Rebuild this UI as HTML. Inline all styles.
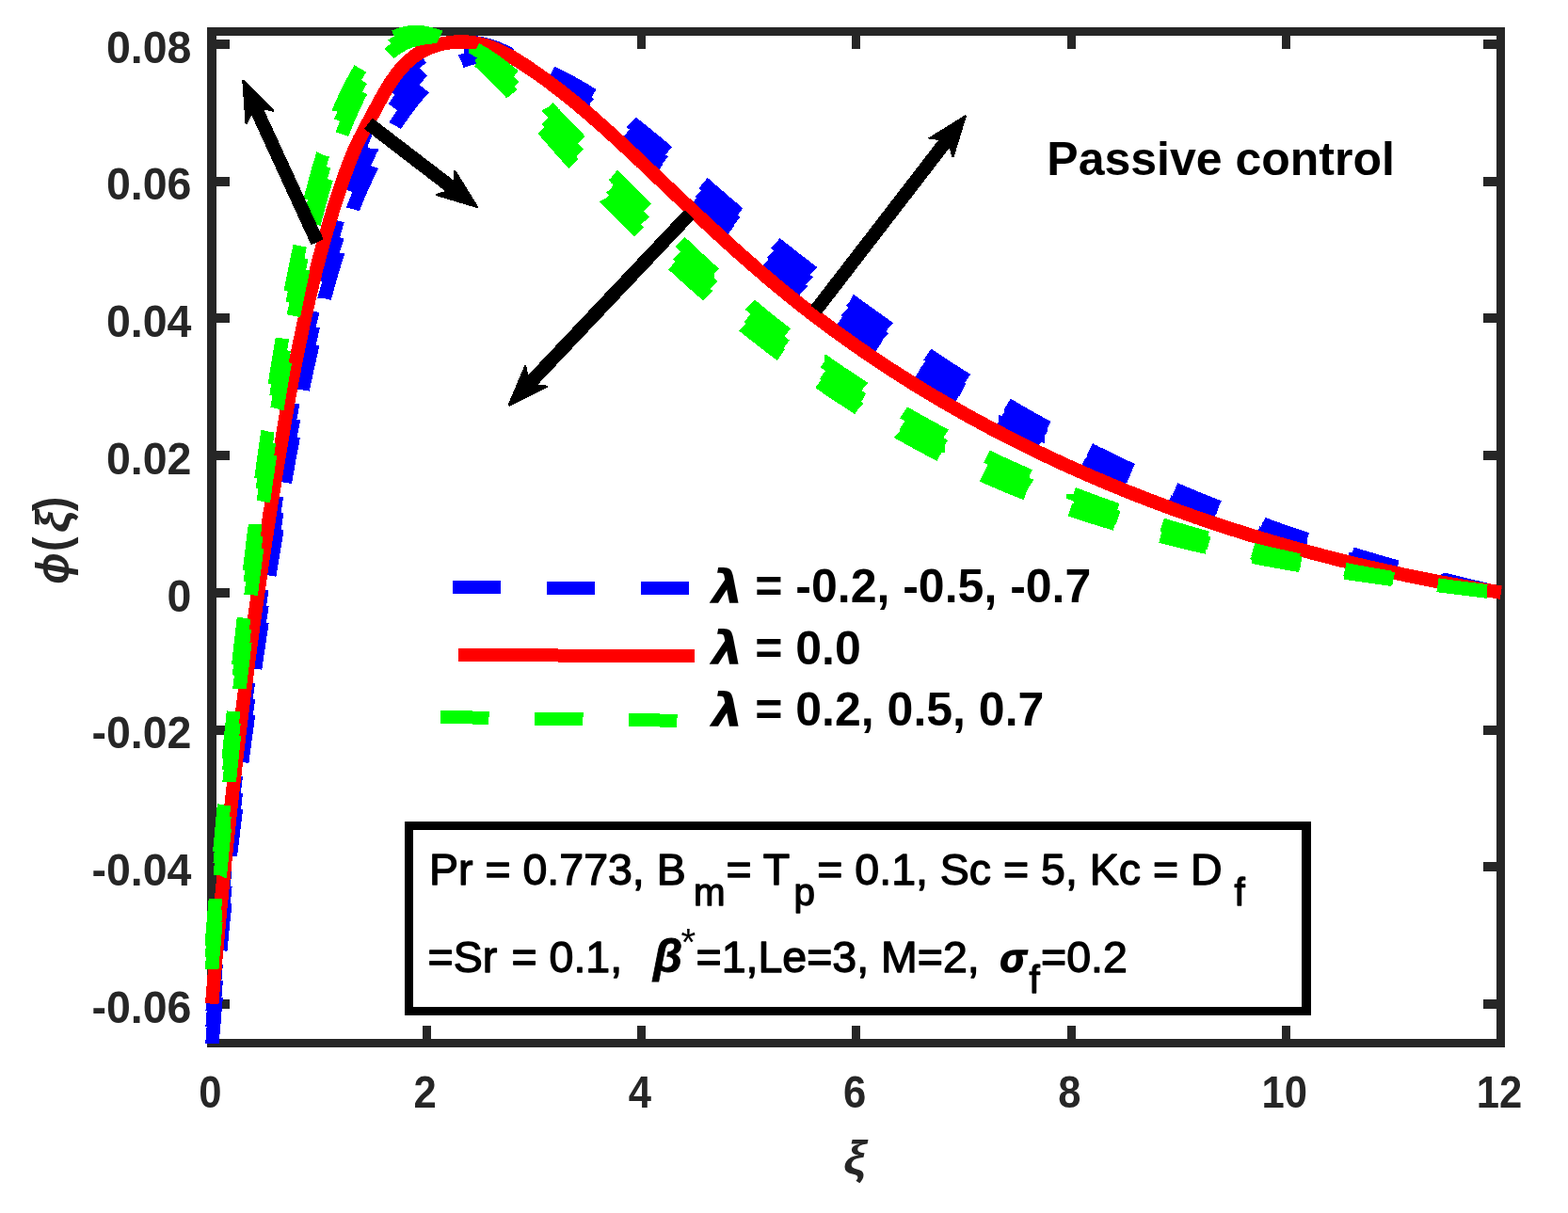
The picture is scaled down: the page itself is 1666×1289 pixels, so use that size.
<!DOCTYPE html>
<html lang="en"><head><meta charset="utf-8"><title>Passive control</title>
<style>html,body{margin:0;padding:0;background:#fff}body{width:1666px;height:1289px;overflow:hidden}svg{display:block}</style>
</head><body>
<svg width="1666" height="1289" viewBox="0 0 1666 1289" role="img" aria-label="Passive control concentration profiles">
<rect width="1666" height="1289" fill="#fff"/>
<defs><clipPath id="ax"><rect x="217.5" y="26.0" width="1378.0" height="1083.0"/></clipPath></defs>
<g shape-rendering="crispEdges" fill="#262626">
<rect x="220" y="29" width="10" height="1084"/>
<rect x="1590" y="29" width="9" height="1084"/>
<rect x="220" y="29" width="1379" height="9"/>
<rect x="220" y="1104" width="1379" height="9"/>
<rect x="220" y="1090" width="9" height="14"/>
<rect x="220" y="38" width="9" height="14"/>
<rect x="449" y="1090" width="9" height="14"/>
<rect x="449" y="38" width="9" height="14"/>
<rect x="677" y="1090" width="9" height="14"/>
<rect x="677" y="38" width="9" height="14"/>
<rect x="905" y="1090" width="9" height="14"/>
<rect x="905" y="38" width="9" height="14"/>
<rect x="1134" y="1090" width="9" height="14"/>
<rect x="1134" y="38" width="9" height="14"/>
<rect x="1362" y="1090" width="9" height="14"/>
<rect x="1362" y="38" width="9" height="14"/>
<rect x="1590" y="1090" width="9" height="14"/>
<rect x="1590" y="38" width="9" height="14"/>
<rect x="230" y="42" width="14" height="10"/>
<rect x="1576" y="42" width="14" height="10"/>
<rect x="230" y="188" width="14" height="10"/>
<rect x="1576" y="188" width="14" height="10"/>
<rect x="230" y="333" width="14" height="10"/>
<rect x="1576" y="333" width="14" height="10"/>
<rect x="230" y="479" width="14" height="10"/>
<rect x="1576" y="479" width="14" height="10"/>
<rect x="230" y="625" width="14" height="10"/>
<rect x="1576" y="625" width="14" height="10"/>
<rect x="230" y="771" width="14" height="10"/>
<rect x="1576" y="771" width="14" height="10"/>
<rect x="230" y="916" width="14" height="10"/>
<rect x="1576" y="916" width="14" height="10"/>
<rect x="230" y="1062" width="14" height="10"/>
<rect x="1576" y="1062" width="14" height="10"/>
</g>
<g font-family="'Liberation Sans', sans-serif" font-weight="bold" font-size="44.5" fill="#262626">
<text transform="translate(203.4,66.6) scale(1.045,1.085)" text-anchor="end">0.08</text>
<text transform="translate(203.4,212.3) scale(1.045,1.085)" text-anchor="end">0.06</text>
<text transform="translate(203.4,358.0) scale(1.045,1.085)" text-anchor="end">0.04</text>
<text transform="translate(203.4,503.7) scale(1.045,1.085)" text-anchor="end">0.02</text>
<text transform="translate(203.4,649.5) scale(1.045,1.085)" text-anchor="end">0</text>
<text transform="translate(203.4,795.2) scale(1.045,1.085)" text-anchor="end">-0.02</text>
<text transform="translate(203.4,940.9) scale(1.045,1.085)" text-anchor="end">-0.04</text>
<text transform="translate(203.4,1086.6) scale(1.045,1.085)" text-anchor="end">-0.06</text>
<text transform="translate(223.4,1176.6) scale(0.980,1.085)" text-anchor="middle">0</text>
<text transform="translate(451.6,1176.6) scale(0.980,1.085)" text-anchor="middle">2</text>
<text transform="translate(679.9,1176.6) scale(0.980,1.085)" text-anchor="middle">4</text>
<text transform="translate(908.1,1176.6) scale(0.980,1.085)" text-anchor="middle">6</text>
<text transform="translate(1136.4,1176.6) scale(0.980,1.085)" text-anchor="middle">8</text>
<text transform="translate(1364.7,1176.6) scale(0.980,1.085)" text-anchor="middle">10</text>
<text transform="translate(1592.9,1176.6) scale(0.980,1.085)" text-anchor="middle">12</text>
</g>
<text transform="translate(896.3,1247) scale(1.06,1)" font-family="'Liberation Sans', 'DejaVu Sans', sans-serif" font-style="italic" font-weight="bold" font-size="50" fill="#262626">ξ</text>
<text transform="translate(72.8,604.0) rotate(-90) scale(0.880,1.000)" text-anchor="middle" font-family="'Liberation Sans', 'DejaVu Sans', sans-serif" font-weight="bold" font-style="italic" font-size="50" fill="#262626">ϕ</text>
<text transform="translate(71.5,578.2) rotate(-90) scale(1.050,1.150)" text-anchor="middle" font-family="'Liberation Sans', sans-serif" font-weight="bold"  font-size="44.4" fill="#262626">(</text>
<text transform="translate(72.8,554.3) rotate(-90) scale(1.050,1.000)" text-anchor="middle" font-family="'Liberation Sans', 'DejaVu Sans', sans-serif" font-weight="bold" font-style="italic" font-size="50" fill="#262626">ξ</text>
<text transform="translate(71.5,535.5) rotate(-90) scale(1.050,1.150)" text-anchor="middle" font-family="'Liberation Sans', sans-serif" font-weight="bold"  font-size="44.4" fill="#262626">)</text>
<g clip-path="url(#ax)" fill="none" stroke-width="14.5" shape-rendering="crispEdges">
<g>
<path d="M225.4,1109.5 L225.5,1108.8 L225.6,1108.0 L225.6,1107.2 L225.7,1106.4 L225.7,1105.6 L225.8,1104.9 L225.9,1104.1 L225.9,1103.3 L226.0,1102.5 L226.0,1101.7 L226.1,1100.9 L226.2,1100.1 L226.2,1099.4 L226.3,1098.6 L226.4,1097.8 L226.4,1097.0 L226.5,1096.2 L226.6,1095.4 L226.6,1094.6 L226.7,1093.8 L226.7,1093.1 L226.8,1092.3 L226.9,1091.5 L226.9,1090.7 L227.0,1089.9 L227.1,1089.1 L227.1,1088.3 L227.2,1087.6 L227.3,1086.8 L227.3,1086.0 L227.4,1085.2 L227.5,1084.4 L227.5,1083.6 L227.6,1082.8 L227.6,1082.1 L227.7,1081.3 L227.8,1080.5 L227.8,1079.7 L227.9,1078.9 L228.0,1078.1 L228.0,1077.3 L228.1,1076.6 L228.2,1075.8 L228.2,1075.0 L228.3,1074.2 L228.4,1073.4 L228.4,1072.6 L228.5,1071.8 L228.6,1071.1 L228.6,1070.3 L228.7,1069.5 L228.8,1068.7 L228.8,1067.9 L228.9,1067.1 L229.0,1066.3 L229.0,1065.6 L229.1,1064.8 L229.2,1064.0 L229.3,1063.2 L229.3,1062.4 L229.4,1061.6 L229.5,1060.8 L229.5,1060.1 L229.6,1059.7 M234.2,1009.4 L234.3,1009.0 L234.3,1008.2 L234.4,1007.4 L234.5,1006.7 L234.6,1005.9 L234.6,1005.1 L234.7,1004.3 L234.8,1003.5 L234.9,1002.7 L234.9,1002.0 L235.0,1001.2 L235.1,1000.4 L235.2,999.6 L235.3,998.8 L235.3,998.0 L235.4,997.2 L235.5,996.5 L235.6,995.7 L235.6,994.9 L235.7,994.1 L235.8,993.3 L235.9,992.5 L236.0,991.8 L236.0,991.0 L236.1,990.2 L236.2,989.4 L236.3,988.6 L236.4,987.8 L236.4,987.0 L236.5,986.3 L236.6,985.5 L236.7,984.7 L236.8,983.9 L236.8,983.1 L236.9,982.3 L237.0,981.6 L237.1,980.8 L237.2,980.0 L237.2,979.2 L237.3,978.4 L237.4,977.6 L237.5,976.8 L237.6,976.1 L237.6,975.3 L237.7,974.5 L237.8,973.7 L237.9,972.9 L238.0,972.1 L238.1,971.4 L238.1,970.6 L238.2,969.8 L238.3,969.0 L238.4,968.2 L238.5,967.4 L238.5,966.6 L238.6,965.9 L238.7,965.1 L238.8,964.3 L238.9,963.5 L239.0,962.7 L239.0,961.9 L239.1,961.2 L239.2,960.4 L239.3,959.6 M244.9,909.5 L244.9,909.4 L245.0,908.6 L245.0,907.9 L245.1,907.1 L245.2,906.3 L245.3,905.5 L245.4,904.7 L245.5,903.9 L245.6,903.2 L245.7,902.4 L245.8,901.6 L245.9,900.8 L246.0,900.0 L246.1,899.2 L246.1,898.5 L246.2,897.7 L246.3,896.9 L246.4,896.1 L246.5,895.3 L246.6,894.5 L246.7,893.8 L246.8,893.0 L246.9,892.2 L247.0,891.4 L247.1,890.6 L247.2,889.8 L247.3,889.1 L247.3,888.3 L247.4,887.5 L247.5,886.7 L247.6,885.9 L247.7,885.1 L247.8,884.4 L247.9,883.6 L248.0,882.8 L248.1,882.0 L248.2,881.2 L248.3,880.4 L248.4,879.7 L248.5,878.9 L248.6,878.1 L248.7,877.3 L248.8,876.5 L248.9,875.7 L248.9,875.0 L249.0,874.2 L249.1,873.4 L249.2,872.6 L249.3,871.8 L249.4,871.0 L249.5,870.3 L249.6,869.5 L249.7,868.7 L249.8,867.9 L249.9,867.1 L250.0,866.3 L250.1,865.6 L250.2,864.8 L250.3,864.0 L250.4,863.2 L250.5,862.4 L250.6,861.7 L250.7,860.9 L250.8,860.1 L250.8,859.8 M257.2,809.7 L257.3,809.2 L257.4,808.5 L257.5,807.7 L257.6,806.9 L257.7,806.1 L257.8,805.3 L257.9,804.5 L258.0,803.8 L258.1,803.0 L258.2,802.2 L258.3,801.4 L258.4,800.6 L258.5,799.9 L258.6,799.1 L258.7,798.3 L258.8,797.5 L258.9,796.7 L259.0,795.9 L259.2,795.2 L259.3,794.4 L259.4,793.6 L259.5,792.8 L259.6,792.0 L259.7,791.3 L259.8,790.5 L259.9,789.7 L260.0,788.9 L260.1,788.1 L260.2,787.3 L260.3,786.6 L260.4,785.8 L260.5,785.0 L260.6,784.2 L260.7,783.4 L260.8,782.7 L261.0,781.9 L261.1,781.1 L261.2,780.3 L261.3,779.5 L261.4,778.7 L261.5,778.0 L261.6,777.2 L261.7,776.4 L261.8,775.6 L261.9,774.8 L262.0,774.1 L262.1,773.3 L262.2,772.5 L262.3,771.7 L262.5,770.9 L262.6,770.1 L262.7,769.4 L262.8,768.6 L262.9,767.8 L263.0,767.0 L263.1,766.2 L263.2,765.5 L263.3,764.7 L263.4,763.9 L263.5,763.1 L263.6,762.3 L263.8,761.6 L263.9,760.8 L263.9,760.2 M271.1,710.6 L271.1,710.0 L271.3,709.2 L271.4,708.5 L271.5,707.7 L271.6,706.9 L271.7,706.1 L271.8,705.3 L271.9,704.6 L272.1,703.8 L272.2,703.0 L272.3,702.2 L272.4,701.4 L272.5,700.7 L272.6,699.9 L272.8,699.1 L272.9,698.3 L273.0,697.5 L273.1,696.8 L273.2,696.0 L273.3,695.2 L273.5,694.4 L273.6,693.6 L273.7,692.9 L273.8,692.1 L273.9,691.3 L274.0,690.5 L274.2,689.7 L274.3,689.0 L274.4,688.2 L274.5,687.4 L274.6,686.6 L274.7,685.8 L274.9,685.1 L275.0,684.3 L275.1,683.5 L275.2,682.7 L275.3,681.9 L275.4,681.2 L275.6,680.4 L275.7,679.6 L275.8,678.8 L275.9,678.0 L276.0,677.3 L276.2,676.5 L276.3,675.7 L276.4,674.9 L276.5,674.1 L276.6,673.4 L276.7,672.6 L276.9,671.8 L277.0,671.0 L277.1,670.2 L277.2,669.5 L277.3,668.7 L277.5,667.9 L277.6,667.1 L277.7,666.3 L277.8,665.6 L277.9,664.8 L278.1,664.0 L278.2,663.2 L278.3,662.4 L278.4,661.7 L278.5,661.1 M286.3,611.6 L286.4,611.0 L286.5,610.2 L286.6,609.4 L286.8,608.7 L286.9,607.9 L287.0,607.1 L287.1,606.3 L287.3,605.6 L287.4,604.8 L287.5,604.0 L287.6,603.2 L287.8,602.4 L287.9,601.7 L288.0,600.9 L288.2,600.1 L288.3,599.3 L288.4,598.5 L288.5,597.8 L288.7,597.0 L288.8,596.2 L288.9,595.4 L289.0,594.7 L289.2,593.9 L289.3,593.1 L289.4,592.3 L289.5,591.5 L289.7,590.8 L289.8,590.0 L289.9,589.2 L290.1,588.4 L290.2,587.6 L290.3,586.9 L290.4,586.1 L290.6,585.3 L290.7,584.5 L290.8,583.8 L290.9,583.0 L291.1,582.2 L291.2,581.4 L291.3,580.6 L291.5,579.9 L291.6,579.1 L291.7,578.3 L291.8,577.5 L292.0,576.8 L292.1,576.0 L292.2,575.2 L292.4,574.4 L292.5,573.6 L292.6,572.9 L292.7,572.1 L292.9,571.3 L293.0,570.5 L293.1,569.7 L293.3,569.0 L293.4,568.2 L293.5,567.4 L293.6,566.6 L293.8,565.9 L293.9,565.1 L294.0,564.3 L294.2,563.5 L294.3,562.7 L294.4,562.3 M302.8,512.8 L302.9,512.2 L303.1,511.4 L303.2,510.7 L303.3,509.9 L303.5,509.1 L303.6,508.3 L303.7,507.6 L303.9,506.8 L304.0,506.0 L304.1,505.2 L304.3,504.4 L304.4,503.7 L304.6,502.9 L304.7,502.1 L304.8,501.3 L305.0,500.6 L305.1,499.8 L305.3,499.0 L305.4,498.2 L305.5,497.5 L305.7,496.7 L305.8,495.9 L305.9,495.1 L306.1,494.4 L306.2,493.6 L306.4,492.8 L306.5,492.0 L306.6,491.3 L306.8,490.5 L306.9,489.7 L307.1,488.9 L307.2,488.1 L307.3,487.4 L307.5,486.6 L307.6,485.8 L307.8,485.0 L307.9,484.3 L308.1,483.5 L308.2,482.7 L308.3,481.9 L308.5,481.2 L308.6,480.4 L308.8,479.6 L308.9,478.8 L309.1,478.1 L309.2,477.3 L309.3,476.5 L309.5,475.7 L309.6,475.0 L309.8,474.2 L309.9,473.4 L310.1,472.6 L310.2,471.9 L310.4,471.1 L310.5,470.3 L310.6,469.5 L310.8,468.8 L310.9,468.0 L311.1,467.2 L311.2,466.4 L311.4,465.7 L311.5,464.9 L311.7,464.1 L311.8,463.7 M321.6,414.5 L321.7,413.9 L321.8,413.1 L322.0,412.3 L322.2,411.6 L322.3,410.8 L322.5,410.0 L322.7,409.3 L322.8,408.5 L323.0,407.7 L323.2,406.9 L323.3,406.2 L323.5,405.4 L323.7,404.6 L323.8,403.9 L324.0,403.1 L324.2,402.3 L324.3,401.6 L324.5,400.8 L324.7,400.0 L324.8,399.2 L325.0,398.5 L325.2,397.7 L325.3,396.9 L325.5,396.2 L325.7,395.4 L325.8,394.6 L326.0,393.9 L326.2,393.1 L326.3,392.3 L326.5,391.6 L326.7,390.8 L326.9,390.0 L327.0,389.2 L327.2,388.5 L327.4,387.7 L327.5,386.9 L327.7,386.2 L327.9,385.4 L328.1,384.6 L328.2,383.9 L328.4,383.1 L328.6,382.3 L328.8,381.6 L328.9,380.8 L329.1,380.0 L329.3,379.3 L329.5,378.5 L329.6,377.7 L329.8,377.0 L330.0,376.2 L330.2,375.4 L330.4,374.6 L330.5,373.9 L330.7,373.1 L330.9,372.3 L331.1,371.6 L331.2,370.8 L331.4,370.0 L331.6,369.3 L331.8,368.5 L332.0,367.7 L332.1,367.0 L332.3,366.2 L332.4,365.7 M344.7,317.4 L344.7,317.3 L344.9,316.5 L345.1,315.8 L345.3,315.0 L345.5,314.3 L345.7,313.5 L345.9,312.7 L346.2,312.0 L346.4,311.2 L346.6,310.5 L346.8,309.7 L347.0,308.9 L347.2,308.2 L347.4,307.4 L347.6,306.7 L347.8,305.9 L348.0,305.1 L348.3,304.4 L348.5,303.6 L348.7,302.9 L348.9,302.1 L349.1,301.3 L349.3,300.6 L349.5,299.8 L349.8,299.1 L350.0,298.3 L350.2,297.5 L350.4,296.8 L350.6,296.0 L350.8,295.3 L351.1,294.5 L351.3,293.8 L351.5,293.0 L351.7,292.2 L351.9,291.5 L352.2,290.7 L352.4,290.0 L352.6,289.2 L352.8,288.4 L353.1,287.7 L353.3,286.9 L353.5,286.2 L353.7,285.4 L354.0,284.7 L354.2,283.9 L354.4,283.1 L354.6,282.4 L354.9,281.6 L355.1,280.9 L355.3,280.1 L355.5,279.4 L355.8,278.6 L356.0,277.9 L356.2,277.1 L356.5,276.3 L356.7,275.6 L356.9,274.8 L357.2,274.1 L357.4,273.3 L357.6,272.6 L357.9,271.8 L358.1,271.1 L358.3,270.3 L358.6,269.6 L358.6,269.4 M375.0,222.3 L375.1,221.9 L375.4,221.1 L375.7,220.4 L376.0,219.6 L376.3,218.9 L376.6,218.2 L376.9,217.4 L377.2,216.7 L377.4,216.0 L377.7,215.3 L378.0,214.5 L378.3,213.8 L378.6,213.1 L378.9,212.3 L379.2,211.6 L379.5,210.9 L379.8,210.1 L380.1,209.4 L380.4,208.7 L380.7,208.0 L381.0,207.2 L381.3,206.5 L381.6,205.8 L381.9,205.0 L382.2,204.3 L382.6,203.6 L382.9,202.9 L383.2,202.1 L383.5,201.4 L383.8,200.7 L384.1,200.0 L384.4,199.2 L384.7,198.5 L385.1,197.8 L385.4,197.1 L385.7,196.4 L386.0,195.6 L386.3,194.9 L386.7,194.2 L387.0,193.5 L387.3,192.8 L387.6,192.0 L388.0,191.3 L388.3,190.6 L388.6,189.9 L389.0,189.2 L389.3,188.5 L389.6,187.7 L390.0,187.0 L390.3,186.3 L390.6,185.6 L391.0,184.9 L391.3,184.2 L391.6,183.5 L392.0,182.8 L392.3,182.0 L392.7,181.3 L393.0,180.6 L393.4,179.9 L393.7,179.2 L394.1,178.5 L394.4,177.8 L394.8,177.1 L395.0,176.5 M419.8,133.3 L419.9,133.1 L420.4,132.4 L420.8,131.7 L421.2,131.1 L421.7,130.4 L422.1,129.7 L422.6,129.1 L423.0,128.4 L423.5,127.8 L423.9,127.1 L424.4,126.4 L424.8,125.8 L425.3,125.1 L425.8,124.5 L426.2,123.8 L426.7,123.2 L427.1,122.5 L427.6,121.8 L428.1,121.2 L428.5,120.5 L429.0,119.9 L429.5,119.2 L430.0,118.6 L430.4,117.9 L430.9,117.3 L431.4,116.6 L431.9,116.0 L432.3,115.3 L432.8,114.7 L433.3,114.1 L433.8,113.4 L434.3,112.8 L434.8,112.1 L435.3,111.5 L435.8,110.8 L436.2,110.2 L436.7,109.6 L437.2,108.9 L437.7,108.3 L438.2,107.7 L438.7,107.0 L439.3,106.4 L439.8,105.8 L440.3,105.1 L440.8,104.5 L441.3,103.9 L441.8,103.3 L442.3,102.6 L442.8,102.0 L443.4,101.4 L443.9,100.8 L444.4,100.2 L444.9,99.6 L445.5,98.9 L446.0,98.3 L446.5,97.7 L447.1,97.1 L447.6,96.5 L448.1,95.9 L448.7,95.3 L449.2,94.8 L449.8,94.2 L450.2,93.7 M490.2,65.2 L490.6,65.0 L491.4,64.8 L492.1,64.5 L492.8,64.3 L493.5,64.0 L494.2,63.8 L494.9,63.5 L495.6,63.3 L496.3,63.1 L497.1,62.9 L497.8,62.6 L498.5,62.4 L499.2,62.2 L500.0,62.0 L500.7,61.9 L501.4,61.7 L502.2,61.5 L502.9,61.3 L503.6,61.2 L504.4,61.0 L505.1,60.9 L505.8,60.8 L506.6,60.6 L507.3,60.5 L508.0,60.4 L508.8,60.3 L509.5,60.2 L510.3,60.1 L511.0,60.0 L511.8,59.9 L512.5,59.8 L513.2,59.8 L514.0,59.7 L514.7,59.7 L515.5,59.6 L516.2,59.6 L517.0,59.6 L517.7,59.5 L518.5,59.5 L519.2,59.5 L520.0,59.5 L520.8,59.5 L521.5,59.5 L522.3,59.5 L523.0,59.5 L523.8,59.6 L524.5,59.6 L525.3,59.6 L526.0,59.7 L526.8,59.7 L527.6,59.8 L528.3,59.8 L529.1,59.9 L529.8,60.0 L530.6,60.0 L531.4,60.1 L532.1,60.2 L532.9,60.3 L533.7,60.4 L534.4,60.5 L535.2,60.6 L535.9,60.7 L536.7,60.9 L537.5,61.0 L538.2,61.1 L539.0,61.3 L539.3,61.3 M586.1,77.3 L586.5,77.5 L587.2,77.8 L587.9,78.1 L588.6,78.5 L589.4,78.8 L590.1,79.2 L590.8,79.5 L591.5,79.9 L592.3,80.2 L593.0,80.6 L593.7,80.9 L594.4,81.3 L595.1,81.6 L595.8,82.0 L596.6,82.4 L597.3,82.7 L598.0,83.1 L598.7,83.4 L599.4,83.8 L600.1,84.2 L600.8,84.5 L601.5,84.9 L602.2,85.3 L602.9,85.7 L603.7,86.0 L604.4,86.4 L605.1,86.8 L605.8,87.2 L606.5,87.5 L607.2,87.9 L607.9,88.3 L608.6,88.7 L609.3,89.1 L609.9,89.4 L610.6,89.8 L611.3,90.2 L612.0,90.6 L612.7,91.0 L613.4,91.4 L614.1,91.8 L614.8,92.2 L615.5,92.6 L616.2,93.0 L616.8,93.4 L617.5,93.8 L618.2,94.2 L618.9,94.6 L619.6,95.0 L620.3,95.4 L620.9,95.8 L621.6,96.2 L622.3,96.6 L623.0,97.0 L623.7,97.4 L624.3,97.8 L625.0,98.3 L625.7,98.7 L626.4,99.1 L627.0,99.5 L627.7,99.9 L628.4,100.3 L629.0,100.8 L629.7,101.2 L629.9,101.3 M670.8,130.0 L671.0,130.2 L671.6,130.7 L672.2,131.2 L672.9,131.7 L673.5,132.2 L674.1,132.6 L674.7,133.1 L675.4,133.6 L676.0,134.1 L676.6,134.6 L677.2,135.1 L677.8,135.6 L678.5,136.1 L679.1,136.5 L679.7,137.0 L680.3,137.5 L680.9,138.0 L681.5,138.5 L682.2,139.0 L682.8,139.5 L683.4,140.0 L684.0,140.5 L684.6,141.0 L685.2,141.5 L685.9,142.0 L686.5,142.5 L687.1,143.0 L687.7,143.5 L688.3,144.0 L688.9,144.5 L689.5,145.0 L690.1,145.5 L690.7,146.0 L691.4,146.5 L692.0,147.0 L692.6,147.5 L693.2,148.0 L693.8,148.5 L694.4,149.0 L695.0,149.5 L695.6,150.0 L696.2,150.5 L696.8,151.0 L697.4,151.5 L698.0,152.0 L698.6,152.5 L699.3,153.0 L699.9,153.5 L700.5,154.1 L701.1,154.6 L701.7,155.1 L702.3,155.6 L702.9,156.1 L703.5,156.6 L704.1,157.1 L704.7,157.6 L705.3,158.1 L705.9,158.6 L706.5,159.2 L707.1,159.7 L707.7,160.2 L708.3,160.7 L708.9,161.2 L709.5,161.7 M747.1,194.5 L747.7,195.0 L748.2,195.5 L748.8,196.0 L749.4,196.6 L750.0,197.1 L750.6,197.6 L751.2,198.1 L751.8,198.6 L752.4,199.2 L753.0,199.7 L753.6,200.2 L754.2,200.7 L754.8,201.2 L755.4,201.8 L756.0,202.3 L756.6,202.8 L757.2,203.3 L757.8,203.8 L758.4,204.3 L759.0,204.9 L759.6,205.4 L760.2,205.9 L760.8,206.4 L761.4,206.9 L762.0,207.5 L762.6,208.0 L763.2,208.5 L763.8,209.0 L764.4,209.5 L765.0,210.0 L765.5,210.5 L766.1,211.1 L766.7,211.6 L767.3,212.1 L767.9,212.6 L768.5,213.1 L769.1,213.6 L769.7,214.1 L770.3,214.7 L770.9,215.2 L771.5,215.7 L772.2,216.2 L772.8,216.7 L773.4,217.2 L774.0,217.7 L774.6,218.2 L775.2,218.7 L775.8,219.3 L776.4,219.8 L777.0,220.3 L777.6,220.8 L778.2,221.3 L778.8,221.8 L779.4,222.3 L780.0,222.8 L780.6,223.3 L781.2,223.8 L781.8,224.3 L782.4,224.9 L783.0,225.4 L783.6,225.9 L784.2,226.4 L784.8,226.9 L785.1,227.1 M823.9,258.6 L824.0,258.7 L824.6,259.2 L825.2,259.7 L825.8,260.2 L826.4,260.7 L827.0,261.1 L827.7,261.6 L828.3,262.1 L828.9,262.6 L829.5,263.1 L830.1,263.6 L830.8,264.1 L831.4,264.6 L832.0,265.0 L832.6,265.5 L833.2,266.0 L833.9,266.5 L834.5,267.0 L835.1,267.5 L835.7,268.0 L836.3,268.4 L837.0,268.9 L837.6,269.4 L838.2,269.9 L838.8,270.4 L839.4,270.9 L840.1,271.4 L840.7,271.8 L841.3,272.3 L841.9,272.8 L842.5,273.3 L843.2,273.8 L843.8,274.3 L844.4,274.7 L845.0,275.2 L845.7,275.7 L846.3,276.2 L846.9,276.7 L847.5,277.1 L848.2,277.6 L848.8,278.1 L849.4,278.6 L850.0,279.1 L850.6,279.6 L851.3,280.0 L851.9,280.5 L852.5,281.0 L853.1,281.5 L853.8,282.0 L854.4,282.4 L855.0,282.9 L855.6,283.4 L856.3,283.9 L856.9,284.3 L857.5,284.8 L858.1,285.3 L858.8,285.8 L859.4,286.3 L860.0,286.7 L860.7,287.2 L861.3,287.7 L861.9,288.2 L862.5,288.6 L863.2,289.1 L863.4,289.3 M903.4,319.2 L903.6,319.3 L904.2,319.8 L904.9,320.2 L905.5,320.7 L906.1,321.2 L906.8,321.6 L907.4,322.1 L908.0,322.6 L908.7,323.0 L909.3,323.5 L910.0,324.0 L910.6,324.4 L911.2,324.9 L911.9,325.4 L912.5,325.8 L913.1,326.3 L913.8,326.8 L914.4,327.2 L915.1,327.7 L915.7,328.1 L916.3,328.6 L917.0,329.1 L917.6,329.5 L918.3,330.0 L918.9,330.5 L919.5,330.9 L920.2,331.4 L920.8,331.8 L921.5,332.3 L922.1,332.8 L922.7,333.2 L923.4,333.7 L924.0,334.1 L924.7,334.6 L925.3,335.1 L925.9,335.5 L926.6,336.0 L927.2,336.4 L927.9,336.9 L928.5,337.4 L929.1,337.8 L929.8,338.3 L930.4,338.7 L931.1,339.2 L931.7,339.6 L932.4,340.1 L933.0,340.6 L933.6,341.0 L934.3,341.5 L934.9,341.9 L935.6,342.4 L936.2,342.8 L936.9,343.3 L937.5,343.8 L938.1,344.2 L938.8,344.7 L939.4,345.1 L940.1,345.6 L940.7,346.0 L941.4,346.5 L942.0,346.9 L942.7,347.4 L943.3,347.9 L944.0,348.3 L944.1,348.4 M985.3,376.7 L985.6,376.9 L986.3,377.3 L986.9,377.7 L987.6,378.2 L988.2,378.6 L988.9,379.0 L989.5,379.5 L990.2,379.9 L990.9,380.4 L991.5,380.8 L992.2,381.2 L992.8,381.7 L993.5,382.1 L994.1,382.5 L994.8,383.0 L995.5,383.4 L996.1,383.8 L996.8,384.3 L997.4,384.7 L998.1,385.1 L998.8,385.6 L999.4,386.0 L1000.1,386.4 L1000.7,386.9 L1001.4,387.3 L1002.1,387.7 L1002.7,388.2 L1003.4,388.6 L1004.0,389.0 L1004.7,389.4 L1005.4,389.9 L1006.0,390.3 L1006.7,390.7 L1007.3,391.2 L1008.0,391.6 L1008.7,392.0 L1009.3,392.5 L1010.0,392.9 L1010.7,393.3 L1011.3,393.7 L1012.0,394.2 L1012.6,394.6 L1013.3,395.0 L1014.0,395.4 L1014.6,395.9 L1015.3,396.3 L1016.0,396.7 L1016.6,397.1 L1017.3,397.6 L1018.0,398.0 L1018.6,398.4 L1019.3,398.8 L1020.0,399.3 L1020.6,399.7 L1021.3,400.1 L1022.0,400.5 L1022.6,401.0 L1023.3,401.4 L1024.0,401.8 L1024.6,402.2 L1025.3,402.6 L1026.0,403.1 L1026.6,403.5 L1027.2,403.9 M1069.9,429.9 L1070.4,430.2 L1071.1,430.6 L1071.7,431.0 L1072.4,431.4 L1073.1,431.8 L1073.8,432.2 L1074.5,432.5 L1075.1,432.9 L1075.8,433.3 L1076.5,433.7 L1077.2,434.1 L1077.9,434.5 L1078.5,434.9 L1079.2,435.3 L1079.9,435.7 L1080.6,436.1 L1081.3,436.5 L1082.0,436.9 L1082.6,437.3 L1083.3,437.7 L1084.0,438.1 L1084.7,438.5 L1085.4,438.9 L1086.1,439.3 L1086.7,439.6 L1087.4,440.0 L1088.1,440.4 L1088.8,440.8 L1089.5,441.2 L1090.2,441.6 L1090.9,442.0 L1091.5,442.4 L1092.2,442.8 L1092.9,443.2 L1093.6,443.5 L1094.3,443.9 L1095.0,444.3 L1095.7,444.7 L1096.3,445.1 L1097.0,445.5 L1097.7,445.9 L1098.4,446.2 L1099.1,446.6 L1099.8,447.0 L1100.5,447.4 L1101.2,447.8 L1101.8,448.2 L1102.5,448.6 L1103.2,448.9 L1103.9,449.3 L1104.6,449.7 L1105.3,450.1 L1106.0,450.5 L1106.7,450.8 L1107.4,451.2 L1108.1,451.6 L1108.7,452.0 L1109.4,452.4 L1110.1,452.7 L1110.8,453.1 L1111.5,453.5 L1112.2,453.9 L1112.9,454.3 L1113.4,454.5 M1157.7,477.7 L1158.3,478.0 L1159.0,478.4 L1159.7,478.7 L1160.4,479.1 L1161.1,479.4 L1161.8,479.8 L1162.5,480.1 L1163.2,480.5 L1163.9,480.8 L1164.6,481.2 L1165.3,481.5 L1166.0,481.9 L1166.7,482.2 L1167.5,482.6 L1168.2,482.9 L1168.9,483.3 L1169.6,483.6 L1170.3,484.0 L1171.0,484.3 L1171.7,484.7 L1172.4,485.0 L1173.1,485.4 L1173.8,485.7 L1174.5,486.1 L1175.2,486.4 L1175.9,486.8 L1176.7,487.1 L1177.4,487.5 L1178.1,487.8 L1178.8,488.1 L1179.5,488.5 L1180.2,488.8 L1180.9,489.2 L1181.6,489.5 L1182.3,489.9 L1183.0,490.2 L1183.8,490.5 L1184.5,490.9 L1185.2,491.2 L1185.9,491.6 L1186.6,491.9 L1187.3,492.2 L1188.0,492.6 L1188.7,492.9 L1189.4,493.3 L1190.2,493.6 L1190.9,493.9 L1191.6,494.3 L1192.3,494.6 L1193.0,494.9 L1193.7,495.3 L1194.4,495.6 L1195.1,496.0 L1195.9,496.3 L1196.6,496.6 L1197.3,497.0 L1198.0,497.3 L1198.7,497.6 L1199.4,498.0 L1200.1,498.3 L1200.9,498.6 L1201.6,499.0 L1202.3,499.3 L1202.7,499.5 M1248.4,519.9 L1249.1,520.2 L1249.8,520.5 L1250.6,520.8 L1251.3,521.1 L1252.0,521.4 L1252.7,521.7 L1253.5,522.0 L1254.2,522.4 L1254.9,522.7 L1255.6,523.0 L1256.4,523.3 L1257.1,523.6 L1257.8,523.9 L1258.6,524.2 L1259.3,524.5 L1260.0,524.8 L1260.7,525.1 L1261.5,525.4 L1262.2,525.7 L1262.9,526.0 L1263.6,526.3 L1264.4,526.6 L1265.1,526.9 L1265.8,527.2 L1266.6,527.5 L1267.3,527.9 L1268.0,528.2 L1268.7,528.5 L1269.5,528.8 L1270.2,529.1 L1270.9,529.4 L1271.7,529.7 L1272.4,530.0 L1273.1,530.3 L1273.9,530.6 L1274.6,530.9 L1275.3,531.2 L1276.0,531.5 L1276.8,531.8 L1277.5,532.0 L1278.2,532.3 L1279.0,532.6 L1279.7,532.9 L1280.4,533.2 L1281.2,533.5 L1281.9,533.8 L1282.6,534.1 L1283.4,534.4 L1284.1,534.7 L1284.8,535.0 L1285.6,535.3 L1286.3,535.6 L1287.0,535.9 L1287.8,536.2 L1288.5,536.5 L1289.2,536.8 L1290.0,537.1 L1290.7,537.4 L1291.4,537.6 L1292.2,537.9 L1292.9,538.2 L1293.6,538.5 L1294.4,538.8 L1294.6,538.9 M1341.4,556.6 L1341.6,556.7 L1342.3,557.0 L1343.1,557.3 L1343.8,557.5 L1344.6,557.8 L1345.3,558.1 L1346.0,558.3 L1346.8,558.6 L1347.5,558.9 L1348.3,559.1 L1349.0,559.4 L1349.8,559.7 L1350.5,559.9 L1351.2,560.2 L1352.0,560.5 L1352.7,560.7 L1353.5,561.0 L1354.2,561.3 L1355.0,561.5 L1355.7,561.8 L1356.5,562.0 L1357.2,562.3 L1357.9,562.6 L1358.7,562.8 L1359.4,563.1 L1360.2,563.4 L1360.9,563.6 L1361.7,563.9 L1362.4,564.1 L1363.2,564.4 L1363.9,564.7 L1364.6,564.9 L1365.4,565.2 L1366.1,565.4 L1366.9,565.7 L1367.6,566.0 L1368.4,566.2 L1369.1,566.5 L1369.9,566.7 L1370.6,567.0 L1371.4,567.2 L1372.1,567.5 L1372.8,567.8 L1373.6,568.0 L1374.3,568.3 L1375.1,568.5 L1375.8,568.8 L1376.6,569.0 L1377.3,569.3 L1378.1,569.6 L1378.8,569.8 L1379.6,570.1 L1380.3,570.3 L1381.1,570.6 L1381.8,570.8 L1382.6,571.1 L1383.3,571.3 L1384.1,571.6 L1384.8,571.8 L1385.6,572.1 L1386.3,572.3 L1387.1,572.6 L1387.8,572.8 L1388.5,573.1 L1388.6,573.1 M1436.2,588.3 L1436.7,588.5 L1437.4,588.7 L1438.2,588.9 L1438.9,589.2 L1439.7,589.4 L1440.4,589.6 L1441.2,589.9 L1441.9,590.1 L1442.7,590.3 L1443.4,590.5 L1444.2,590.8 L1445.0,591.0 L1445.7,591.2 L1446.5,591.5 L1447.2,591.7 L1448.0,591.9 L1448.7,592.1 L1449.5,592.4 L1450.2,592.6 L1451.0,592.8 L1451.8,593.0 L1452.5,593.3 L1453.3,593.5 L1454.0,593.7 L1454.8,593.9 L1455.5,594.2 L1456.3,594.4 L1457.1,594.6 L1457.8,594.8 L1458.6,595.1 L1459.3,595.3 L1460.1,595.5 L1460.8,595.7 L1461.6,595.9 L1462.3,596.2 L1463.1,596.4 L1463.9,596.6 L1464.6,596.8 L1465.4,597.0 L1466.1,597.3 L1466.9,597.5 L1467.6,597.7 L1468.4,597.9 L1469.2,598.1 L1469.9,598.4 L1470.7,598.6 L1471.4,598.8 L1472.2,599.0 L1473.0,599.2 L1473.7,599.4 L1474.5,599.7 L1475.2,599.9 L1476.0,600.1 L1476.7,600.3 L1477.5,600.5 L1478.3,600.7 L1479.0,601.0 L1479.8,601.2 L1480.5,601.4 L1481.3,601.6 L1482.1,601.8 L1482.8,602.0 L1483.6,602.2 L1484.2,602.4 M1532.5,615.3 L1533.0,615.5 L1533.8,615.7 L1534.6,615.9 L1535.3,616.1 L1536.1,616.3 L1536.8,616.5 L1537.6,616.7 L1538.4,616.8 L1539.1,617.0 L1539.9,617.2 L1540.7,617.4 L1541.4,617.6 L1542.2,617.8 L1543.0,618.0 L1543.7,618.2 L1544.5,618.4 L1545.2,618.6 L1546.0,618.8 L1546.8,619.0 L1547.5,619.1 L1548.3,619.3 L1549.1,619.5 L1549.8,619.7 L1550.6,619.9 L1551.4,620.1 L1552.1,620.3 L1552.9,620.5 L1553.6,620.6 L1554.4,620.8 L1555.2,621.0 L1555.9,621.2 L1556.7,621.4 L1557.5,621.6 L1558.2,621.8 L1559.0,622.0 L1559.8,622.1 L1560.5,622.3 L1561.3,622.5 L1562.1,622.7 L1562.8,622.9 L1563.6,623.1 L1564.3,623.2 L1565.1,623.4 L1565.9,623.6 L1566.6,623.8 L1567.4,624.0 L1568.2,624.2 L1568.9,624.3 L1569.7,624.5 L1570.5,624.7 L1571.2,624.9 L1572.0,625.1 L1572.8,625.2 L1573.5,625.4 L1574.3,625.6 L1575.1,625.8 L1575.8,626.0 L1576.6,626.1 L1577.3,626.3 L1578.1,626.5 L1578.9,626.7 L1579.6,626.9 L1580.4,627.0 L1581.1,627.2" stroke="#0000ff"/>
<path d="M225.6,1091.4 L225.6,1091.2 L225.7,1090.4 L225.7,1089.6 L225.8,1088.8 L225.8,1088.1 L225.9,1087.3 L226.0,1086.5 L226.0,1085.7 L226.1,1084.9 L226.1,1084.1 L226.2,1083.3 L226.3,1082.5 L226.3,1081.7 L226.4,1080.9 L226.5,1080.1 L226.5,1079.3 L226.6,1078.6 L226.7,1077.8 L226.7,1077.0 L226.8,1076.2 L226.8,1075.4 L226.9,1074.6 L227.0,1073.8 L227.0,1073.0 L227.1,1072.2 L227.2,1071.4 L227.2,1070.6 L227.3,1069.9 L227.4,1069.1 L227.4,1068.3 L227.5,1067.5 L227.6,1066.7 L227.6,1065.9 L227.7,1065.1 L227.8,1064.3 L227.8,1063.5 L227.9,1062.7 L228.0,1061.9 L228.0,1061.1 L228.1,1060.4 L228.2,1059.6 L228.2,1058.8 L228.3,1058.0 L228.4,1057.2 L228.4,1056.4 L228.5,1055.6 L228.6,1054.8 L228.6,1054.0 L228.7,1053.2 L228.8,1052.4 L228.8,1051.7 L228.9,1050.9 L229.0,1050.1 L229.0,1049.3 L229.1,1048.5 L229.2,1047.7 L229.2,1046.9 L229.3,1046.1 L229.4,1045.3 L229.4,1044.5 L229.5,1043.7 L229.6,1043.0 L229.6,1042.2 L229.7,1041.6 M234.3,991.3 L234.4,990.8 L234.5,990.0 L234.5,989.2 L234.6,988.4 L234.7,987.6 L234.8,986.8 L234.9,986.0 L234.9,985.2 L235.0,984.4 L235.1,983.6 L235.2,982.8 L235.2,982.1 L235.3,981.3 L235.4,980.5 L235.5,979.7 L235.6,978.9 L235.6,978.1 L235.7,977.3 L235.8,976.5 L235.9,975.7 L235.9,974.9 L236.0,974.1 L236.1,973.4 L236.2,972.6 L236.3,971.8 L236.3,971.0 L236.4,970.2 L236.5,969.4 L236.6,968.6 L236.7,967.8 L236.7,967.0 L236.8,966.2 L236.9,965.5 L237.0,964.7 L237.1,963.9 L237.1,963.1 L237.2,962.3 L237.3,961.5 L237.4,960.7 L237.5,959.9 L237.6,959.1 L237.6,958.3 L237.7,957.5 L237.8,956.8 L237.9,956.0 L238.0,955.2 L238.0,954.4 L238.1,953.6 L238.2,952.8 L238.3,952.0 L238.4,951.2 L238.5,950.4 L238.5,949.6 L238.6,948.9 L238.7,948.1 L238.8,947.3 L238.9,946.5 L239.0,945.7 L239.0,944.9 L239.1,944.1 L239.2,943.3 L239.3,942.5 L239.4,941.7 L239.4,941.6 M244.9,891.4 L245.0,891.2 L245.1,890.4 L245.2,889.6 L245.2,888.8 L245.3,888.0 L245.4,887.2 L245.5,886.4 L245.6,885.7 L245.7,884.9 L245.8,884.1 L245.9,883.3 L246.0,882.5 L246.1,881.7 L246.2,880.9 L246.3,880.1 L246.3,879.3 L246.4,878.6 L246.5,877.8 L246.6,877.0 L246.7,876.2 L246.8,875.4 L246.9,874.6 L247.0,873.8 L247.1,873.0 L247.2,872.2 L247.3,871.4 L247.4,870.7 L247.5,869.9 L247.6,869.1 L247.6,868.3 L247.7,867.5 L247.8,866.7 L247.9,865.9 L248.0,865.1 L248.1,864.3 L248.2,863.6 L248.3,862.8 L248.4,862.0 L248.5,861.2 L248.6,860.4 L248.7,859.6 L248.8,858.8 L248.9,858.0 L249.0,857.2 L249.1,856.4 L249.2,855.7 L249.3,854.9 L249.4,854.1 L249.5,853.3 L249.5,852.5 L249.6,851.7 L249.7,850.9 L249.8,850.1 L249.9,849.3 L250.0,848.6 L250.1,847.8 L250.2,847.0 L250.3,846.2 L250.4,845.4 L250.5,844.6 L250.6,843.8 L250.7,843.0 L250.8,842.2 L250.9,841.7 M257.3,791.7 L257.3,791.0 L257.4,790.2 L257.6,789.4 L257.7,788.6 L257.8,787.8 L257.9,787.0 L258.0,786.3 L258.1,785.5 L258.2,784.7 L258.3,783.9 L258.4,783.1 L258.5,782.3 L258.6,781.5 L258.7,780.7 L258.8,779.9 L258.9,779.2 L259.0,778.4 L259.1,777.6 L259.2,776.8 L259.3,776.0 L259.4,775.2 L259.5,774.4 L259.6,773.6 L259.8,772.9 L259.9,772.1 L260.0,771.3 L260.1,770.5 L260.2,769.7 L260.3,768.9 L260.4,768.1 L260.5,767.3 L260.6,766.6 L260.7,765.8 L260.8,765.0 L260.9,764.2 L261.0,763.4 L261.1,762.6 L261.2,761.8 L261.4,761.0 L261.5,760.3 L261.6,759.5 L261.7,758.7 L261.8,757.9 L261.9,757.1 L262.0,756.3 L262.1,755.5 L262.2,754.7 L262.3,753.9 L262.4,753.2 L262.5,752.4 L262.7,751.6 L262.8,750.8 L262.9,750.0 L263.0,749.2 L263.1,748.4 L263.2,747.6 L263.3,746.9 L263.4,746.1 L263.5,745.3 L263.6,744.5 L263.7,743.7 L263.9,742.9 L264.0,742.1 M271.1,692.5 L271.2,691.8 L271.3,691.0 L271.4,690.2 L271.5,689.4 L271.6,688.6 L271.7,687.8 L271.9,687.1 L272.0,686.3 L272.1,685.5 L272.2,684.7 L272.3,683.9 L272.4,683.1 L272.6,682.3 L272.7,681.5 L272.8,680.8 L272.9,680.0 L273.0,679.2 L273.1,678.4 L273.3,677.6 L273.4,676.8 L273.5,676.0 L273.6,675.3 L273.7,674.5 L273.8,673.7 L274.0,672.9 L274.1,672.1 L274.2,671.3 L274.3,670.5 L274.4,669.8 L274.5,669.0 L274.7,668.2 L274.8,667.4 L274.9,666.6 L275.0,665.8 L275.1,665.0 L275.3,664.3 L275.4,663.5 L275.5,662.7 L275.6,661.9 L275.7,661.1 L275.9,660.3 L276.0,659.5 L276.1,658.8 L276.2,658.0 L276.3,657.2 L276.4,656.4 L276.6,655.6 L276.7,654.8 L276.8,654.0 L276.9,653.3 L277.0,652.5 L277.2,651.7 L277.3,650.9 L277.4,650.1 L277.5,649.3 L277.6,648.5 L277.8,647.8 L277.9,647.0 L278.0,646.2 L278.1,645.4 L278.2,644.6 L278.4,643.8 L278.5,643.1 M286.3,593.6 L286.4,592.8 L286.5,592.0 L286.6,591.2 L286.8,590.5 L286.9,589.7 L287.0,588.9 L287.1,588.1 L287.3,587.3 L287.4,586.5 L287.5,585.7 L287.6,585.0 L287.8,584.2 L287.9,583.4 L288.0,582.6 L288.1,581.8 L288.3,581.0 L288.4,580.3 L288.5,579.5 L288.7,578.7 L288.8,577.9 L288.9,577.1 L289.0,576.3 L289.2,575.6 L289.3,574.8 L289.4,574.0 L289.5,573.2 L289.7,572.4 L289.8,571.6 L289.9,570.9 L290.1,570.1 L290.2,569.3 L290.3,568.5 L290.4,567.7 L290.6,566.9 L290.7,566.2 L290.8,565.4 L291.0,564.6 L291.1,563.8 L291.2,563.0 L291.3,562.2 L291.5,561.4 L291.6,560.7 L291.7,559.9 L291.9,559.1 L292.0,558.3 L292.1,557.5 L292.2,556.7 L292.4,556.0 L292.5,555.2 L292.6,554.4 L292.8,553.6 L292.9,552.8 L293.0,552.0 L293.2,551.3 L293.3,550.5 L293.4,549.7 L293.5,548.9 L293.7,548.1 L293.8,547.3 L293.9,546.6 L294.1,545.8 L294.2,545.0 L294.3,544.2 L294.3,544.2 M302.8,494.8 L302.9,494.1 L303.0,493.4 L303.2,492.6 L303.3,491.8 L303.5,491.0 L303.6,490.2 L303.7,489.5 L303.9,488.7 L304.0,487.9 L304.2,487.1 L304.3,486.3 L304.4,485.6 L304.6,484.8 L304.7,484.0 L304.9,483.2 L305.0,482.4 L305.1,481.6 L305.3,480.9 L305.4,480.1 L305.6,479.3 L305.7,478.5 L305.8,477.7 L306.0,477.0 L306.1,476.2 L306.3,475.4 L306.4,474.6 L306.6,473.8 L306.7,473.1 L306.8,472.3 L307.0,471.5 L307.1,470.7 L307.3,469.9 L307.4,469.2 L307.6,468.4 L307.7,467.6 L307.8,466.8 L308.0,466.0 L308.1,465.3 L308.3,464.5 L308.4,463.7 L308.6,462.9 L308.7,462.1 L308.9,461.3 L309.0,460.6 L309.2,459.8 L309.3,459.0 L309.4,458.2 L309.6,457.4 L309.7,456.7 L309.9,455.9 L310.0,455.1 L310.2,454.3 L310.3,453.5 L310.5,452.8 L310.6,452.0 L310.8,451.2 L310.9,450.4 L311.1,449.7 L311.2,448.9 L311.4,448.1 L311.5,447.3 L311.7,446.5 L311.8,445.8 L311.8,445.6 M321.7,396.5 L321.8,395.9 L322.0,395.2 L322.2,394.4 L322.3,393.6 L322.5,392.8 L322.7,392.1 L322.8,391.3 L323.0,390.5 L323.2,389.7 L323.3,389.0 L323.5,388.2 L323.7,387.4 L323.8,386.6 L324.0,385.8 L324.2,385.1 L324.3,384.3 L324.5,383.5 L324.7,382.7 L324.8,382.0 L325.0,381.2 L325.2,380.4 L325.4,379.6 L325.5,378.9 L325.7,378.1 L325.9,377.3 L326.0,376.5 L326.2,375.8 L326.4,375.0 L326.6,374.2 L326.7,373.4 L326.9,372.7 L327.1,371.9 L327.2,371.1 L327.4,370.3 L327.6,369.6 L327.8,368.8 L327.9,368.0 L328.1,367.2 L328.3,366.5 L328.5,365.7 L328.6,364.9 L328.8,364.1 L329.0,363.4 L329.2,362.6 L329.4,361.8 L329.5,361.0 L329.7,360.3 L329.9,359.5 L330.1,358.7 L330.2,357.9 L330.4,357.2 L330.6,356.4 L330.8,355.6 L331.0,354.8 L331.1,354.1 L331.3,353.3 L331.5,352.5 L331.7,351.7 L331.9,351.0 L332.0,350.2 L332.2,349.4 L332.4,348.6 L332.6,347.9 L332.6,347.7 M344.8,299.4 L344.8,299.2 L345.0,298.4 L345.2,297.7 L345.4,296.9 L345.6,296.1 L345.9,295.4 L346.1,294.6 L346.3,293.8 L346.5,293.1 L346.7,292.3 L346.9,291.5 L347.1,290.7 L347.3,290.0 L347.5,289.2 L347.7,288.4 L347.9,287.7 L348.2,286.9 L348.4,286.1 L348.6,285.4 L348.8,284.6 L349.0,283.8 L349.2,283.0 L349.4,282.3 L349.7,281.5 L349.9,280.7 L350.1,280.0 L350.3,279.2 L350.5,278.4 L350.7,277.7 L351.0,276.9 L351.2,276.1 L351.4,275.4 L351.6,274.6 L351.8,273.8 L352.0,273.1 L352.3,272.3 L352.5,271.5 L352.7,270.8 L352.9,270.0 L353.2,269.2 L353.4,268.5 L353.6,267.7 L353.8,266.9 L354.1,266.2 L354.3,265.4 L354.5,264.6 L354.7,263.9 L355.0,263.1 L355.2,262.3 L355.4,261.6 L355.6,260.8 L355.9,260.0 L356.1,259.3 L356.3,258.5 L356.6,257.7 L356.8,257.0 L357.0,256.2 L357.3,255.5 L357.5,254.7 L357.7,253.9 L358.0,253.2 L358.2,252.4 L358.4,251.6 L358.5,251.3 M374.7,204.2 L374.7,204.2 L375.0,203.4 L375.2,202.7 L375.5,202.0 L375.8,201.2 L376.1,200.5 L376.4,199.7 L376.7,199.0 L377.0,198.3 L377.2,197.5 L377.5,196.8 L377.8,196.1 L378.1,195.3 L378.4,194.6 L378.7,193.8 L379.0,193.1 L379.3,192.4 L379.6,191.6 L379.9,190.9 L380.2,190.2 L380.5,189.4 L380.8,188.7 L381.1,188.0 L381.4,187.2 L381.7,186.5 L382.0,185.8 L382.3,185.0 L382.6,184.3 L382.9,183.6 L383.2,182.9 L383.6,182.1 L383.9,181.4 L384.2,180.7 L384.5,179.9 L384.8,179.2 L385.1,178.5 L385.4,177.8 L385.8,177.0 L386.1,176.3 L386.4,175.6 L386.7,174.9 L387.0,174.2 L387.4,173.4 L387.7,172.7 L388.0,172.0 L388.3,171.3 L388.6,170.5 L389.0,169.8 L389.3,169.1 L389.6,168.4 L390.0,167.7 L390.3,167.0 L390.6,166.2 L391.0,165.5 L391.3,164.8 L391.6,164.1 L392.0,163.4 L392.3,162.7 L392.6,162.0 L393.0,161.2 L393.3,160.5 L393.7,159.8 L394.0,159.1 L394.4,158.4 L394.4,158.3 M418.6,114.8 L418.9,114.4 L419.3,113.7 L419.8,113.0 L420.2,112.4 L420.6,111.7 L421.1,111.1 L421.5,110.4 L421.9,109.7 L422.4,109.1 L422.8,108.4 L423.2,107.8 L423.7,107.1 L424.1,106.5 L424.6,105.8 L425.0,105.2 L425.5,104.5 L425.9,103.8 L426.3,103.2 L426.8,102.5 L427.2,101.9 L427.7,101.2 L428.2,100.6 L428.6,100.0 L429.1,99.3 L429.5,98.7 L430.0,98.0 L430.5,97.4 L430.9,96.7 L431.4,96.1 L431.9,95.5 L432.3,94.8 L432.8,94.2 L433.3,93.6 L433.8,92.9 L434.2,92.3 L434.7,91.7 L435.2,91.1 L435.7,90.4 L436.2,89.8 L436.7,89.2 L437.2,88.6 L437.7,88.0 L438.2,87.4 L438.7,86.8 L439.2,86.1 L439.7,85.5 L440.2,84.9 L440.7,84.3 L441.3,83.8 L441.8,83.2 L442.3,82.6 L442.8,82.0 L443.4,81.4 L443.9,80.8 L444.5,80.3 L445.0,79.7 L445.6,79.1 L446.1,78.6 L446.7,78.0 L447.3,77.4 L447.8,76.9 L448.4,76.3 L449.0,75.8 L449.3,75.5 M492.8,53.2 L493.1,53.1 L493.9,53.0 L494.7,52.8 L495.5,52.7 L496.3,52.6 L497.1,52.4 L497.9,52.3 L498.7,52.2 L499.6,52.1 L500.4,52.0 L501.2,51.9 L502.0,51.8 L502.8,51.8 L503.5,51.7 L504.3,51.7 L505.1,51.6 L505.9,51.6 L506.7,51.6 L507.5,51.5 L508.3,51.5 L509.1,51.5 L509.9,51.5 L510.6,51.5 L511.4,51.6 L512.2,51.6 L513.0,51.6 L513.7,51.7 L514.5,51.7 L515.3,51.8 L516.0,51.9 L516.8,51.9 L517.6,52.0 L518.3,52.1 L519.1,52.2 L519.9,52.3 L520.6,52.4 L521.4,52.6 L522.1,52.7 L522.9,52.8 L523.6,53.0 L524.4,53.1 L525.1,53.3 L525.9,53.4 L526.6,53.6 L527.4,53.8 L528.1,53.9 L528.8,54.1 L529.6,54.3 L530.3,54.5 L531.1,54.7 L531.8,54.9 L532.5,55.1 L533.3,55.3 L534.0,55.6 L534.7,55.8 L535.5,56.0 L536.2,56.3 L536.9,56.5 L537.6,56.8 L538.4,57.0 L539.1,57.3 L539.8,57.6 L540.5,57.8 L541.2,58.1 L541.8,58.3 M585.0,82.5 L585.4,82.7 L586.0,83.1 L586.7,83.6 L587.4,84.0 L588.0,84.5 L588.7,84.9 L589.4,85.3 L590.0,85.8 L590.7,86.2 L591.4,86.7 L592.0,87.1 L592.7,87.5 L593.3,88.0 L594.0,88.4 L594.7,88.9 L595.3,89.3 L596.0,89.8 L596.7,90.2 L597.3,90.7 L598.0,91.1 L598.6,91.6 L599.3,92.0 L600.0,92.4 L600.6,92.9 L601.3,93.3 L601.9,93.8 L602.6,94.2 L603.3,94.7 L603.9,95.1 L604.6,95.6 L605.2,96.0 L605.9,96.5 L606.5,97.0 L607.2,97.4 L607.9,97.9 L608.5,98.3 L609.2,98.8 L609.8,99.2 L610.5,99.7 L611.1,100.1 L611.8,100.6 L612.4,101.0 L613.1,101.5 L613.7,102.0 L614.4,102.4 L615.0,102.9 L615.7,103.3 L616.3,103.8 L617.0,104.3 L617.6,104.7 L618.3,105.2 L618.9,105.6 L619.6,106.1 L620.2,106.6 L620.9,107.0 L621.5,107.5 L622.2,107.9 L622.8,108.4 L623.5,108.9 L624.1,109.3 L624.8,109.8 L625.4,110.3 L626.1,110.7 L626.2,110.8 M666.2,140.9 L666.7,141.3 L667.4,141.8 L668.0,142.3 L668.6,142.8 L669.2,143.3 L669.9,143.8 L670.5,144.2 L671.1,144.7 L671.7,145.2 L672.4,145.7 L673.0,146.2 L673.6,146.7 L674.2,147.2 L674.9,147.7 L675.5,148.2 L676.1,148.7 L676.7,149.2 L677.4,149.7 L678.0,150.1 L678.6,150.6 L679.2,151.1 L679.9,151.6 L680.5,152.1 L681.1,152.6 L681.7,153.1 L682.3,153.6 L683.0,154.1 L683.6,154.6 L684.2,155.1 L684.8,155.6 L685.4,156.1 L686.1,156.6 L686.7,157.1 L687.3,157.6 L687.9,158.1 L688.5,158.6 L689.2,159.1 L689.8,159.6 L690.4,160.1 L691.0,160.6 L691.6,161.1 L692.3,161.6 L692.9,162.1 L693.5,162.6 L694.1,163.1 L694.7,163.6 L695.3,164.1 L696.0,164.6 L696.6,165.1 L697.2,165.6 L697.8,166.1 L698.4,166.6 L699.0,167.1 L699.7,167.6 L700.3,168.1 L700.9,168.6 L701.5,169.1 L702.1,169.6 L702.7,170.1 L703.4,170.6 L704.0,171.1 L704.6,171.6 L705.2,172.1 M743.6,204.0 L743.7,204.1 L744.3,204.6 L744.9,205.1 L745.5,205.6 L746.1,206.1 L746.7,206.6 L747.3,207.1 L747.9,207.7 L748.6,208.2 L749.2,208.7 L749.8,209.2 L750.4,209.7 L751.0,210.2 L751.6,210.7 L752.2,211.2 L752.8,211.8 L753.4,212.3 L754.0,212.8 L754.6,213.3 L755.2,213.8 L755.8,214.3 L756.4,214.8 L757.1,215.3 L757.7,215.9 L758.3,216.4 L758.9,216.9 L759.5,217.4 L760.1,217.9 L760.7,218.4 L761.3,218.9 L761.9,219.4 L762.5,220.0 L763.1,220.5 L763.7,221.0 L764.3,221.5 L764.9,222.0 L765.6,222.5 L766.2,223.0 L766.8,223.5 L767.4,224.1 L768.0,224.6 L768.6,225.1 L769.2,225.6 L769.8,226.1 L770.4,226.6 L771.0,227.1 L771.6,227.6 L772.2,228.2 L772.8,228.7 L773.4,229.2 L774.1,229.7 L774.7,230.2 L775.3,230.7 L775.9,231.2 L776.5,231.7 L777.1,232.3 L777.7,232.8 L778.3,233.3 L778.9,233.8 L779.5,234.3 L780.1,234.8 L780.7,235.3 L781.3,235.8 L781.9,236.3 M820.2,268.4 L820.3,268.5 L820.9,269.0 L821.6,269.5 L822.2,270.0 L822.8,270.5 L823.4,271.0 L824.0,271.5 L824.6,272.0 L825.2,272.5 L825.8,273.0 L826.5,273.5 L827.1,274.0 L827.7,274.5 L828.3,275.0 L828.9,275.5 L829.5,276.0 L830.1,276.6 L830.8,277.1 L831.4,277.6 L832.0,278.1 L832.6,278.6 L833.2,279.1 L833.8,279.6 L834.4,280.1 L835.1,280.6 L835.7,281.1 L836.3,281.6 L836.9,282.1 L837.5,282.6 L838.1,283.1 L838.8,283.6 L839.4,284.1 L840.0,284.6 L840.6,285.1 L841.2,285.6 L841.8,286.1 L842.5,286.6 L843.1,287.1 L843.7,287.6 L844.3,288.1 L844.9,288.6 L845.5,289.1 L846.2,289.6 L846.8,290.1 L847.4,290.6 L848.0,291.1 L848.6,291.6 L849.3,292.1 L849.9,292.6 L850.5,293.1 L851.1,293.6 L851.7,294.1 L852.4,294.5 L853.0,295.0 L853.6,295.5 L854.2,296.0 L854.8,296.5 L855.5,297.0 L856.1,297.5 L856.7,298.0 L857.3,298.5 L858.0,299.0 L858.6,299.5 L859.0,299.9 M898.7,330.3 L898.9,330.5 L899.5,331.0 L900.2,331.4 L900.8,331.9 L901.5,332.4 L902.1,332.9 L902.7,333.3 L903.4,333.8 L904.0,334.3 L904.7,334.7 L905.3,335.2 L905.9,335.7 L906.6,336.2 L907.2,336.6 L907.9,337.1 L908.5,337.6 L909.1,338.0 L909.8,338.5 L910.4,339.0 L911.1,339.4 L911.7,339.9 L912.3,340.4 L913.0,340.9 L913.6,341.3 L914.3,341.8 L914.9,342.3 L915.6,342.7 L916.2,343.2 L916.9,343.7 L917.5,344.1 L918.1,344.6 L918.8,345.0 L919.4,345.5 L920.1,346.0 L920.7,346.4 L921.4,346.9 L922.0,347.4 L922.7,347.8 L923.3,348.3 L924.0,348.8 L924.6,349.2 L925.2,349.7 L925.9,350.1 L926.5,350.6 L927.2,351.1 L927.8,351.5 L928.5,352.0 L929.1,352.4 L929.8,352.9 L930.4,353.4 L931.1,353.8 L931.7,354.3 L932.4,354.7 L933.0,355.2 L933.7,355.7 L934.3,356.1 L935.0,356.6 L935.6,357.0 L936.3,357.5 L936.9,357.9 L937.6,358.4 L938.2,358.9 L938.9,359.3 L939.2,359.6 M980.7,387.5 L981.1,387.8 L981.7,388.2 L982.4,388.7 L983.1,389.1 L983.7,389.5 L984.4,390.0 L985.1,390.4 L985.7,390.8 L986.4,391.3 L987.1,391.7 L987.7,392.1 L988.4,392.6 L989.1,393.0 L989.7,393.4 L990.4,393.8 L991.1,394.3 L991.7,394.7 L992.4,395.1 L993.1,395.6 L993.8,396.0 L994.4,396.4 L995.1,396.8 L995.8,397.3 L996.4,397.7 L997.1,398.1 L997.8,398.6 L998.4,399.0 L999.1,399.4 L999.8,399.8 L1000.5,400.3 L1001.1,400.7 L1001.8,401.1 L1002.5,401.5 L1003.2,402.0 L1003.8,402.4 L1004.5,402.8 L1005.2,403.2 L1005.8,403.6 L1006.5,404.1 L1007.2,404.5 L1007.9,404.9 L1008.5,405.3 L1009.2,405.7 L1009.9,406.2 L1010.6,406.6 L1011.2,407.0 L1011.9,407.4 L1012.6,407.8 L1013.3,408.3 L1013.9,408.7 L1014.6,409.1 L1015.3,409.5 L1016.0,409.9 L1016.7,410.4 L1017.3,410.8 L1018.0,411.2 L1018.7,411.6 L1019.4,412.0 L1020.0,412.4 L1020.7,412.8 L1021.4,413.3 L1022.1,413.7 L1022.8,414.1 L1023.0,414.2 M1066.1,439.5 L1066.6,439.8 L1067.3,440.2 L1068.0,440.6 L1068.7,441.0 L1069.4,441.4 L1070.1,441.8 L1070.8,442.2 L1071.5,442.6 L1072.2,442.9 L1072.9,443.3 L1073.6,443.7 L1074.3,444.1 L1075.0,444.5 L1075.6,444.9 L1076.3,445.3 L1077.0,445.7 L1077.7,446.0 L1078.4,446.4 L1079.1,446.8 L1079.8,447.2 L1080.5,447.6 L1081.2,448.0 L1081.9,448.3 L1082.6,448.7 L1083.3,449.1 L1084.0,449.5 L1084.7,449.9 L1085.4,450.3 L1086.1,450.6 L1086.8,451.0 L1087.5,451.4 L1088.2,451.8 L1088.9,452.2 L1089.6,452.5 L1090.3,452.9 L1091.0,453.3 L1091.7,453.7 L1092.4,454.0 L1093.1,454.4 L1093.8,454.8 L1094.5,455.2 L1095.2,455.6 L1095.9,455.9 L1096.6,456.3 L1097.3,456.7 L1098.0,457.1 L1098.7,457.4 L1099.4,457.8 L1100.1,458.2 L1100.8,458.5 L1101.5,458.9 L1102.2,459.3 L1102.9,459.7 L1103.6,460.0 L1104.3,460.4 L1105.0,460.8 L1105.7,461.1 L1106.4,461.5 L1107.1,461.9 L1107.8,462.3 L1108.5,462.6 L1109.2,463.0 L1109.9,463.4 L1110.0,463.4 M1154.7,485.9 L1155.3,486.2 L1156.0,486.5 L1156.8,486.9 L1157.5,487.2 L1158.2,487.6 L1158.9,487.9 L1159.6,488.2 L1160.3,488.6 L1161.1,488.9 L1161.8,489.3 L1162.5,489.6 L1163.2,490.0 L1163.9,490.3 L1164.6,490.6 L1165.4,491.0 L1166.1,491.3 L1166.8,491.7 L1167.5,492.0 L1168.2,492.3 L1169.0,492.7 L1169.7,493.0 L1170.4,493.3 L1171.1,493.7 L1171.8,494.0 L1172.6,494.4 L1173.3,494.7 L1174.0,495.0 L1174.7,495.4 L1175.4,495.7 L1176.2,496.0 L1176.9,496.4 L1177.6,496.7 L1178.3,497.0 L1179.0,497.4 L1179.8,497.7 L1180.5,498.0 L1181.2,498.4 L1181.9,498.7 L1182.6,499.0 L1183.4,499.4 L1184.1,499.7 L1184.8,500.0 L1185.5,500.4 L1186.3,500.7 L1187.0,501.0 L1187.7,501.3 L1188.4,501.7 L1189.1,502.0 L1189.9,502.3 L1190.6,502.7 L1191.3,503.0 L1192.0,503.3 L1192.8,503.6 L1193.5,504.0 L1194.2,504.3 L1194.9,504.6 L1195.7,504.9 L1196.4,505.3 L1197.1,505.6 L1197.8,505.9 L1198.6,506.2 L1199.3,506.6 L1200.0,506.9 L1200.0,506.9 M1246.0,526.5 L1246.0,526.5 L1246.8,526.8 L1247.5,527.1 L1248.2,527.4 L1249.0,527.7 L1249.7,528.0 L1250.4,528.3 L1251.2,528.6 L1251.9,528.9 L1252.7,529.2 L1253.4,529.5 L1254.1,529.8 L1254.9,530.1 L1255.6,530.4 L1256.3,530.7 L1257.1,531.0 L1257.8,531.3 L1258.5,531.6 L1259.3,531.9 L1260.0,532.2 L1260.8,532.5 L1261.5,532.8 L1262.2,533.1 L1263.0,533.4 L1263.7,533.7 L1264.5,534.0 L1265.2,534.2 L1265.9,534.5 L1266.7,534.8 L1267.4,535.1 L1268.1,535.4 L1268.9,535.7 L1269.6,536.0 L1270.4,536.3 L1271.1,536.6 L1271.8,536.9 L1272.6,537.2 L1273.3,537.4 L1274.1,537.7 L1274.8,538.0 L1275.6,538.3 L1276.3,538.6 L1277.0,538.9 L1277.8,539.2 L1278.5,539.4 L1279.3,539.7 L1280.0,540.0 L1280.7,540.3 L1281.5,540.6 L1282.2,540.9 L1283.0,541.2 L1283.7,541.4 L1284.5,541.7 L1285.2,542.0 L1285.9,542.3 L1286.7,542.6 L1287.4,542.9 L1288.2,543.1 L1288.9,543.4 L1289.7,543.7 L1290.4,544.0 L1291.1,544.3 L1291.9,544.5 L1292.6,544.8 M1339.6,561.7 L1339.7,561.8 L1340.5,562.0 L1341.2,562.3 L1342.0,562.5 L1342.7,562.8 L1343.5,563.0 L1344.3,563.3 L1345.0,563.6 L1345.8,563.8 L1346.5,564.1 L1347.3,564.3 L1348.0,564.6 L1348.8,564.8 L1349.5,565.1 L1350.3,565.3 L1351.0,565.6 L1351.8,565.8 L1352.5,566.1 L1353.3,566.3 L1354.0,566.6 L1354.8,566.9 L1355.6,567.1 L1356.3,567.4 L1357.1,567.6 L1357.8,567.9 L1358.6,568.1 L1359.3,568.4 L1360.1,568.6 L1360.8,568.9 L1361.6,569.1 L1362.3,569.4 L1363.1,569.6 L1363.9,569.8 L1364.6,570.1 L1365.4,570.3 L1366.1,570.6 L1366.9,570.8 L1367.6,571.1 L1368.4,571.3 L1369.1,571.6 L1369.9,571.8 L1370.7,572.1 L1371.4,572.3 L1372.2,572.6 L1372.9,572.8 L1373.7,573.0 L1374.4,573.3 L1375.2,573.5 L1376.0,573.8 L1376.7,574.0 L1377.5,574.3 L1378.2,574.5 L1379.0,574.7 L1379.7,575.0 L1380.5,575.2 L1381.3,575.5 L1382.0,575.7 L1382.8,575.9 L1383.5,576.2 L1384.3,576.4 L1385.0,576.7 L1385.8,576.9 L1386.6,577.1 L1387.1,577.3 M1435.0,591.6 L1435.3,591.7 L1436.1,591.9 L1436.8,592.1 L1437.6,592.3 L1438.4,592.6 L1439.1,592.8 L1439.9,593.0 L1440.7,593.2 L1441.4,593.4 L1442.2,593.6 L1443.0,593.8 L1443.7,594.1 L1444.5,594.3 L1445.3,594.5 L1446.0,594.7 L1446.8,594.9 L1447.6,595.1 L1448.3,595.3 L1449.1,595.5 L1449.9,595.8 L1450.6,596.0 L1451.4,596.2 L1452.2,596.4 L1452.9,596.6 L1453.7,596.8 L1454.5,597.0 L1455.2,597.2 L1456.0,597.4 L1456.8,597.6 L1457.5,597.9 L1458.3,598.1 L1459.1,598.3 L1459.8,598.5 L1460.6,598.7 L1461.4,598.9 L1462.1,599.1 L1462.9,599.3 L1463.7,599.5 L1464.4,599.7 L1465.2,599.9 L1466.0,600.1 L1466.7,600.3 L1467.5,600.5 L1468.3,600.7 L1469.0,600.9 L1469.8,601.1 L1470.6,601.3 L1471.3,601.5 L1472.1,601.8 L1472.9,602.0 L1473.6,602.2 L1474.4,602.4 L1475.2,602.6 L1476.0,602.8 L1476.7,603.0 L1477.5,603.2 L1478.3,603.4 L1479.0,603.6 L1479.8,603.8 L1480.6,604.0 L1481.3,604.2 L1482.1,604.4 L1482.9,604.5 L1483.3,604.7 M1531.9,616.5 L1532.3,616.6 L1533.1,616.7 L1533.8,616.9 L1534.6,617.1 L1535.4,617.3 L1536.2,617.5 L1536.9,617.6 L1537.7,617.8 L1538.5,618.0 L1539.3,618.2 L1540.0,618.3 L1540.8,618.5 L1541.6,618.7 L1542.4,618.9 L1543.1,619.0 L1543.9,619.2 L1544.7,619.4 L1545.5,619.5 L1546.2,619.7 L1547.0,619.9 L1547.8,620.1 L1548.6,620.2 L1549.3,620.4 L1550.1,620.6 L1550.9,620.7 L1551.7,620.9 L1552.4,621.1 L1553.2,621.3 L1554.0,621.4 L1554.8,621.6 L1555.5,621.8 L1556.3,621.9 L1557.1,622.1 L1557.9,622.3 L1558.7,622.4 L1559.4,622.6 L1560.2,622.8 L1561.0,622.9 L1561.8,623.1 L1562.5,623.3 L1563.3,623.4 L1564.1,623.6 L1564.9,623.8 L1565.6,623.9 L1566.4,624.1 L1567.2,624.3 L1568.0,624.4 L1568.7,624.6 L1569.5,624.8 L1570.3,624.9 L1571.1,625.1 L1571.9,625.2 L1572.6,625.4 L1573.4,625.6 L1574.2,625.7 L1575.0,625.9 L1575.7,626.1 L1576.5,626.2 L1577.3,626.4 L1578.1,626.5 L1578.8,626.7 L1579.6,626.9 L1580.4,627.0 L1580.7,627.1" stroke="#0000ff"/>
<path d="M225.6,1074.3 L225.6,1074.2 L225.7,1073.4 L225.8,1072.6 L225.8,1071.8 L225.9,1071.0 L225.9,1070.2 L226.0,1069.4 L226.1,1068.6 L226.1,1067.8 L226.2,1067.0 L226.2,1066.2 L226.3,1065.4 L226.4,1064.6 L226.4,1063.8 L226.5,1063.0 L226.5,1062.2 L226.6,1061.4 L226.7,1060.6 L226.7,1059.8 L226.8,1059.0 L226.8,1058.2 L226.9,1057.4 L227.0,1056.6 L227.0,1055.8 L227.1,1055.0 L227.2,1054.2 L227.2,1053.4 L227.3,1052.6 L227.3,1051.8 L227.4,1051.1 L227.5,1050.3 L227.5,1049.5 L227.6,1048.7 L227.7,1047.9 L227.7,1047.1 L227.8,1046.3 L227.9,1045.5 L227.9,1044.7 L228.0,1043.9 L228.0,1043.1 L228.1,1042.3 L228.2,1041.5 L228.2,1040.7 L228.3,1039.9 L228.4,1039.1 L228.4,1038.3 L228.5,1037.5 L228.6,1036.7 L228.6,1035.9 L228.7,1035.1 L228.8,1034.3 L228.8,1033.5 L228.9,1032.7 L229.0,1031.9 L229.0,1031.1 L229.1,1030.3 L229.2,1029.5 L229.2,1028.7 L229.3,1027.9 L229.4,1027.1 L229.4,1026.3 L229.5,1025.5 L229.6,1024.7 L229.6,1024.5 M234.1,974.2 L234.2,973.6 L234.3,972.8 L234.4,972.0 L234.4,971.2 L234.5,970.4 L234.6,969.6 L234.7,968.8 L234.7,968.0 L234.8,967.2 L234.9,966.4 L235.0,965.6 L235.0,964.8 L235.1,964.0 L235.2,963.2 L235.3,962.4 L235.4,961.6 L235.4,960.8 L235.5,960.0 L235.6,959.2 L235.7,958.4 L235.8,957.6 L235.8,956.8 L235.9,956.1 L236.0,955.3 L236.1,954.5 L236.2,953.7 L236.2,952.9 L236.3,952.1 L236.4,951.3 L236.5,950.5 L236.6,949.7 L236.6,948.9 L236.7,948.1 L236.8,947.3 L236.9,946.5 L237.0,945.7 L237.0,944.9 L237.1,944.1 L237.2,943.3 L237.3,942.5 L237.4,941.7 L237.4,940.9 L237.5,940.1 L237.6,939.3 L237.7,938.5 L237.8,937.7 L237.9,936.9 L237.9,936.1 L238.0,935.3 L238.1,934.5 L238.2,933.7 L238.3,932.9 L238.4,932.1 L238.4,931.3 L238.5,930.5 L238.6,929.8 L238.7,929.0 L238.8,928.2 L238.9,927.4 L238.9,926.6 L239.0,925.8 L239.1,925.0 L239.2,924.4 M244.7,874.2 L244.8,874.0 L244.9,873.2 L244.9,872.4 L245.0,871.6 L245.1,870.8 L245.2,870.1 L245.3,869.3 L245.4,868.5 L245.5,867.7 L245.6,866.9 L245.7,866.1 L245.8,865.3 L245.9,864.5 L246.0,863.7 L246.1,862.9 L246.2,862.1 L246.2,861.3 L246.3,860.5 L246.4,859.7 L246.5,858.9 L246.6,858.1 L246.7,857.3 L246.8,856.5 L246.9,855.7 L247.0,854.9 L247.1,854.1 L247.2,853.4 L247.3,852.6 L247.4,851.8 L247.5,851.0 L247.6,850.2 L247.7,849.4 L247.8,848.6 L247.9,847.8 L248.0,847.0 L248.1,846.2 L248.1,845.4 L248.2,844.6 L248.3,843.8 L248.4,843.0 L248.5,842.2 L248.6,841.4 L248.7,840.6 L248.8,839.8 L248.9,839.0 L249.0,838.2 L249.1,837.5 L249.2,836.7 L249.3,835.9 L249.4,835.1 L249.5,834.3 L249.6,833.5 L249.7,832.7 L249.8,831.9 L249.9,831.1 L250.0,830.3 L250.1,829.5 L250.2,828.7 L250.3,827.9 L250.4,827.1 L250.5,826.3 L250.6,825.5 L250.7,824.7 L250.7,824.6 M257.1,774.7 L257.2,773.9 L257.3,773.1 L257.4,772.3 L257.5,771.5 L257.6,770.7 L257.7,769.9 L257.9,769.1 L258.0,768.4 L258.1,767.6 L258.2,766.8 L258.3,766.0 L258.4,765.2 L258.5,764.4 L258.6,763.6 L258.7,762.8 L258.8,762.0 L258.9,761.2 L259.0,760.4 L259.1,759.6 L259.2,758.8 L259.3,758.0 L259.5,757.2 L259.6,756.4 L259.7,755.7 L259.8,754.9 L259.9,754.1 L260.0,753.3 L260.1,752.5 L260.2,751.7 L260.3,750.9 L260.4,750.1 L260.5,749.3 L260.6,748.5 L260.7,747.7 L260.9,746.9 L261.0,746.1 L261.1,745.3 L261.2,744.5 L261.3,743.8 L261.4,743.0 L261.5,742.2 L261.6,741.4 L261.7,740.6 L261.8,739.8 L261.9,739.0 L262.1,738.2 L262.2,737.4 L262.3,736.6 L262.4,735.8 L262.5,735.0 L262.6,734.2 L262.7,733.4 L262.8,732.6 L262.9,731.9 L263.0,731.1 L263.2,730.3 L263.3,729.5 L263.4,728.7 L263.5,727.9 L263.6,727.1 L263.7,726.3 L263.8,725.5 L263.9,725.1 M271.0,675.5 L271.1,674.8 L271.2,674.0 L271.3,673.2 L271.4,672.4 L271.6,671.6 L271.7,670.8 L271.8,670.0 L271.9,669.2 L272.0,668.4 L272.1,667.6 L272.3,666.8 L272.4,666.0 L272.5,665.2 L272.6,664.5 L272.7,663.7 L272.8,662.9 L273.0,662.1 L273.1,661.3 L273.2,660.5 L273.3,659.7 L273.4,658.9 L273.6,658.1 L273.7,657.3 L273.8,656.5 L273.9,655.7 L274.0,654.9 L274.1,654.2 L274.3,653.4 L274.4,652.6 L274.5,651.8 L274.6,651.0 L274.7,650.2 L274.9,649.4 L275.0,648.6 L275.1,647.8 L275.2,647.0 L275.3,646.2 L275.4,645.4 L275.6,644.6 L275.7,643.8 L275.8,643.1 L275.9,642.3 L276.0,641.5 L276.2,640.7 L276.3,639.9 L276.4,639.1 L276.5,638.3 L276.6,637.5 L276.8,636.7 L276.9,635.9 L277.0,635.1 L277.1,634.3 L277.2,633.5 L277.4,632.8 L277.5,632.0 L277.6,631.2 L277.7,630.4 L277.8,629.6 L278.0,628.8 L278.1,628.0 L278.2,627.2 L278.3,626.4 L278.4,626.0 M286.1,576.5 L286.2,575.7 L286.3,574.9 L286.4,574.1 L286.6,573.3 L286.7,572.6 L286.8,571.8 L286.9,571.0 L287.1,570.2 L287.2,569.4 L287.3,568.6 L287.4,567.8 L287.6,567.0 L287.7,566.2 L287.8,565.4 L288.0,564.6 L288.1,563.8 L288.2,563.1 L288.3,562.3 L288.5,561.5 L288.6,560.7 L288.7,559.9 L288.8,559.1 L289.0,558.3 L289.1,557.5 L289.2,556.7 L289.3,555.9 L289.5,555.1 L289.6,554.3 L289.7,553.5 L289.8,552.8 L290.0,552.0 L290.1,551.2 L290.2,550.4 L290.4,549.6 L290.5,548.8 L290.6,548.0 L290.7,547.2 L290.9,546.4 L291.0,545.6 L291.1,544.8 L291.2,544.0 L291.4,543.3 L291.5,542.5 L291.6,541.7 L291.8,540.9 L291.9,540.1 L292.0,539.3 L292.1,538.5 L292.3,537.7 L292.4,536.9 L292.5,536.1 L292.7,535.3 L292.8,534.5 L292.9,533.8 L293.0,533.0 L293.2,532.2 L293.3,531.4 L293.4,530.6 L293.6,529.8 L293.7,529.0 L293.8,528.2 L293.9,527.4 L294.0,527.1 M302.3,477.7 L302.3,477.6 L302.5,476.8 L302.6,476.0 L302.7,475.2 L302.9,474.4 L303.0,473.7 L303.2,472.9 L303.3,472.1 L303.4,471.3 L303.6,470.5 L303.7,469.7 L303.9,468.9 L304.0,468.1 L304.1,467.3 L304.3,466.5 L304.4,465.8 L304.6,465.0 L304.7,464.2 L304.8,463.4 L305.0,462.6 L305.1,461.8 L305.3,461.0 L305.4,460.2 L305.5,459.4 L305.7,458.7 L305.8,457.9 L306.0,457.1 L306.1,456.3 L306.3,455.5 L306.4,454.7 L306.5,453.9 L306.7,453.1 L306.8,452.3 L307.0,451.6 L307.1,450.8 L307.3,450.0 L307.4,449.2 L307.6,448.4 L307.7,447.6 L307.8,446.8 L308.0,446.0 L308.1,445.3 L308.3,444.5 L308.4,443.7 L308.6,442.9 L308.7,442.1 L308.9,441.3 L309.0,440.5 L309.2,439.7 L309.3,438.9 L309.4,438.2 L309.6,437.4 L309.7,436.6 L309.9,435.8 L310.0,435.0 L310.2,434.2 L310.3,433.4 L310.5,432.6 L310.6,431.9 L310.8,431.1 L310.9,430.3 L311.1,429.5 L311.2,428.7 L311.3,428.5 M321.2,379.5 L321.2,379.3 L321.4,378.5 L321.6,377.7 L321.7,376.9 L321.9,376.1 L322.1,375.4 L322.2,374.6 L322.4,373.8 L322.6,373.0 L322.7,372.2 L322.9,371.4 L323.1,370.7 L323.3,369.9 L323.4,369.1 L323.6,368.3 L323.8,367.5 L323.9,366.8 L324.1,366.0 L324.3,365.2 L324.5,364.4 L324.6,363.6 L324.8,362.9 L325.0,362.1 L325.2,361.3 L325.3,360.5 L325.5,359.7 L325.7,359.0 L325.9,358.2 L326.0,357.4 L326.2,356.6 L326.4,355.8 L326.6,355.1 L326.7,354.3 L326.9,353.5 L327.1,352.7 L327.3,351.9 L327.5,351.2 L327.6,350.4 L327.8,349.6 L328.0,348.8 L328.2,348.0 L328.4,347.3 L328.5,346.5 L328.7,345.7 L328.9,344.9 L329.1,344.1 L329.3,343.4 L329.5,342.6 L329.6,341.8 L329.8,341.0 L330.0,340.3 L330.2,339.5 L330.4,338.7 L330.6,337.9 L330.7,337.1 L330.9,336.4 L331.1,335.6 L331.3,334.8 L331.5,334.0 L331.7,333.3 L331.9,332.5 L332.1,331.7 L332.2,330.9 L332.3,330.7 M344.8,282.5 L344.9,282.2 L345.1,281.4 L345.3,280.7 L345.6,279.9 L345.8,279.1 L346.0,278.3 L346.2,277.6 L346.4,276.8 L346.6,276.0 L346.9,275.3 L347.1,274.5 L347.3,273.7 L347.5,273.0 L347.7,272.2 L347.9,271.4 L348.2,270.6 L348.4,269.9 L348.6,269.1 L348.8,268.3 L349.0,267.6 L349.3,266.8 L349.5,266.0 L349.7,265.3 L349.9,264.5 L350.1,263.7 L350.4,263.0 L350.6,262.2 L350.8,261.4 L351.0,260.6 L351.2,259.9 L351.5,259.1 L351.7,258.3 L351.9,257.6 L352.1,256.8 L352.4,256.0 L352.6,255.3 L352.8,254.5 L353.0,253.7 L353.2,252.9 L353.5,252.2 L353.7,251.4 L353.9,250.6 L354.1,249.9 L354.4,249.1 L354.6,248.3 L354.8,247.6 L355.0,246.8 L355.2,246.0 L355.5,245.2 L355.7,244.5 L355.9,243.7 L356.1,242.9 L356.4,242.2 L356.6,241.4 L356.8,240.6 L357.0,239.8 L357.3,239.1 L357.5,238.3 L357.7,237.5 L357.9,236.7 L358.1,236.0 L358.4,235.2 L358.6,234.4 M372.4,186.6 L372.5,186.3 L372.8,185.5 L373.0,184.8 L373.2,184.0 L373.5,183.2 L373.7,182.5 L374.0,181.7 L374.2,180.9 L374.4,180.1 L374.7,179.4 L374.9,178.6 L375.2,177.8 L375.4,177.1 L375.7,176.3 L375.9,175.5 L376.2,174.8 L376.4,174.0 L376.7,173.2 L376.9,172.5 L377.2,171.7 L377.4,170.9 L377.7,170.2 L377.9,169.4 L378.2,168.6 L378.4,167.9 L378.7,167.1 L379.0,166.4 L379.2,165.6 L379.5,164.8 L379.8,164.1 L380.0,163.3 L380.3,162.6 L380.6,161.8 L380.8,161.0 L381.1,160.3 L381.4,159.5 L381.6,158.8 L381.9,158.0 L382.2,157.3 L382.5,156.5 L382.8,155.8 L383.0,155.0 L383.3,154.3 L383.6,153.5 L383.9,152.8 L384.2,152.0 L384.5,151.3 L384.8,150.5 L385.0,149.8 L385.3,149.0 L385.6,148.3 L385.9,147.5 L386.2,146.8 L386.5,146.1 L386.8,145.3 L387.1,144.6 L387.4,143.8 L387.7,143.1 L388.1,142.4 L388.4,141.6 L388.7,140.9 L389.0,140.2 L389.3,139.5 M413.5,96.2 L413.8,95.7 L414.3,95.1 L414.8,94.4 L415.2,93.8 L415.7,93.1 L416.2,92.5 L416.7,91.9 L417.2,91.2 L417.7,90.6 L418.2,90.0 L418.7,89.3 L419.2,88.7 L419.7,88.1 L420.2,87.4 L420.7,86.8 L421.2,86.2 L421.8,85.6 L422.3,85.0 L422.8,84.3 L423.3,83.7 L423.9,83.1 L424.4,82.5 L425.0,81.9 L425.5,81.3 L426.1,80.7 L426.6,80.1 L427.2,79.5 L427.7,78.9 L428.3,78.3 L428.9,77.7 L429.4,77.2 L430.0,76.6 L430.6,76.0 L431.1,75.4 L431.7,74.8 L432.3,74.3 L432.9,73.7 L433.5,73.2 L434.1,72.6 L434.7,72.0 L435.3,71.5 L435.9,70.9 L436.5,70.4 L437.1,69.9 L437.8,69.3 L438.4,68.8 L439.0,68.3 L439.6,67.8 L440.3,67.2 L440.9,66.7 L441.5,66.2 L442.2,65.7 L442.8,65.2 L443.5,64.7 L444.1,64.2 L444.8,63.7 L445.4,63.3 L446.1,62.8 L446.8,62.3 L447.5,61.8 L448.1,61.4 L448.6,61.0 M494.9,45.3 L495.2,45.3 L496.0,45.3 L496.7,45.2 L497.5,45.2 L498.3,45.2 L499.0,45.2 L499.8,45.3 L500.6,45.3 L501.3,45.3 L502.1,45.3 L502.9,45.4 L503.6,45.4 L504.4,45.5 L505.1,45.6 L505.9,45.7 L506.6,45.7 L507.4,45.8 L508.1,45.9 L508.9,46.0 L509.6,46.2 L510.4,46.3 L511.1,46.4 L511.9,46.5 L512.6,46.7 L513.3,46.8 L514.1,47.0 L514.8,47.2 L515.5,47.3 L516.3,47.5 L517.0,47.7 L517.7,47.9 L518.5,48.1 L519.2,48.3 L519.9,48.5 L520.6,48.7 L521.4,48.9 L522.1,49.2 L522.8,49.4 L523.5,49.6 L524.2,49.9 L524.9,50.1 L525.7,50.4 L526.4,50.6 L527.1,50.9 L527.8,51.2 L528.5,51.5 L529.2,51.7 L529.9,52.0 L530.6,52.3 L531.3,52.6 L532.0,52.9 L532.7,53.2 L533.4,53.6 L534.1,53.9 L534.8,54.2 L535.5,54.5 L536.2,54.9 L536.9,55.2 L537.6,55.5 L538.3,55.9 L539.0,56.2 L539.7,56.6 L540.4,57.0 L541.1,57.3 L541.7,57.7 L542.4,58.1 L542.6,58.2 M583.6,86.1 L584.2,86.5 L584.9,87.0 L585.5,87.5 L586.2,88.0 L586.8,88.5 L587.4,89.0 L588.1,89.5 L588.7,90.0 L589.4,90.5 L590.0,90.9 L590.7,91.4 L591.3,91.9 L592.0,92.4 L592.6,92.9 L593.3,93.4 L593.9,93.9 L594.5,94.4 L595.2,94.9 L595.8,95.4 L596.5,95.9 L597.1,96.4 L597.8,96.8 L598.4,97.3 L599.0,97.8 L599.7,98.3 L600.3,98.8 L601.0,99.3 L601.6,99.8 L602.2,100.3 L602.9,100.8 L603.5,101.3 L604.2,101.8 L604.8,102.3 L605.4,102.8 L606.1,103.3 L606.7,103.8 L607.3,104.3 L608.0,104.8 L608.6,105.3 L609.3,105.8 L609.9,106.3 L610.5,106.8 L611.2,107.3 L611.8,107.8 L612.4,108.3 L613.1,108.8 L613.7,109.3 L614.3,109.8 L615.0,110.3 L615.6,110.8 L616.2,111.3 L616.9,111.8 L617.5,112.3 L618.1,112.8 L618.8,113.3 L619.4,113.8 L620.0,114.3 L620.7,114.8 L621.3,115.3 L621.9,115.8 L622.6,116.3 L623.1,116.7 M661.9,148.4 L661.9,148.4 L662.5,148.9 L663.1,149.4 L663.7,149.9 L664.4,150.5 L665.0,151.0 L665.6,151.5 L666.2,152.0 L666.8,152.5 L667.4,153.0 L668.1,153.5 L668.7,154.1 L669.3,154.6 L669.9,155.1 L670.5,155.6 L671.1,156.1 L671.8,156.6 L672.4,157.2 L673.0,157.7 L673.6,158.2 L674.2,158.7 L674.8,159.2 L675.4,159.7 L676.1,160.3 L676.7,160.8 L677.3,161.3 L677.9,161.8 L678.5,162.3 L679.1,162.9 L679.7,163.4 L680.4,163.9 L681.0,164.4 L681.6,164.9 L682.2,165.4 L682.8,166.0 L683.4,166.5 L684.0,167.0 L684.6,167.5 L685.3,168.0 L685.9,168.6 L686.5,169.1 L687.1,169.6 L687.7,170.1 L688.3,170.6 L688.9,171.2 L689.5,171.7 L690.2,172.2 L690.8,172.7 L691.4,173.2 L692.0,173.8 L692.6,174.3 L693.2,174.8 L693.8,175.3 L694.4,175.8 L695.1,176.4 L695.7,176.9 L696.3,177.4 L696.9,177.9 L697.5,178.4 L698.1,179.0 L698.7,179.5 L699.3,180.0 L699.9,180.5 L700.1,180.6 M738.0,213.2 L738.3,213.4 L738.9,213.9 L739.5,214.4 L740.1,215.0 L740.7,215.5 L741.3,216.0 L741.9,216.5 L742.5,217.1 L743.1,217.6 L743.7,218.1 L744.3,218.6 L744.9,219.1 L745.5,219.7 L746.2,220.2 L746.8,220.7 L747.4,221.2 L748.0,221.7 L748.6,222.3 L749.2,222.8 L749.8,223.3 L750.4,223.8 L751.0,224.4 L751.6,224.9 L752.2,225.4 L752.8,225.9 L753.4,226.4 L754.1,227.0 L754.7,227.5 L755.3,228.0 L755.9,228.5 L756.5,229.0 L757.1,229.6 L757.7,230.1 L758.3,230.6 L758.9,231.1 L759.5,231.6 L760.1,232.2 L760.7,232.7 L761.3,233.2 L762.0,233.7 L762.6,234.3 L763.2,234.8 L763.8,235.3 L764.4,235.8 L765.0,236.3 L765.6,236.9 L766.2,237.4 L766.8,237.9 L767.4,238.4 L768.0,238.9 L768.6,239.4 L769.3,240.0 L769.9,240.5 L770.5,241.0 L771.1,241.5 L771.7,242.0 L772.3,242.6 L772.9,243.1 L773.5,243.6 L774.1,244.1 L774.7,244.6 L775.3,245.2 L776.0,245.7 L776.0,245.7 M814.3,277.9 L814.5,278.1 L815.2,278.6 L815.8,279.1 L816.4,279.6 L817.0,280.1 L817.6,280.6 L818.2,281.1 L818.9,281.6 L819.5,282.1 L820.1,282.6 L820.7,283.1 L821.3,283.7 L821.9,284.2 L822.6,284.7 L823.2,285.2 L823.8,285.7 L824.4,286.2 L825.0,286.7 L825.7,287.2 L826.3,287.7 L826.9,288.2 L827.5,288.7 L828.1,289.2 L828.8,289.7 L829.4,290.2 L830.0,290.7 L830.6,291.2 L831.2,291.7 L831.9,292.2 L832.5,292.8 L833.1,293.3 L833.7,293.8 L834.3,294.3 L835.0,294.8 L835.6,295.3 L836.2,295.8 L836.8,296.3 L837.5,296.8 L838.1,297.3 L838.7,297.8 L839.3,298.3 L839.9,298.8 L840.6,299.3 L841.2,299.8 L841.8,300.3 L842.4,300.8 L843.1,301.3 L843.7,301.8 L844.3,302.3 L844.9,302.8 L845.6,303.3 L846.2,303.8 L846.8,304.3 L847.4,304.8 L848.1,305.3 L848.7,305.8 L849.3,306.3 L850.0,306.8 L850.6,307.3 L851.2,307.7 L851.8,308.2 L852.5,308.7 L853.1,309.2 L853.2,309.3 M892.9,339.7 L893.2,339.9 L893.8,340.4 L894.4,340.8 L895.1,341.3 L895.7,341.8 L896.4,342.3 L897.0,342.7 L897.7,343.2 L898.3,343.7 L899.0,344.2 L899.6,344.6 L900.2,345.1 L900.9,345.6 L901.5,346.1 L902.2,346.5 L902.8,347.0 L903.5,347.5 L904.1,348.0 L904.8,348.4 L905.4,348.9 L906.1,349.4 L906.7,349.8 L907.4,350.3 L908.0,350.8 L908.7,351.2 L909.3,351.7 L910.0,352.2 L910.6,352.7 L911.3,353.1 L911.9,353.6 L912.6,354.1 L913.2,354.5 L913.9,355.0 L914.5,355.5 L915.2,355.9 L915.8,356.4 L916.5,356.9 L917.1,357.3 L917.8,357.8 L918.4,358.3 L919.1,358.7 L919.7,359.2 L920.4,359.7 L921.1,360.1 L921.7,360.6 L922.4,361.0 L923.0,361.5 L923.7,362.0 L924.3,362.4 L925.0,362.9 L925.6,363.4 L926.3,363.8 L926.9,364.3 L927.6,364.7 L928.3,365.2 L928.9,365.7 L929.6,366.1 L930.2,366.6 L930.9,367.0 L931.5,367.5 L932.2,368.0 L932.9,368.4 L933.5,368.8 M975.0,396.7 L975.5,397.0 L976.1,397.5 L976.8,397.9 L977.5,398.3 L978.2,398.8 L978.8,399.2 L979.5,399.7 L980.2,400.1 L980.9,400.5 L981.5,401.0 L982.2,401.4 L982.9,401.8 L983.6,402.2 L984.2,402.7 L984.9,403.1 L985.6,403.5 L986.3,404.0 L987.0,404.4 L987.6,404.8 L988.3,405.3 L989.0,405.7 L989.7,406.1 L990.3,406.6 L991.0,407.0 L991.7,407.4 L992.4,407.8 L993.1,408.3 L993.7,408.7 L994.4,409.1 L995.1,409.5 L995.8,410.0 L996.5,410.4 L997.1,410.8 L997.8,411.2 L998.5,411.7 L999.2,412.1 L999.9,412.5 L1000.5,412.9 L1001.2,413.4 L1001.9,413.8 L1002.6,414.2 L1003.3,414.6 L1004.0,415.0 L1004.6,415.5 L1005.3,415.9 L1006.0,416.3 L1006.7,416.7 L1007.4,417.1 L1008.1,417.6 L1008.7,418.0 L1009.4,418.4 L1010.1,418.8 L1010.8,419.2 L1011.5,419.7 L1012.2,420.1 L1012.8,420.5 L1013.5,420.9 L1014.2,421.3 L1014.9,421.7 L1015.6,422.1 L1016.3,422.6 L1017.0,423.0 L1017.4,423.2 M1060.6,448.3 L1060.7,448.3 L1061.4,448.7 L1062.1,449.1 L1062.8,449.4 L1063.5,449.8 L1064.2,450.2 L1064.9,450.6 L1065.6,451.0 L1066.3,451.4 L1067.0,451.8 L1067.7,452.2 L1068.4,452.5 L1069.1,452.9 L1069.8,453.3 L1070.5,453.7 L1071.2,454.1 L1071.9,454.5 L1072.6,454.8 L1073.3,455.2 L1074.0,455.6 L1074.7,456.0 L1075.4,456.4 L1076.1,456.7 L1076.8,457.1 L1077.5,457.5 L1078.3,457.9 L1079.0,458.3 L1079.7,458.6 L1080.4,459.0 L1081.1,459.4 L1081.8,459.8 L1082.5,460.1 L1083.2,460.5 L1083.9,460.9 L1084.6,461.3 L1085.3,461.7 L1086.0,462.0 L1086.7,462.4 L1087.5,462.8 L1088.2,463.1 L1088.9,463.5 L1089.6,463.9 L1090.3,464.3 L1091.0,464.6 L1091.7,465.0 L1092.4,465.4 L1093.1,465.7 L1093.8,466.1 L1094.5,466.5 L1095.3,466.9 L1096.0,467.2 L1096.7,467.6 L1097.4,468.0 L1098.1,468.3 L1098.8,468.7 L1099.5,469.1 L1100.2,469.4 L1101.0,469.8 L1101.7,470.2 L1102.4,470.5 L1103.1,470.9 L1103.8,471.3 L1104.5,471.6 L1104.8,471.8 M1149.7,493.6 L1149.9,493.7 L1150.6,494.0 L1151.3,494.4 L1152.0,494.7 L1152.8,495.1 L1153.5,495.4 L1154.2,495.7 L1154.9,496.1 L1155.7,496.4 L1156.4,496.7 L1157.1,497.1 L1157.9,497.4 L1158.6,497.7 L1159.3,498.1 L1160.0,498.4 L1160.8,498.7 L1161.5,499.1 L1162.2,499.4 L1163.0,499.7 L1163.7,500.1 L1164.4,500.4 L1165.1,500.7 L1165.9,501.0 L1166.6,501.4 L1167.3,501.7 L1168.1,502.0 L1168.8,502.4 L1169.5,502.7 L1170.3,503.0 L1171.0,503.3 L1171.7,503.7 L1172.5,504.0 L1173.2,504.3 L1173.9,504.6 L1174.6,505.0 L1175.4,505.3 L1176.1,505.6 L1176.8,505.9 L1177.6,506.3 L1178.3,506.6 L1179.0,506.9 L1179.8,507.2 L1180.5,507.5 L1181.2,507.9 L1182.0,508.2 L1182.7,508.5 L1183.4,508.8 L1184.2,509.1 L1184.9,509.5 L1185.6,509.8 L1186.4,510.1 L1187.1,510.4 L1187.8,510.7 L1188.6,511.1 L1189.3,511.4 L1190.1,511.7 L1190.8,512.0 L1191.5,512.3 L1192.3,512.6 L1193.0,512.9 L1193.7,513.3 L1194.5,513.6 L1195.2,513.9 L1195.4,514.0 M1241.7,532.8 L1241.9,532.9 L1242.7,533.2 L1243.4,533.5 L1244.2,533.7 L1244.9,534.0 L1245.7,534.3 L1246.4,534.6 L1247.2,534.9 L1247.9,535.2 L1248.7,535.5 L1249.4,535.8 L1250.2,536.0 L1250.9,536.3 L1251.7,536.6 L1252.4,536.9 L1253.2,537.2 L1253.9,537.5 L1254.7,537.7 L1255.4,538.0 L1256.2,538.3 L1256.9,538.6 L1257.6,538.9 L1258.4,539.2 L1259.1,539.4 L1259.9,539.7 L1260.6,540.0 L1261.4,540.3 L1262.2,540.6 L1262.9,540.8 L1263.7,541.1 L1264.4,541.4 L1265.2,541.7 L1265.9,542.0 L1266.7,542.2 L1267.4,542.5 L1268.2,542.8 L1268.9,543.1 L1269.7,543.3 L1270.4,543.6 L1271.2,543.9 L1271.9,544.2 L1272.7,544.4 L1273.4,544.7 L1274.2,545.0 L1274.9,545.3 L1275.7,545.5 L1276.4,545.8 L1277.2,546.1 L1277.9,546.4 L1278.7,546.6 L1279.5,546.9 L1280.2,547.2 L1281.0,547.4 L1281.7,547.7 L1282.5,548.0 L1283.2,548.2 L1284.0,548.5 L1284.7,548.8 L1285.5,549.1 L1286.2,549.3 L1287.0,549.6 L1287.8,549.9 L1288.5,550.1 L1288.6,550.2 M1336.0,566.1 L1336.3,566.2 L1337.1,566.5 L1337.9,566.7 L1338.6,567.0 L1339.4,567.2 L1340.2,567.5 L1340.9,567.7 L1341.7,567.9 L1342.5,568.2 L1343.2,568.4 L1344.0,568.7 L1344.8,568.9 L1345.5,569.1 L1346.3,569.4 L1347.0,569.6 L1347.8,569.9 L1348.6,570.1 L1349.3,570.3 L1350.1,570.6 L1350.9,570.8 L1351.6,571.1 L1352.4,571.3 L1353.2,571.5 L1353.9,571.8 L1354.7,572.0 L1355.5,572.2 L1356.2,572.5 L1357.0,572.7 L1357.8,573.0 L1358.5,573.2 L1359.3,573.4 L1360.1,573.7 L1360.8,573.9 L1361.6,574.1 L1362.4,574.4 L1363.1,574.6 L1363.9,574.8 L1364.7,575.1 L1365.4,575.3 L1366.2,575.5 L1367.0,575.8 L1367.7,576.0 L1368.5,576.2 L1369.3,576.4 L1370.0,576.7 L1370.8,576.9 L1371.6,577.1 L1372.3,577.4 L1373.1,577.6 L1373.9,577.8 L1374.6,578.0 L1375.4,578.3 L1376.2,578.5 L1377.0,578.7 L1377.7,579.0 L1378.5,579.2 L1379.3,579.4 L1380.0,579.6 L1380.8,579.9 L1381.6,580.1 L1382.3,580.3 L1383.1,580.5 L1383.8,580.7 M1432.0,594.1 L1432.6,594.2 L1433.3,594.4 L1434.1,594.6 L1434.9,594.8 L1435.7,595.0 L1436.4,595.2 L1437.2,595.4 L1438.0,595.6 L1438.8,595.8 L1439.5,596.0 L1440.3,596.2 L1441.1,596.4 L1441.9,596.6 L1442.6,596.8 L1443.4,597.0 L1444.2,597.2 L1445.0,597.4 L1445.7,597.6 L1446.5,597.8 L1447.3,598.0 L1448.1,598.2 L1448.9,598.4 L1449.6,598.6 L1450.4,598.8 L1451.2,599.0 L1452.0,599.2 L1452.7,599.4 L1453.5,599.6 L1454.3,599.8 L1455.1,600.0 L1455.8,600.2 L1456.6,600.4 L1457.4,600.6 L1458.2,600.8 L1459.0,601.0 L1459.7,601.1 L1460.5,601.3 L1461.3,601.5 L1462.1,601.7 L1462.8,601.9 L1463.6,602.1 L1464.4,602.3 L1465.2,602.5 L1466.0,602.7 L1466.7,602.9 L1467.5,603.1 L1468.3,603.2 L1469.1,603.4 L1469.9,603.6 L1470.6,603.8 L1471.4,604.0 L1472.2,604.2 L1473.0,604.4 L1473.8,604.6 L1474.5,604.8 L1475.3,604.9 L1476.1,605.1 L1476.9,605.3 L1477.6,605.5 L1478.4,605.7 L1479.2,605.9 L1480.0,606.1 L1480.5,606.2 M1529.3,617.1 L1530.0,617.3 L1530.8,617.4 L1531.6,617.6 L1532.4,617.8 L1533.1,617.9 L1533.9,618.1 L1534.7,618.2 L1535.5,618.4 L1536.3,618.6 L1537.1,618.7 L1537.8,618.9 L1538.6,619.1 L1539.4,619.2 L1540.2,619.4 L1541.0,619.6 L1541.8,619.7 L1542.5,619.9 L1543.3,620.0 L1544.1,620.2 L1544.9,620.4 L1545.7,620.5 L1546.5,620.7 L1547.2,620.8 L1548.0,621.0 L1548.8,621.2 L1549.6,621.3 L1550.4,621.5 L1551.2,621.6 L1552.0,621.8 L1552.7,621.9 L1553.5,622.1 L1554.3,622.3 L1555.1,622.4 L1555.9,622.6 L1556.7,622.7 L1557.4,622.9 L1558.2,623.0 L1559.0,623.2 L1559.8,623.4 L1560.6,623.5 L1561.4,623.7 L1562.1,623.8 L1562.9,624.0 L1563.7,624.1 L1564.5,624.3 L1565.3,624.4 L1566.1,624.6 L1566.9,624.7 L1567.6,624.9 L1568.4,625.0 L1569.2,625.2 L1570.0,625.3 L1570.8,625.5 L1571.6,625.6 L1572.4,625.8 L1573.1,625.9 L1573.9,626.1 L1574.7,626.2 L1575.5,626.4 L1576.3,626.5 L1577.1,626.7 L1577.9,626.8 L1578.3,626.9" stroke="#0000ff"/>
<path d="M225.2,1066.7 L225.3,1065.5 L225.4,1064.3 L225.5,1063.1 L225.6,1061.9 L225.7,1060.7 L225.8,1059.5 L225.9,1058.3 L226.0,1057.1 L226.1,1055.9 L226.2,1054.7 L226.3,1053.5 L226.4,1052.3 L226.5,1051.1 L226.6,1049.9 L226.7,1048.7 L226.8,1047.5 L226.9,1046.2 L227.0,1045.0 L227.1,1043.8 L227.2,1042.6 L227.3,1041.4 L227.4,1040.2 L227.5,1039.0 L227.6,1037.8 L227.7,1036.6 L227.8,1035.4 L227.9,1034.2 L228.1,1033.0 L228.2,1031.8 L228.3,1030.6 L228.4,1029.4 L228.5,1028.2 L228.6,1027.0 L228.7,1025.8 L228.8,1024.6 L228.9,1023.4 L229.0,1022.2 L229.1,1021.0 L229.2,1019.8 L229.3,1018.6 L229.4,1017.4 L229.5,1016.2 L229.7,1015.0 L229.8,1013.8 L229.9,1012.6 L230.0,1011.4 L230.1,1010.2 L230.2,1009.0 L230.3,1007.8 L230.4,1006.5 L230.5,1005.3 L230.6,1004.1 L230.7,1002.9 L230.8,1001.7 L231.0,1000.5 L231.1,999.3 L231.2,998.1 L231.3,996.9 L231.4,995.7 L231.5,994.5 L231.6,993.3 L231.7,992.1 L231.8,990.9 L232.0,989.7 L232.1,988.5 L232.2,987.3 L232.3,986.1 L232.4,984.9 L232.5,983.7 L232.6,982.5 L232.7,981.3 L232.9,980.1 L233.0,978.9 L233.1,977.7 L233.2,976.5 L233.3,975.3 L233.4,974.1 L233.5,972.9 L233.7,971.7 L233.8,970.5 L233.9,969.3 L234.0,968.1 L234.1,966.9 L234.2,965.7 L234.3,964.5 L234.5,963.3 L234.6,962.1 L234.7,960.9 L234.8,959.7 L234.9,958.5 L235.0,957.3 L235.2,956.1 L235.3,954.9 L235.4,953.7 L235.5,952.5 L235.6,951.3 L235.7,950.1 L235.9,948.9 L236.0,947.7 L236.1,946.5 L236.2,945.3 L236.3,944.1 L236.5,942.9 L236.6,941.7 L236.7,940.5 L236.8,939.3 L236.9,938.1 L237.1,936.9 L237.2,935.7 L237.3,934.5 L237.4,933.3 L237.5,932.0 L237.7,930.8 L237.8,929.6 L237.9,928.4 L238.0,927.2 L238.1,926.0 L238.3,924.8 L238.4,923.6 L238.5,922.4 L238.6,921.2 L238.7,920.0 L238.9,918.8 L239.0,917.6 L239.1,916.4 L239.2,915.2 L239.4,914.0 L239.5,912.8 L239.6,911.6 L239.7,910.4 L239.9,909.2 L240.0,908.0 L240.1,906.8 L240.2,905.6 L240.4,904.4 L240.5,903.2 L240.6,902.0 L240.7,900.8 L240.9,899.6 L241.0,898.4 L241.1,897.2 L241.2,896.0 L241.4,894.8 L241.5,893.6 L241.6,892.4 L241.7,891.2 L241.9,890.0 L242.0,888.8 L242.1,887.6 L242.3,886.4 L242.4,885.2 L242.5,884.0 L242.6,882.8 L242.8,881.6 L242.9,880.4 L243.0,879.2 L243.2,878.0 L243.3,876.8 L243.4,875.6 L243.5,874.4 L243.7,873.2 L243.8,872.0 L243.9,870.8 L244.1,869.7 L244.2,868.5 L244.3,867.3 L244.5,866.1 L244.6,864.9 L244.7,863.7 L244.8,862.5 L245.0,861.3 L245.1,860.1 L245.2,858.9 L245.4,857.7 L245.5,856.5 L245.6,855.3 L245.8,854.1 L245.9,852.9 L246.0,851.7 L246.2,850.5 L246.3,849.3 L246.4,848.1 L246.6,846.9 L246.7,845.7 L246.8,844.5 L247.0,843.3 L247.1,842.1 L247.2,840.9 L247.4,839.7 L247.5,838.5 L247.7,837.3 L247.8,836.1 L247.9,834.9 L248.1,833.7 L248.2,832.5 L248.3,831.3 L248.5,830.1 L248.6,828.9 L248.7,827.7 L248.9,826.5 L249.0,825.3 L249.2,824.1 L249.3,822.9 L249.4,821.7 L249.6,820.5 L249.7,819.3 L249.8,818.1 L250.0,816.9 L250.1,815.7 L250.3,814.5 L250.4,813.3 L250.5,812.1 L250.7,810.9 L250.8,809.7 L251.0,808.5 L251.1,807.3 L251.2,806.1 L251.4,804.9 L251.5,803.7 L251.7,802.5 L251.8,801.3 L252.0,800.1 L252.1,798.9 L252.2,797.7 L252.4,796.5 L252.5,795.3 L252.7,794.1 L252.8,792.9 L252.9,791.8 L253.1,790.6 L253.2,789.4 L253.4,788.2 L253.5,787.0 L253.7,785.8 L253.8,784.6 L254.0,783.4 L254.1,782.2 L254.2,781.0 L254.4,779.8 L254.5,778.6 L254.7,777.4 L254.8,776.2 L255.0,775.0 L255.1,773.8 L255.3,772.6 L255.4,771.4 L255.6,770.2 L255.7,769.0 L255.8,767.8 L256.0,766.6 L256.1,765.4 L256.3,764.2 L256.4,763.0 L256.6,761.8 L256.7,760.6 L256.9,759.4 L257.0,758.2 L257.2,757.0 L257.3,755.8 L257.5,754.6 L257.6,753.4 L257.8,752.2 L257.9,751.0 L258.1,749.8 L258.2,748.7 L258.4,747.5 L258.5,746.3 L258.7,745.1 L258.8,743.9 L259.0,742.7 L259.1,741.5 L259.3,740.3 L259.4,739.1 L259.6,737.9 L259.7,736.7 L259.9,735.5 L260.0,734.3 L260.2,733.1 L260.4,731.9 L260.5,730.7 L260.7,729.5 L260.8,728.3 L261.0,727.1 L261.1,725.9 L261.3,724.7 L261.4,723.5 L261.6,722.3 L261.7,721.1 L261.9,719.9 L262.0,718.7 L262.2,717.5 L262.4,716.3 L262.5,715.2 L262.7,714.0 L262.8,712.8 L263.0,711.6 L263.1,710.4 L263.3,709.2 L263.5,708.0 L263.6,706.8 L263.8,705.6 L263.9,704.4 L264.1,703.2 L264.2,702.0 L264.4,700.8 L264.6,699.6 L264.7,698.4 L264.9,697.2 L265.0,696.0 L265.2,694.8 L265.4,693.6 L265.5,692.4 L265.7,691.2 L265.8,690.0 L266.0,688.8 L266.2,687.6 L266.3,686.4 L266.5,685.3 L266.6,684.1 L266.8,682.9 L267.0,681.7 L267.1,680.5 L267.3,679.3 L267.4,678.1 L267.6,676.9 L267.8,675.7 L267.9,674.5 L268.1,673.3 L268.3,672.1 L268.4,670.9 L268.6,669.7 L268.8,668.5 L268.9,667.3 L269.1,666.1 L269.2,664.9 L269.4,663.7 L269.6,662.5 L269.7,661.3 L269.9,660.1 L270.1,659.0 L270.2,657.8 L270.4,656.6 L270.6,655.4 L270.7,654.2 L270.9,653.0 L271.1,651.8 L271.2,650.6 L271.4,649.4 L271.6,648.2 L271.7,647.0 L271.9,645.8 L272.1,644.6 L272.2,643.4 L272.4,642.2 L272.6,641.0 L272.7,639.8 L272.9,638.6 L273.1,637.4 L273.3,636.2 L273.4,635.1 L273.6,633.9 L273.8,632.7 L273.9,631.5 L274.1,630.3 L274.3,629.1 L274.4,627.9 L274.6,626.7 L274.8,625.5 L275.0,624.3 L275.1,623.1 L275.3,621.9 L275.5,620.7 L275.6,619.5 L275.8,618.3 L276.0,617.1 L276.2,615.9 L276.3,614.7 L276.5,613.6 L276.7,612.4 L276.9,611.2 L277.0,610.0 L277.2,608.8 L277.4,607.6 L277.6,606.4 L277.7,605.2 L277.9,604.0 L278.1,602.8 L278.3,601.6 L278.4,600.4 L278.6,599.2 L278.8,598.0 L279.0,596.8 L279.1,595.6 L279.3,594.4 L279.5,593.3 L279.7,592.1 L279.8,590.9 L280.0,589.7 L280.2,588.5 L280.4,587.3 L280.6,586.1 L280.7,584.9 L280.9,583.7 L281.1,582.5 L281.3,581.3 L281.4,580.1 L281.6,578.9 L281.8,577.7 L282.0,576.5 L282.2,575.3 L282.3,574.1 L282.5,573.0 L282.7,571.8 L282.9,570.6 L283.1,569.4 L283.3,568.2 L283.4,567.0 L283.6,565.8 L283.8,564.6 L284.0,563.4 L284.2,562.2 L284.3,561.0 L284.5,559.8 L284.7,558.6 L284.9,557.4 L285.1,556.2 L285.3,555.0 L285.4,553.9 L285.6,552.7 L285.8,551.5 L286.0,550.3 L286.2,549.1 L286.4,547.9 L286.6,546.7 L286.7,545.5 L286.9,544.3 L287.1,543.1 L287.3,541.9 L287.5,540.7 L287.7,539.5 L287.9,538.3 L288.0,537.1 L288.2,536.0 L288.4,534.8 L288.6,533.6 L288.8,532.4 L289.0,531.2 L289.2,530.0 L289.4,528.8 L289.5,527.6 L289.7,526.4 L289.9,525.2 L290.1,524.0 L290.3,522.8 L290.5,521.6 L290.7,520.4 L290.9,519.3 L291.1,518.1 L291.3,516.9 L291.4,515.7 L291.6,514.5 L291.8,513.3 L292.0,512.1 L292.2,510.9 L292.4,509.7 L292.6,508.5 L292.8,507.3 L293.0,506.1 L293.2,504.9 L293.4,503.7 L293.6,502.6 L293.8,501.4 L294.0,500.2 L294.1,499.0 L294.3,497.8 L294.5,496.6 L294.7,495.4 L294.9,494.2 L295.1,493.0 L295.3,491.8 L295.5,490.6 L295.7,489.4 L295.9,488.2 L296.1,487.0 L296.3,485.9 L296.5,484.7 L296.7,483.5 L296.9,482.3 L297.1,481.1 L297.3,479.9 L297.5,478.7 L297.7,477.5 L297.9,476.3 L298.1,475.1 L298.3,473.9 L298.5,472.7 L298.7,471.5 L298.9,470.4 L299.1,469.2 L299.3,468.0 L299.5,466.8 L299.7,465.6 L299.9,464.4 L300.1,463.2 L300.3,462.0 L300.5,460.8 L300.7,459.6 L300.9,458.4 L301.1,457.2 L301.3,456.0 L301.5,454.9 L301.7,453.7 L301.9,452.5 L302.1,451.3 L302.3,450.1 L302.5,448.9 L302.7,447.7 L302.9,446.5 L303.1,445.3 L303.3,444.1 L303.5,442.9 L303.7,441.8 L304.0,440.6 L304.2,439.4 L304.4,438.2 L304.6,437.0 L304.8,435.8 L305.0,434.6 L305.2,433.4 L305.4,432.2 L305.6,431.0 L305.8,429.8 L306.1,428.7 L306.3,427.5 L306.5,426.3 L306.7,425.1 L306.9,423.9 L307.1,422.7 L307.3,421.5 L307.5,420.3 L307.8,419.1 L308.0,417.9 L308.2,416.8 L308.4,415.6 L308.6,414.4 L308.8,413.2 L309.1,412.0 L309.3,410.8 L309.5,409.6 L309.7,408.4 L309.9,407.2 L310.2,406.1 L310.4,404.9 L310.6,403.7 L310.8,402.5 L311.1,401.3 L311.3,400.1 L311.5,398.9 L311.7,397.7 L312.0,396.6 L312.2,395.4 L312.4,394.2 L312.6,393.0 L312.9,391.8 L313.1,390.6 L313.3,389.4 L313.5,388.3 L313.8,387.1 L314.0,385.9 L314.2,384.7 L314.5,383.5 L314.7,382.3 L314.9,381.1 L315.2,380.0 L315.4,378.8 L315.6,377.6 L315.9,376.4 L316.1,375.2 L316.3,374.0 L316.6,372.8 L316.8,371.7 L317.1,370.5 L317.3,369.3 L317.5,368.1 L317.8,366.9 L318.0,365.7 L318.3,364.6 L318.5,363.4 L318.7,362.2 L319.0,361.0 L319.2,359.8 L319.5,358.7 L319.7,357.5 L320.0,356.3 L320.2,355.1 L320.5,353.9 L320.7,352.7 L321.0,351.6 L321.2,350.4 L321.5,349.2 L321.7,348.0 L322.0,346.8 L322.2,345.7 L322.5,344.5 L322.7,343.3 L323.0,342.1 L323.2,340.9 L323.5,339.8 L323.8,338.6 L324.0,337.4 L324.3,336.2 L324.5,335.1 L324.8,333.9 L325.1,332.7 L325.3,331.5 L325.6,330.3 L325.8,329.2 L326.1,328.0 L326.4,326.8 L326.6,325.6 L326.9,324.5 L327.2,323.3 L327.4,322.1 L327.7,320.9 L328.0,319.8 L328.3,318.6 L328.5,317.4 L328.8,316.2 L329.1,315.1 L329.4,313.9 L329.6,312.7 L329.9,311.5 L330.2,310.4 L330.5,309.2 L330.7,308.0 L331.0,306.8 L331.3,305.7 L331.6,304.5 L331.9,303.3 L332.2,302.2 L332.4,301.0 L332.7,299.8 L333.0,298.6 L333.3,297.5 L333.6,296.3 L333.9,295.1 L334.2,294.0 L334.5,292.8 L334.8,291.6 L335.1,290.5 L335.3,289.3 L335.6,288.1 L335.9,287.0 L336.2,285.8 L336.5,284.6 L336.8,283.5 L337.1,282.3 L337.4,281.1 L337.7,280.0 L338.0,278.8 L338.4,277.6 L338.7,276.5 L339.0,275.3 L339.3,274.1 L339.6,273.0 L339.9,271.8 L340.2,270.6 L340.5,269.5 L340.8,268.3 L341.1,267.2 L341.5,266.0 L341.8,264.8 L342.1,263.7 L342.4,262.5 L342.7,261.3 L343.0,260.2 L343.4,259.0 L343.7,257.9 L344.0,256.7 L344.3,255.5 L344.7,254.4 L345.0,253.2 L345.3,252.1 L345.7,250.9 L346.0,249.7 L346.3,248.6 L346.6,247.4 L347.0,246.3 L347.3,245.1 L347.7,244.0 L348.0,242.8 L348.3,241.7 L348.7,240.5 L349.0,239.3 L349.3,238.2 L349.7,237.0 L350.0,235.9 L350.4,234.7 L350.7,233.6 L351.1,232.4 L351.4,231.3 L351.8,230.1 L352.1,229.0 L352.5,227.8 L352.8,226.7 L353.2,225.5 L353.5,224.4 L353.9,223.2 L354.3,222.1 L354.6,220.9 L355.0,219.8 L355.3,218.6 L355.7,217.5 L356.1,216.3 L356.4,215.2 L356.8,214.0 L357.2,212.9 L357.6,211.7 L357.9,210.6 L358.3,209.4 L358.7,208.3 L359.0,207.2 L359.4,206.0 L359.8,204.9 L360.2,203.7 L360.6,202.6 L360.9,201.4 L361.3,200.3 L361.7,199.2 L362.1,198.0 L362.5,196.9 L362.9,195.7 L363.3,194.6 L363.7,193.5 L364.0,192.3 L364.4,191.2 L364.8,190.0 L365.2,188.9 L365.6,187.8 L366.0,186.6 L366.4,185.5 L366.8,184.3 L367.2,183.2 L367.7,182.1 L368.1,180.9 L368.5,179.8 L368.9,178.7 L369.3,177.6 L369.7,176.4 L370.1,175.3 L370.6,174.2 L371.0,173.0 L371.4,171.9 L371.9,170.8 L372.3,169.7 L372.7,168.6 L373.2,167.4 L373.6,166.3 L374.1,165.2 L374.6,164.1 L375.0,163.0 L375.5,161.9 L376.0,160.8 L376.4,159.7 L376.9,158.6 L377.4,157.5 L377.9,156.4 L378.4,155.3 L378.9,154.2 L379.4,153.1 L379.9,152.0 L380.4,151.0 L381.0,149.9 L381.5,148.8 L382.0,147.7 L382.6,146.7 L383.1,145.6 L383.7,144.5 L384.2,143.5 L384.8,142.4 L385.3,141.3 L385.9,140.3 L386.5,139.2 L387.0,138.2 L387.6,137.1 L388.2,136.0 L388.7,135.0 L389.3,133.9 L389.9,132.8 L390.5,131.8 L391.0,130.7 L391.6,129.6 L392.2,128.5 L392.8,127.5 L393.3,126.4 L393.9,125.3 L394.5,124.2 L395.1,123.1 L395.6,122.0 L396.2,121.0 L396.8,119.9 L397.4,118.8 L397.9,117.7 L398.5,116.6 L399.1,115.5 L399.7,114.4 L400.3,113.3 L400.8,112.2 L401.4,111.1 L402.0,110.0 L402.6,108.9 L403.2,107.8 L403.8,106.8 L404.4,105.7 L405.0,104.6 L405.6,103.5 L406.2,102.4 L406.8,101.3 L407.4,100.3 L408.0,99.2 L408.6,98.1 L409.2,97.1 L409.9,96.0 L410.5,95.0 L411.1,93.9 L411.8,92.9 L412.4,91.8 L413.1,90.8 L413.7,89.7 L414.4,88.7 L415.0,87.7 L415.7,86.7 L416.4,85.7 L417.1,84.7 L417.8,83.7 L418.5,82.7 L419.2,81.7 L419.9,80.8 L420.6,79.8 L421.3,78.8 L422.0,77.9 L422.8,77.0 L423.5,76.0 L424.3,75.1 L425.0,74.2 L425.8,73.3 L426.6,72.4 L427.4,71.5 L428.2,70.7 L429.0,69.8 L429.8,69.0 L430.6,68.1 L431.4,67.3 L432.3,66.5 L433.1,65.7 L434.0,64.9 L434.8,64.1 L435.7,63.3 L436.6,62.6 L437.5,61.9 L438.4,61.1 L439.3,60.4 L440.3,59.7 L441.2,59.0 L442.2,58.4 L443.1,57.7 L444.1,57.1 L445.1,56.4 L446.1,55.8 L447.1,55.2 L448.2,54.6 L449.2,54.1 L450.2,53.5 L451.3,53.0 L452.4,52.5 L453.5,52.0 L454.6,51.5 L455.7,51.0 L456.8,50.6 L457.9,50.1 L459.1,49.7 L460.2,49.3 L461.3,48.9 L462.5,48.6 L463.7,48.2 L464.9,47.9 L466.0,47.5 L467.2,47.2 L468.4,46.9 L469.6,46.7 L470.8,46.4 L472.0,46.2 L473.2,45.9 L474.5,45.7 L475.7,45.5 L476.9,45.3 L478.1,45.2 L479.4,45.0 L480.6,44.9 L481.8,44.8 L483.1,44.7 L484.3,44.6 L485.6,44.5 L486.8,44.5 L488.0,44.5 L489.3,44.4 L490.5,44.4 L491.7,44.5 L493.0,44.5 L494.2,44.5 L495.5,44.6 L496.7,44.7 L497.9,44.8 L499.1,44.9 L500.3,45.0 L501.6,45.2 L502.8,45.3 L504.0,45.5 L505.2,45.7 L506.4,45.9 L507.6,46.1 L508.7,46.4 L509.9,46.6 L511.1,46.9 L512.3,47.2 L513.4,47.5 L514.6,47.8 L515.7,48.2 L516.9,48.5 L518.0,48.9 L519.2,49.3 L520.3,49.6 L521.4,50.0 L522.5,50.5 L523.7,50.9 L524.8,51.3 L525.9,51.8 L527.0,52.2 L528.1,52.7 L529.2,53.2 L530.3,53.7 L531.4,54.2 L532.4,54.7 L533.5,55.2 L534.6,55.7 L535.7,56.3 L536.7,56.8 L537.8,57.4 L538.9,57.9 L539.9,58.5 L541.0,59.1 L542.0,59.7 L543.1,60.3 L544.1,60.9 L545.2,61.5 L546.2,62.1 L547.3,62.7 L548.3,63.4 L549.3,64.0 L550.3,64.6 L551.4,65.3 L552.4,65.9 L553.4,66.6 L554.4,67.2 L555.5,67.9 L556.5,68.5 L557.5,69.2 L558.5,69.9 L559.5,70.5 L560.5,71.2 L561.5,71.9 L562.5,72.5 L563.5,73.2 L564.5,73.9 L565.5,74.6 L566.5,75.3 L567.5,76.0 L568.5,76.6 L569.5,77.3 L570.5,78.0 L571.5,78.7 L572.5,79.4 L573.4,80.1 L574.4,80.8 L575.4,81.5 L576.4,82.2 L577.4,82.9 L578.3,83.6 L579.3,84.3 L580.3,85.0 L581.2,85.8 L582.2,86.5 L583.2,87.2 L584.2,87.9 L585.1,88.6 L586.1,89.3 L587.0,90.1 L588.0,90.8 L589.0,91.5 L589.9,92.2 L590.9,93.0 L591.8,93.7 L592.8,94.4 L593.7,95.2 L594.7,95.9 L595.6,96.6 L596.6,97.4 L597.5,98.1 L598.5,98.9 L599.4,99.6 L600.4,100.4 L601.3,101.1 L602.2,101.9 L603.2,102.6 L604.1,103.4 L605.1,104.1 L606.0,104.9 L606.9,105.6 L607.9,106.4 L608.8,107.2 L609.7,107.9 L610.6,108.7 L611.6,109.4 L612.5,110.2 L613.4,111.0 L614.3,111.7 L615.3,112.5 L616.2,113.3 L617.1,114.1 L618.0,114.8 L618.9,115.6 L619.9,116.4 L620.8,117.2 L621.7,117.9 L622.6,118.7 L623.5,119.5 L624.4,120.3 L625.4,121.1 L626.3,121.8 L627.2,122.6 L628.1,123.4 L629.0,124.2 L629.9,125.0 L630.8,125.8 L631.7,126.6 L632.6,127.4 L633.5,128.2 L634.4,129.0 L635.3,129.7 L636.2,130.5 L637.1,131.3 L638.0,132.1 L638.9,132.9 L639.8,133.7 L640.7,134.5 L641.6,135.3 L642.5,136.1 L643.4,137.0 L644.3,137.8 L645.2,138.6 L646.1,139.4 L647.0,140.2 L647.9,141.0 L648.8,141.8 L649.7,142.6 L650.5,143.4 L651.4,144.2 L652.3,145.0 L653.2,145.9 L654.1,146.7 L655.0,147.5 L655.9,148.3 L656.8,149.1 L657.7,149.9 L658.5,150.7 L659.4,151.6 L660.3,152.4 L661.2,153.2 L662.1,154.0 L663.0,154.8 L663.8,155.7 L664.7,156.5 L665.6,157.3 L666.5,158.1 L667.4,158.9 L668.3,159.8 L669.1,160.6 L670.0,161.4 L670.9,162.2 L671.8,163.1 L672.7,163.9 L673.5,164.7 L674.4,165.5 L675.3,166.4 L676.2,167.2 L677.1,168.0 L677.9,168.9 L678.8,169.7 L679.7,170.5 L680.6,171.3 L681.4,172.2 L682.3,173.0 L683.2,173.8 L684.1,174.7 L685.0,175.5 L685.8,176.3 L686.7,177.2 L687.6,178.0 L688.5,178.8 L689.3,179.6 L690.2,180.5 L691.1,181.3 L692.0,182.1 L692.9,183.0 L693.7,183.8 L694.6,184.6 L695.5,185.5 L696.4,186.3 L697.2,187.1 L698.1,188.0 L699.0,188.8 L699.9,189.6 L700.7,190.5 L701.6,191.3 L702.5,192.1 L703.4,193.0 L704.3,193.8 L705.1,194.6 L706.0,195.5 L706.9,196.3 L707.8,197.1 L708.7,198.0 L709.5,198.8 L710.4,199.6 L711.3,200.5 L712.2,201.3 L713.0,202.1 L713.9,203.0 L714.8,203.8 L715.7,204.6 L716.6,205.5 L717.4,206.3 L718.3,207.1 L719.2,208.0 L720.1,208.8 L721.0,209.6 L721.9,210.5 L722.7,211.3 L723.6,212.1 L724.5,212.9 L725.4,213.8 L726.3,214.6 L727.1,215.4 L728.0,216.3 L728.9,217.1 L729.8,217.9 L730.7,218.8 L731.6,219.6 L732.4,220.4 L733.3,221.3 L734.2,222.1 L735.1,222.9 L736.0,223.7 L736.9,224.6 L737.7,225.4 L738.6,226.2 L739.5,227.1 L740.4,227.9 L741.3,228.7 L742.2,229.5 L743.1,230.4 L743.9,231.2 L744.8,232.0 L745.7,232.8 L746.6,233.7 L747.5,234.5 L748.4,235.3 L749.3,236.2 L750.2,237.0 L751.0,237.8 L751.9,238.6 L752.8,239.4 L753.7,240.3 L754.6,241.1 L755.5,241.9 L756.4,242.7 L757.3,243.6 L758.2,244.4 L759.1,245.2 L759.9,246.0 L760.8,246.8 L761.7,247.7 L762.6,248.5 L763.5,249.3 L764.4,250.1 L765.3,250.9 L766.2,251.8 L767.1,252.6 L768.0,253.4 L768.9,254.2 L769.8,255.0 L770.7,255.8 L771.6,256.7 L772.5,257.5 L773.4,258.3 L774.3,259.1 L775.2,259.9 L776.1,260.7 L777.0,261.5 L777.9,262.3 L778.8,263.2 L779.7,264.0 L780.6,264.8 L781.5,265.6 L782.4,266.4 L783.3,267.2 L784.2,268.0 L785.1,268.8 L786.0,269.6 L786.9,270.4 L787.8,271.2 L788.7,272.0 L789.6,272.8 L790.5,273.6 L791.4,274.4 L792.3,275.2 L793.3,276.0 L794.2,276.8 L795.1,277.6 L796.0,278.4 L796.9,279.2 L797.8,280.0 L798.7,280.8 L799.6,281.6 L800.5,282.4 L801.5,283.2 L802.4,284.0 L803.3,284.8 L804.2,285.6 L805.1,286.4 L806.0,287.2 L806.9,288.0 L807.9,288.7 L808.8,289.5 L809.7,290.3 L810.6,291.1 L811.5,291.9 L812.5,292.7 L813.4,293.5 L814.3,294.2 L815.2,295.0 L816.2,295.8 L817.1,296.6 L818.0,297.4 L818.9,298.1 L819.9,298.9 L820.8,299.7 L821.7,300.5 L822.6,301.3 L823.6,302.0 L824.5,302.8 L825.4,303.6 L826.3,304.3 L827.3,305.1 L828.2,305.9 L829.1,306.7 L830.1,307.4 L831.0,308.2 L831.9,309.0 L832.9,309.7 L833.8,310.5 L834.8,311.3 L835.7,312.0 L836.6,312.8 L837.6,313.5 L838.5,314.3 L839.4,315.1 L840.4,315.8 L841.3,316.6 L842.3,317.3 L843.2,318.1 L844.2,318.8 L845.1,319.6 L846.0,320.3 L847.0,321.1 L847.9,321.8 L848.9,322.6 L849.8,323.3 L850.8,324.1 L851.7,324.8 L852.7,325.6 L853.6,326.3 L854.6,327.1 L855.5,327.8 L856.5,328.5 L857.4,329.3 L858.4,330.0 L859.3,330.8 L860.3,331.5 L861.3,332.2 L862.2,333.0 L863.2,333.7 L864.1,334.4 L865.1,335.2 L866.0,335.9 L867.0,336.6 L868.0,337.4 L868.9,338.1 L869.9,338.8 L870.8,339.6 L871.8,340.3 L872.8,341.0 L873.7,341.7 L874.7,342.5 L875.7,343.2 L876.6,343.9 L877.6,344.6 L878.6,345.3 L879.5,346.1 L880.5,346.8 L881.5,347.5 L882.4,348.2 L883.4,348.9 L884.4,349.6 L885.4,350.4 L886.3,351.1 L887.3,351.8 L888.3,352.5 L889.2,353.2 L890.2,353.9 L891.2,354.6 L892.2,355.3 L893.2,356.0 L894.1,356.7 L895.1,357.4 L896.1,358.1 L897.1,358.8 L898.0,359.5 L899.0,360.2 L900.0,360.9 L901.0,361.6 L902.0,362.3 L903.0,363.0 L903.9,363.7 L904.9,364.4 L905.9,365.1 L906.9,365.8 L907.9,366.5 L908.9,367.2 L909.9,367.9 L910.8,368.6 L911.8,369.3 L912.8,370.0 L913.8,370.6 L914.8,371.3 L915.8,372.0 L916.8,372.7 L917.8,373.4 L918.8,374.1 L919.8,374.7 L920.8,375.4 L921.8,376.1 L922.8,376.8 L923.8,377.5 L924.7,378.1 L925.7,378.8 L926.7,379.5 L927.7,380.2 L928.7,380.8 L929.7,381.5 L930.7,382.2 L931.7,382.8 L932.7,383.5 L933.7,384.2 L934.7,384.8 L935.8,385.5 L936.8,386.2 L937.8,386.8 L938.8,387.5 L939.8,388.2 L940.8,388.8 L941.8,389.5 L942.8,390.1 L943.8,390.8 L944.8,391.5 L945.8,392.1 L946.8,392.8 L947.8,393.4 L948.8,394.1 L949.9,394.7 L950.9,395.4 L951.9,396.0 L952.9,396.7 L953.9,397.3 L954.9,398.0 L955.9,398.6 L957.0,399.3 L958.0,399.9 L959.0,400.6 L960.0,401.2 L961.0,401.9 L962.0,402.5 L963.1,403.2 L964.1,403.8 L965.1,404.4 L966.1,405.1 L967.1,405.7 L968.2,406.3 L969.2,407.0 L970.2,407.6 L971.2,408.3 L972.3,408.9 L973.3,409.5 L974.3,410.2 L975.3,410.8 L976.4,411.4 L977.4,412.0 L978.4,412.7 L979.4,413.3 L980.5,413.9 L981.5,414.6 L982.5,415.2 L983.6,415.8 L984.6,416.4 L985.6,417.0 L986.7,417.7 L987.7,418.3 L988.7,418.9 L989.8,419.5 L990.8,420.1 L991.8,420.8 L992.9,421.4 L993.9,422.0 L994.9,422.6 L996.0,423.2 L997.0,423.8 L998.0,424.4 L999.1,425.0 L1000.1,425.7 L1001.2,426.3 L1002.2,426.9 L1003.2,427.5 L1004.3,428.1 L1005.3,428.7 L1006.4,429.3 L1007.4,429.9 L1008.4,430.5 L1009.5,431.1 L1010.5,431.7 L1011.6,432.3 L1012.6,432.9 L1013.7,433.5 L1014.7,434.1 L1015.8,434.7 L1016.8,435.3 L1017.9,435.9 L1018.9,436.5 L1020.0,437.1 L1021.0,437.7 L1022.1,438.2 L1023.1,438.8 L1024.2,439.4 L1025.2,440.0 L1026.3,440.6 L1027.3,441.2 L1028.4,441.8 L1029.4,442.4 L1030.5,442.9 L1031.5,443.5 L1032.6,444.1 L1033.6,444.7 L1034.7,445.3 L1035.8,445.8 L1036.8,446.4 L1037.9,447.0 L1038.9,447.6 L1040.0,448.1 L1041.0,448.7 L1042.1,449.3 L1043.2,449.9 L1044.2,450.4 L1045.3,451.0 L1046.3,451.6 L1047.4,452.2 L1048.5,452.7 L1049.5,453.3 L1050.6,453.9 L1051.7,454.4 L1052.7,455.0 L1053.8,455.5 L1054.9,456.1 L1055.9,456.7 L1057.0,457.2 L1058.1,457.8 L1059.1,458.4 L1060.2,458.9 L1061.3,459.5 L1062.3,460.0 L1063.4,460.6 L1064.5,461.1 L1065.5,461.7 L1066.6,462.2 L1067.7,462.8 L1068.7,463.4 L1069.8,463.9 L1070.9,464.5 L1072.0,465.0 L1073.0,465.6 L1074.1,466.1 L1075.2,466.6 L1076.3,467.2 L1077.3,467.7 L1078.4,468.3 L1079.5,468.8 L1080.6,469.4 L1081.6,469.9 L1082.7,470.4 L1083.8,471.0 L1084.9,471.5 L1086.0,472.1 L1087.0,472.6 L1088.1,473.1 L1089.2,473.7 L1090.3,474.2 L1091.4,474.7 L1092.4,475.3 L1093.5,475.8 L1094.6,476.3 L1095.7,476.9 L1096.8,477.4 L1097.8,477.9 L1098.9,478.4 L1100.0,479.0 L1101.1,479.5 L1102.2,480.0 L1103.3,480.5 L1104.4,481.1 L1105.4,481.6 L1106.5,482.1 L1107.6,482.6 L1108.7,483.2 L1109.8,483.7 L1110.9,484.2 L1112.0,484.7 L1113.1,485.2 L1114.2,485.7 L1115.3,486.3 L1116.3,486.8 L1117.4,487.3 L1118.5,487.8 L1119.6,488.3 L1120.7,488.8 L1121.8,489.3 L1122.9,489.8 L1124.0,490.3 L1125.1,490.8 L1126.2,491.4 L1127.3,491.9 L1128.4,492.4 L1129.5,492.9 L1130.6,493.4 L1131.7,493.9 L1132.8,494.4 L1133.9,494.9 L1135.0,495.4 L1136.1,495.9 L1137.2,496.4 L1138.3,496.9 L1139.4,497.4 L1140.5,497.9 L1141.6,498.3 L1142.7,498.8 L1143.8,499.3 L1144.9,499.8 L1146.0,500.3 L1147.1,500.8 L1148.2,501.3 L1149.3,501.8 L1150.4,502.3 L1151.5,502.8 L1152.6,503.2 L1153.7,503.7 L1154.8,504.2 L1155.9,504.7 L1157.0,505.2 L1158.1,505.7 L1159.2,506.1 L1160.3,506.6 L1161.4,507.1 L1162.6,507.6 L1163.7,508.0 L1164.8,508.5 L1165.9,509.0 L1167.0,509.5 L1168.1,509.9 L1169.2,510.4 L1170.3,510.9 L1171.4,511.4 L1172.5,511.8 L1173.7,512.3 L1174.8,512.8 L1175.9,513.2 L1177.0,513.7 L1178.1,514.2 L1179.2,514.6 L1180.3,515.1 L1181.5,515.6 L1182.6,516.0 L1183.7,516.5 L1184.8,516.9 L1185.9,517.4 L1187.0,517.9 L1188.2,518.3 L1189.3,518.8 L1190.4,519.2 L1191.5,519.7 L1192.6,520.2 L1193.7,520.6 L1194.9,521.1 L1196.0,521.5 L1197.1,522.0 L1198.2,522.4 L1199.3,522.9 L1200.5,523.3 L1201.6,523.8 L1202.7,524.2 L1203.8,524.7 L1205.0,525.1 L1206.1,525.5 L1207.2,526.0 L1208.3,526.4 L1209.4,526.9 L1210.6,527.3 L1211.7,527.8 L1212.8,528.2 L1213.9,528.6 L1215.1,529.1 L1216.2,529.5 L1217.3,530.0 L1218.5,530.4 L1219.6,530.8 L1220.7,531.3 L1221.8,531.7 L1223.0,532.1 L1224.1,532.6 L1225.2,533.0 L1226.3,533.4 L1227.5,533.8 L1228.6,534.3 L1229.7,534.7 L1230.9,535.1 L1232.0,535.6 L1233.1,536.0 L1234.3,536.4 L1235.4,536.8 L1236.5,537.3 L1237.7,537.7 L1238.8,538.1 L1239.9,538.5 L1241.1,538.9 L1242.2,539.4 L1243.3,539.8 L1244.5,540.2 L1245.6,540.6 L1246.7,541.0 L1247.9,541.4 L1249.0,541.8 L1250.1,542.3 L1251.3,542.7 L1252.4,543.1 L1253.5,543.5 L1254.7,543.9 L1255.8,544.3 L1257.0,544.7 L1258.1,545.1 L1259.2,545.5 L1260.4,545.9 L1261.5,546.3 L1262.6,546.7 L1263.8,547.1 L1264.9,547.6 L1266.1,548.0 L1267.2,548.4 L1268.4,548.8 L1269.5,549.2 L1270.6,549.6 L1271.8,549.9 L1272.9,550.3 L1274.1,550.7 L1275.2,551.1 L1276.3,551.5 L1277.5,551.9 L1278.6,552.3 L1279.8,552.7 L1280.9,553.1 L1282.1,553.5 L1283.2,553.9 L1284.4,554.3 L1285.5,554.7 L1286.6,555.0 L1287.8,555.4 L1288.9,555.8 L1290.1,556.2 L1291.2,556.6 L1292.4,557.0 L1293.5,557.3 L1294.7,557.7 L1295.8,558.1 L1297.0,558.5 L1298.1,558.9 L1299.3,559.2 L1300.4,559.6 L1301.6,560.0 L1302.7,560.4 L1303.9,560.7 L1305.0,561.1 L1306.2,561.5 L1307.3,561.9 L1308.5,562.2 L1309.6,562.6 L1310.8,563.0 L1311.9,563.3 L1313.1,563.7 L1314.2,564.1 L1315.4,564.4 L1316.5,564.8 L1317.7,565.2 L1318.8,565.5 L1320.0,565.9 L1321.1,566.3 L1322.3,566.6 L1323.4,567.0 L1324.6,567.3 L1325.8,567.7 L1326.9,568.1 L1328.1,568.4 L1329.2,568.8 L1330.4,569.1 L1331.5,569.5 L1332.7,569.8 L1333.8,570.2 L1335.0,570.6 L1336.2,570.9 L1337.3,571.3 L1338.5,571.6 L1339.6,572.0 L1340.8,572.3 L1341.9,572.7 L1343.1,573.0 L1344.3,573.3 L1345.4,573.7 L1346.6,574.0 L1347.7,574.4 L1348.9,574.7 L1350.1,575.1 L1351.2,575.4 L1352.4,575.8 L1353.5,576.1 L1354.7,576.4 L1355.9,576.8 L1357.0,577.1 L1358.2,577.4 L1359.3,577.8 L1360.5,578.1 L1361.7,578.5 L1362.8,578.8 L1364.0,579.1 L1365.2,579.5 L1366.3,579.8 L1367.5,580.1 L1368.6,580.4 L1369.8,580.8 L1371.0,581.1 L1372.1,581.4 L1373.3,581.8 L1374.5,582.1 L1375.6,582.4 L1376.8,582.7 L1378.0,583.1 L1379.1,583.4 L1380.3,583.7 L1381.5,584.0 L1382.6,584.3 L1383.8,584.7 L1385.0,585.0 L1386.1,585.3 L1387.3,585.6 L1388.5,585.9 L1389.6,586.2 L1390.8,586.6 L1392.0,586.9 L1393.1,587.2 L1394.3,587.5 L1395.5,587.8 L1396.6,588.1 L1397.8,588.4 L1399.0,588.7 L1400.1,589.1 L1401.3,589.4 L1402.5,589.7 L1403.6,590.0 L1404.8,590.3 L1406.0,590.6 L1407.1,590.9 L1408.3,591.2 L1409.5,591.5 L1410.7,591.8 L1411.8,592.1 L1413.0,592.4 L1414.2,592.7 L1415.3,593.0 L1416.5,593.3 L1417.7,593.6 L1418.9,593.9 L1420.0,594.2 L1421.2,594.5 L1422.4,594.8 L1423.5,595.1 L1424.7,595.4 L1425.9,595.7 L1427.1,595.9 L1428.2,596.2 L1429.4,596.5 L1430.6,596.8 L1431.8,597.1 L1432.9,597.4 L1434.1,597.7 L1435.3,598.0 L1436.5,598.2 L1437.6,598.5 L1438.8,598.8 L1440.0,599.1 L1441.1,599.4 L1442.3,599.7 L1443.5,599.9 L1444.7,600.2 L1445.9,600.5 L1447.0,600.8 L1448.2,601.1 L1449.4,601.3 L1450.6,601.6 L1451.7,601.9 L1452.9,602.2 L1454.1,602.4 L1455.3,602.7 L1456.4,603.0 L1457.6,603.2 L1458.8,603.5 L1460.0,603.8 L1461.1,604.1 L1462.3,604.3 L1463.5,604.6 L1464.7,604.9 L1465.9,605.1 L1467.0,605.4 L1468.2,605.6 L1469.4,605.9 L1470.6,606.2 L1471.7,606.4 L1472.9,606.7 L1474.1,607.0 L1475.3,607.2 L1476.5,607.5 L1477.6,607.7 L1478.8,608.0 L1480.0,608.3 L1481.2,608.5 L1482.4,608.8 L1483.5,609.0 L1484.7,609.3 L1485.9,609.5 L1487.1,609.8 L1488.3,610.0 L1489.4,610.3 L1490.6,610.5 L1491.8,610.8 L1493.0,611.0 L1494.2,611.3 L1495.3,611.5 L1496.5,611.8 L1497.7,612.0 L1498.9,612.3 L1500.1,612.5 L1501.3,612.7 L1502.4,613.0 L1503.6,613.2 L1504.8,613.5 L1506.0,613.7 L1507.2,613.9 L1508.3,614.2 L1509.5,614.4 L1510.7,614.7 L1511.9,614.9 L1513.1,615.1 L1514.3,615.4 L1515.4,615.6 L1516.6,615.8 L1517.8,616.1 L1519.0,616.3 L1520.2,616.5 L1521.4,616.8 L1522.5,617.0 L1523.7,617.2 L1524.9,617.4 L1526.1,617.7 L1527.3,617.9 L1528.5,618.1 L1529.6,618.4 L1530.8,618.6 L1532.0,618.8 L1533.2,619.0 L1534.4,619.2 L1535.6,619.5 L1536.7,619.7 L1537.9,619.9 L1539.1,620.1 L1540.3,620.3 L1541.5,620.6 L1542.7,620.8 L1543.9,621.0 L1545.0,621.2 L1546.2,621.4 L1547.4,621.6 L1548.6,621.9 L1549.8,622.1 L1551.0,622.3 L1552.2,622.5 L1553.3,622.7 L1554.5,622.9 L1555.7,623.1 L1556.9,623.3 L1558.1,623.5 L1559.3,623.7 L1560.5,623.9 L1561.6,624.2 L1562.8,624.4 L1564.0,624.6 L1565.2,624.8 L1566.4,625.0 L1567.6,625.2 L1568.8,625.4 L1569.9,625.6 L1571.1,625.8 L1572.3,626.0 L1573.5,626.2 L1574.7,626.4 L1575.9,626.6 L1577.1,626.8 L1578.2,626.9 L1579.4,627.1 L1580.6,627.3 L1581.8,627.5 L1583.0,627.7 L1584.2,627.9 L1585.4,628.1 L1586.6,628.3 L1587.7,628.5 L1588.9,628.7 L1590.1,628.9 L1591.3,629.0 L1592.5,629.2 L1593.7,629.4 L1594.9,629.6" stroke="#ff0000"/>
<path d="M224.7,1005.0 L224.8,1004.6 L224.8,1003.7 L224.9,1002.9 L225.0,1002.1 L225.0,1001.3 L225.1,1000.5 L225.2,999.6 L225.2,998.8 L225.3,998.0 L225.4,997.2 L225.4,996.4 L225.5,995.5 L225.6,994.7 L225.6,993.9 L225.7,993.1 L225.8,992.3 L225.8,991.4 L225.9,990.6 L226.0,989.8 L226.1,989.0 L226.1,988.2 L226.2,987.3 L226.3,986.5 L226.3,985.7 L226.4,984.9 L226.5,984.0 L226.5,983.2 L226.6,982.4 L226.7,981.6 L226.7,980.8 L226.8,979.9 L226.9,979.1 L226.9,978.3 L227.0,977.5 L227.1,976.7 L227.2,975.8 L227.2,975.0 L227.3,974.2 L227.4,973.4 L227.4,972.6 L227.5,971.7 L227.6,970.9 L227.6,970.1 L227.7,969.3 L227.8,968.5 L227.9,967.6 L227.9,966.8 L228.0,966.0 L228.1,965.2 L228.1,964.4 L228.2,963.5 L228.3,962.7 L228.3,961.9 L228.4,961.1 L228.5,960.3 L228.6,959.4 L228.6,958.6 L228.7,957.8 L228.8,957.0 L228.8,956.2 L228.9,955.3 L228.9,955.2 M233.3,905.4 L233.4,905.3 L233.4,904.5 L233.5,903.7 L233.6,902.8 L233.7,902.0 L233.7,901.2 L233.8,900.4 L233.9,899.6 L234.0,898.7 L234.0,897.9 L234.1,897.1 L234.2,896.3 L234.3,895.5 L234.3,894.7 L234.4,893.8 L234.5,893.0 L234.6,892.2 L234.6,891.4 L234.7,890.6 L234.8,889.7 L234.9,888.9 L234.9,888.1 L235.0,887.3 L235.1,886.5 L235.2,885.6 L235.2,884.8 L235.3,884.0 L235.4,883.2 L235.5,882.4 L235.5,881.5 L235.6,880.7 L235.7,879.9 L235.8,879.1 L235.8,878.3 L235.9,877.4 L236.0,876.6 L236.1,875.8 L236.2,875.0 L236.2,874.2 L236.3,873.3 L236.4,872.5 L236.5,871.7 L236.5,870.9 L236.6,870.1 L236.7,869.2 L236.8,868.4 L236.8,867.6 L236.9,866.8 L237.0,866.0 L237.1,865.1 L237.2,864.3 L237.2,863.5 L237.3,862.7 L237.4,861.9 L237.5,861.1 L237.5,860.2 L237.6,859.4 L237.7,858.6 L237.8,857.8 L237.9,857.0 L237.9,856.1 L238.0,855.6 M242.9,805.8 L242.9,805.4 L243.0,804.5 L243.1,803.7 L243.2,802.9 L243.2,802.1 L243.3,801.3 L243.4,800.4 L243.5,799.6 L243.6,798.8 L243.7,798.0 L243.7,797.2 L243.8,796.4 L243.9,795.5 L244.0,794.7 L244.1,793.9 L244.2,793.1 L244.2,792.3 L244.3,791.4 L244.4,790.6 L244.5,789.8 L244.6,789.0 L244.7,788.2 L244.7,787.3 L244.8,786.5 L244.9,785.7 L245.0,784.9 L245.1,784.1 L245.2,783.3 L245.2,782.4 L245.3,781.6 L245.4,780.8 L245.5,780.0 L245.6,779.2 L245.7,778.3 L245.7,777.5 L245.8,776.7 L245.9,775.9 L246.0,775.1 L246.1,774.2 L246.2,773.4 L246.3,772.6 L246.3,771.8 L246.4,771.0 L246.5,770.2 L246.6,769.3 L246.7,768.5 L246.8,767.7 L246.8,766.9 L246.9,766.1 L247.0,765.2 L247.1,764.4 L247.2,763.6 L247.3,762.8 L247.4,762.0 L247.4,761.2 L247.5,760.3 L247.6,759.5 L247.7,758.7 L247.8,757.9 L247.9,757.1 L248.0,756.2 L248.0,756.1 M253.3,706.4 L253.4,706.3 L253.4,705.5 L253.5,704.7 L253.6,703.9 L253.7,703.1 L253.8,702.2 L253.9,701.4 L254.0,700.6 L254.1,699.8 L254.2,699.0 L254.3,698.2 L254.4,697.3 L254.4,696.5 L254.5,695.7 L254.6,694.9 L254.7,694.1 L254.8,693.2 L254.9,692.4 L255.0,691.6 L255.1,690.8 L255.2,690.0 L255.3,689.2 L255.4,688.3 L255.5,687.5 L255.5,686.7 L255.6,685.9 L255.7,685.1 L255.8,684.2 L255.9,683.4 L256.0,682.6 L256.1,681.8 L256.2,681.0 L256.3,680.2 L256.4,679.3 L256.5,678.5 L256.6,677.7 L256.7,676.9 L256.8,676.1 L256.8,675.2 L256.9,674.4 L257.0,673.6 L257.1,672.8 L257.2,672.0 L257.3,671.2 L257.4,670.3 L257.5,669.5 L257.6,668.7 L257.7,667.9 L257.8,667.1 L257.9,666.3 L258.0,665.4 L258.1,664.6 L258.2,663.8 L258.3,663.0 L258.4,662.2 L258.4,661.3 L258.5,660.5 L258.6,659.7 L258.7,658.9 L258.8,658.1 L258.9,657.3 L259.0,656.7 M264.9,607.0 L265.0,606.6 L265.1,605.7 L265.2,604.9 L265.3,604.1 L265.4,603.3 L265.5,602.5 L265.6,601.7 L265.7,600.8 L265.8,600.0 L265.9,599.2 L266.0,598.4 L266.1,597.6 L266.2,596.8 L266.3,595.9 L266.4,595.1 L266.5,594.3 L266.6,593.5 L266.7,592.7 L266.8,591.8 L266.9,591.0 L267.0,590.2 L267.1,589.4 L267.2,588.6 L267.3,587.8 L267.4,586.9 L267.5,586.1 L267.6,585.3 L267.7,584.5 L267.8,583.7 L267.9,582.9 L268.0,582.0 L268.1,581.2 L268.2,580.4 L268.3,579.6 L268.4,578.8 L268.5,577.9 L268.6,577.1 L268.7,576.3 L268.8,575.5 L268.9,574.7 L269.0,573.9 L269.1,573.0 L269.2,572.2 L269.3,571.4 L269.4,570.6 L269.5,569.8 L269.6,569.0 L269.7,568.1 L269.8,567.3 L269.9,566.5 L270.0,565.7 L270.1,564.9 L270.3,564.1 L270.4,563.2 L270.5,562.4 L270.6,561.6 L270.7,560.8 L270.8,560.0 L270.9,559.1 L271.0,558.3 L271.1,557.5 L271.1,557.4 M277.6,507.9 L277.6,507.7 L277.7,506.8 L277.8,506.0 L278.0,505.2 L278.1,504.4 L278.2,503.6 L278.3,502.8 L278.4,501.9 L278.5,501.1 L278.6,500.3 L278.7,499.5 L278.8,498.7 L278.9,497.9 L279.1,497.0 L279.2,496.2 L279.3,495.4 L279.4,494.6 L279.5,493.8 L279.6,492.9 L279.7,492.1 L279.8,491.3 L280.0,490.5 L280.1,489.7 L280.2,488.9 L280.3,488.0 L280.4,487.2 L280.5,486.4 L280.6,485.6 L280.7,484.8 L280.9,484.0 L281.0,483.1 L281.1,482.3 L281.2,481.5 L281.3,480.7 L281.4,479.9 L281.5,479.1 L281.7,478.2 L281.8,477.4 L281.9,476.6 L282.0,475.8 L282.1,475.0 L282.2,474.2 L282.3,473.3 L282.5,472.5 L282.6,471.7 L282.7,470.9 L282.8,470.1 L282.9,469.3 L283.0,468.4 L283.1,467.6 L283.3,466.8 L283.4,466.0 L283.5,465.2 L283.6,464.4 L283.7,463.6 L283.8,462.7 L284.0,461.9 L284.1,461.1 L284.2,460.3 L284.3,459.5 L284.4,458.7 L284.5,458.3 M291.9,408.9 L292.0,408.1 L292.1,407.3 L292.3,406.5 L292.4,405.7 L292.5,404.9 L292.6,404.1 L292.8,403.2 L292.9,402.4 L293.0,401.6 L293.2,400.8 L293.3,400.0 L293.4,399.2 L293.5,398.4 L293.7,397.5 L293.8,396.7 L293.9,395.9 L294.1,395.1 L294.2,394.3 L294.3,393.5 L294.4,392.7 L294.6,391.9 L294.7,391.0 L294.8,390.2 L295.0,389.4 L295.1,388.6 L295.2,387.8 L295.4,387.0 L295.5,386.2 L295.6,385.4 L295.8,384.5 L295.9,383.7 L296.0,382.9 L296.2,382.1 L296.3,381.3 L296.4,380.5 L296.6,379.7 L296.7,378.9 L296.8,378.0 L297.0,377.2 L297.1,376.4 L297.2,375.6 L297.4,374.8 L297.5,374.0 L297.6,373.2 L297.8,372.4 L297.9,371.5 L298.1,370.7 L298.2,369.9 L298.3,369.1 L298.5,368.3 L298.6,367.5 L298.7,366.7 L298.9,365.9 L299.0,365.1 L299.1,364.2 L299.3,363.4 L299.4,362.6 L299.6,361.8 L299.7,361.0 L299.8,360.2 L299.9,359.5 M308.8,310.3 L308.9,310.0 L309.0,309.2 L309.2,308.4 L309.3,307.6 L309.5,306.8 L309.6,306.0 L309.8,305.2 L310.0,304.4 L310.1,303.6 L310.3,302.8 L310.4,302.0 L310.6,301.2 L310.7,300.4 L310.9,299.5 L311.0,298.7 L311.2,297.9 L311.4,297.1 L311.5,296.3 L311.7,295.5 L311.8,294.7 L312.0,293.9 L312.2,293.1 L312.3,292.3 L312.5,291.5 L312.6,290.7 L312.8,289.9 L312.9,289.1 L313.1,288.3 L313.3,287.5 L313.4,286.7 L313.6,285.9 L313.8,285.1 L313.9,284.3 L314.1,283.4 L314.2,282.6 L314.4,281.8 L314.6,281.0 L314.7,280.2 L314.9,279.4 L315.1,278.6 L315.2,277.8 L315.4,277.0 L315.5,276.2 L315.7,275.4 L315.9,274.6 L316.0,273.8 L316.2,273.0 L316.4,272.2 L316.5,271.4 L316.7,270.6 L316.9,269.8 L317.0,269.0 L317.2,268.2 L317.4,267.4 L317.5,266.6 L317.7,265.8 L317.9,265.0 L318.0,264.2 L318.2,263.4 L318.4,262.6 L318.5,261.8 L318.6,261.3 M329.7,212.5 L329.8,212.2 L329.9,211.4 L330.1,210.7 L330.3,209.9 L330.5,209.1 L330.7,208.3 L330.9,207.5 L331.1,206.7 L331.3,205.9 L331.5,205.1 L331.7,204.3 L331.9,203.5 L332.2,202.7 L332.4,201.9 L332.6,201.1 L332.8,200.3 L333.0,199.5 L333.2,198.7 L333.4,198.0 L333.6,197.2 L333.8,196.4 L334.0,195.6 L334.2,194.8 L334.4,194.0 L334.7,193.2 L334.9,192.4 L335.1,191.6 L335.3,190.8 L335.5,190.0 L335.7,189.3 L336.0,188.5 L336.2,187.7 L336.4,186.9 L336.6,186.1 L336.8,185.3 L337.1,184.5 L337.3,183.7 L337.5,182.9 L337.7,182.1 L338.0,181.4 L338.2,180.6 L338.4,179.8 L338.6,179.0 L338.9,178.2 L339.1,177.4 L339.3,176.6 L339.6,175.8 L339.8,175.1 L340.0,174.3 L340.3,173.5 L340.5,172.7 L340.8,171.9 L341.0,171.1 L341.2,170.3 L341.5,169.5 L341.7,168.8 L342.0,168.0 L342.2,167.2 L342.4,166.4 L342.7,165.6 L342.9,164.8 L343.1,164.4 M360.4,117.5 L360.4,117.4 L360.7,116.6 L361.1,115.8 L361.4,115.1 L361.7,114.3 L362.1,113.5 L362.4,112.8 L362.7,112.0 L363.1,111.2 L363.4,110.5 L363.8,109.7 L364.1,108.9 L364.5,108.2 L364.8,107.4 L365.2,106.6 L365.5,105.9 L365.9,105.1 L366.2,104.3 L366.6,103.6 L366.9,102.8 L367.3,102.0 L367.7,101.3 L368.0,100.5 L368.4,99.7 L368.7,99.0 L369.1,98.2 L369.5,97.4 L369.9,96.7 L370.2,95.9 L370.6,95.2 L371.0,94.4 L371.4,93.6 L371.7,92.9 L372.1,92.1 L372.5,91.4 L372.9,90.6 L373.3,89.8 L373.7,89.1 L374.1,88.3 L374.5,87.6 L374.9,86.8 L375.3,86.1 L375.7,85.3 L376.1,84.6 L376.5,83.8 L376.9,83.1 L377.3,82.3 L377.7,81.6 L378.1,80.8 L378.6,80.1 L379.0,79.4 L379.4,78.6 L379.9,77.9 L380.3,77.2 L380.7,76.4 L381.2,75.7 L381.6,75.0 L382.1,74.3 L382.5,73.6 L382.9,72.9 M418.9,39.3 L419.4,39.1 L420.2,38.8 L420.9,38.5 L421.6,38.2 L422.3,37.9 L423.1,37.6 L423.8,37.3 L424.5,37.1 L425.3,36.8 L426.0,36.6 L426.8,36.4 L427.5,36.2 L428.3,36.0 L429.0,35.8 L429.8,35.6 L430.5,35.4 L431.3,35.3 L432.0,35.1 L432.8,35.0 L433.6,34.8 L434.3,34.7 L435.1,34.6 L435.9,34.5 L436.6,34.4 L437.4,34.4 L438.2,34.3 L439.0,34.3 L439.7,34.2 L440.5,34.2 L441.3,34.2 L442.1,34.2 L442.8,34.2 L443.6,34.2 L444.4,34.2 L445.2,34.3 L446.0,34.3 L446.7,34.4 L447.5,34.5 L448.3,34.6 L449.1,34.6 L449.9,34.8 L450.6,34.9 L451.4,35.0 L452.2,35.1 L453.0,35.3 L453.8,35.4 L454.5,35.6 L455.3,35.7 L456.1,35.9 L456.9,36.1 L457.7,36.3 L458.4,36.5 L459.2,36.7 L460.0,36.9 L460.7,37.1 L461.5,37.3 L462.3,37.6 L463.1,37.8 L463.8,38.1 L464.6,38.3 L465.3,38.6 L466.1,38.8 L466.9,39.1 L467.5,39.4 M508.4,64.6 L508.8,64.9 L509.5,65.5 L510.1,66.0 L510.8,66.6 L511.4,67.1 L512.1,67.7 L512.7,68.3 L513.3,68.8 L514.0,69.4 L514.6,70.0 L515.2,70.6 L515.9,71.1 L516.5,71.7 L517.1,72.3 L517.8,72.9 L518.4,73.5 L519.0,74.1 L519.6,74.6 L520.3,75.2 L520.9,75.8 L521.5,76.4 L522.1,77.0 L522.7,77.6 L523.4,78.2 L524.0,78.8 L524.6,79.4 L525.2,80.0 L525.8,80.7 L526.4,81.3 L527.0,81.9 L527.6,82.5 L528.2,83.1 L528.8,83.7 L529.4,84.3 L530.0,84.9 L530.6,85.6 L531.2,86.2 L531.8,86.8 L532.4,87.4 L533.0,88.0 L533.6,88.7 L534.2,89.3 L534.8,89.9 L535.4,90.5 L536.0,91.2 L536.6,91.8 L537.1,92.4 L537.7,93.0 L538.3,93.7 L538.9,94.3 L539.5,94.9 L540.0,95.5 L540.6,96.2 L541.2,96.8 L541.8,97.4 L542.4,98.1 L542.9,98.7 L543.5,99.3 L543.9,99.8 M576.5,136.7 L577.0,137.2 L577.5,137.8 L578.0,138.4 L578.6,139.0 L579.1,139.6 L579.7,140.2 L580.2,140.9 L580.7,141.5 L581.3,142.1 L581.8,142.7 L582.3,143.3 L582.9,143.9 L583.4,144.5 L583.9,145.2 L584.5,145.8 L585.0,146.4 L585.5,147.0 L586.1,147.6 L586.6,148.2 L587.1,148.8 L587.7,149.4 L588.2,150.1 L588.7,150.7 L589.3,151.3 L589.8,151.9 L590.3,152.5 L590.9,153.1 L591.4,153.7 L591.9,154.3 L592.5,154.9 L593.0,155.5 L593.6,156.2 L594.1,156.8 L594.6,157.4 L595.2,158.0 L595.7,158.6 L596.2,159.2 L596.8,159.8 L597.3,160.4 L597.9,161.0 L598.4,161.6 L598.9,162.2 L599.5,162.9 L600.0,163.5 L600.6,164.1 L601.1,164.7 L601.7,165.3 L602.2,165.9 L602.7,166.5 L603.3,167.1 L603.8,167.7 L604.4,168.3 L604.9,168.9 L605.5,169.5 L606.0,170.1 L606.6,170.7 L607.1,171.3 L607.6,172.0 L608.2,172.6 L608.7,173.2 L609.3,173.8 L609.6,174.1 M643.7,210.7 L643.8,210.9 L644.4,211.5 L644.9,212.1 L645.5,212.7 L646.1,213.3 L646.7,213.9 L647.2,214.4 L647.8,215.0 L648.4,215.6 L648.9,216.2 L649.5,216.8 L650.1,217.4 L650.6,218.0 L651.2,218.6 L651.8,219.2 L652.4,219.8 L652.9,220.3 L653.5,220.9 L654.1,221.5 L654.6,222.1 L655.2,222.7 L655.8,223.3 L656.4,223.9 L656.9,224.5 L657.5,225.0 L658.1,225.6 L658.7,226.2 L659.2,226.8 L659.8,227.4 L660.4,228.0 L661.0,228.6 L661.5,229.1 L662.1,229.7 L662.7,230.3 L663.3,230.9 L663.9,231.5 L664.4,232.1 L665.0,232.7 L665.6,233.2 L666.2,233.8 L666.7,234.4 L667.3,235.0 L667.9,235.6 L668.5,236.2 L669.1,236.7 L669.7,237.3 L670.2,237.9 L670.8,238.5 L671.4,239.1 L672.0,239.6 L672.6,240.2 L673.1,240.8 L673.7,241.4 L674.3,242.0 L674.9,242.5 L675.5,243.1 L676.1,243.7 L676.7,244.3 L677.2,244.9 L677.8,245.4 L678.4,246.0 L678.8,246.4 M714.9,280.9 L715.4,281.3 L716.0,281.9 L716.6,282.4 L717.2,283.0 L717.8,283.6 L718.4,284.1 L719.0,284.7 L719.6,285.2 L720.2,285.8 L720.8,286.4 L721.4,286.9 L722.0,287.5 L722.6,288.0 L723.3,288.6 L723.9,289.1 L724.5,289.7 L725.1,290.3 L725.7,290.8 L726.3,291.4 L726.9,291.9 L727.5,292.5 L728.1,293.0 L728.8,293.6 L729.4,294.1 L730.0,294.7 L730.6,295.2 L731.2,295.8 L731.8,296.3 L732.4,296.9 L733.0,297.4 L733.7,298.0 L734.3,298.6 L734.9,299.1 L735.5,299.7 L736.1,300.2 L736.7,300.8 L737.4,301.3 L738.0,301.9 L738.6,302.4 L739.2,302.9 L739.8,303.5 L740.4,304.0 L741.1,304.6 L741.7,305.1 L742.3,305.7 L742.9,306.2 L743.5,306.8 L744.2,307.3 L744.8,307.9 L745.4,308.4 L746.0,309.0 L746.6,309.5 L747.3,310.0 L747.9,310.6 L748.5,311.1 L749.1,311.7 L749.8,312.2 L750.4,312.8 L751.0,313.3 L751.6,313.8 L752.1,314.3 M790.5,346.4 L790.9,346.8 L791.5,347.3 L792.2,347.8 L792.8,348.3 L793.5,348.8 L794.1,349.3 L794.8,349.9 L795.4,350.4 L796.0,350.9 L796.7,351.4 L797.3,351.9 L798.0,352.4 L798.6,353.0 L799.3,353.5 L799.9,354.0 L800.6,354.5 L801.2,355.0 L801.9,355.5 L802.5,356.0 L803.2,356.5 L803.8,357.1 L804.5,357.6 L805.1,358.1 L805.8,358.6 L806.4,359.1 L807.1,359.6 L807.7,360.1 L808.4,360.6 L809.0,361.1 L809.7,361.6 L810.3,362.2 L811.0,362.7 L811.6,363.2 L812.3,363.7 L812.9,364.2 L813.6,364.7 L814.2,365.2 L814.9,365.7 L815.5,366.2 L816.2,366.7 L816.8,367.2 L817.5,367.7 L818.2,368.2 L818.8,368.7 L819.5,369.2 L820.1,369.7 L820.8,370.2 L821.4,370.7 L822.1,371.2 L822.8,371.7 L823.4,372.2 L824.1,372.7 L824.7,373.2 L825.4,373.7 L826.0,374.2 L826.7,374.7 L827.4,375.2 L828.0,375.7 L828.7,376.2 L829.3,376.7 L829.9,377.1 M870.5,406.3 L870.9,406.6 L871.5,407.1 L872.2,407.5 L872.9,408.0 L873.6,408.5 L874.3,408.9 L874.9,409.4 L875.6,409.9 L876.3,410.3 L877.0,410.8 L877.7,411.3 L878.3,411.7 L879.0,412.2 L879.7,412.6 L880.4,413.1 L881.1,413.6 L881.8,414.0 L882.4,414.5 L883.1,415.0 L883.8,415.4 L884.5,415.9 L885.2,416.3 L885.9,416.8 L886.6,417.2 L887.2,417.7 L887.9,418.2 L888.6,418.6 L889.3,419.1 L890.0,419.5 L890.7,420.0 L891.4,420.4 L892.0,420.9 L892.7,421.3 L893.4,421.8 L894.1,422.2 L894.8,422.7 L895.5,423.2 L896.2,423.6 L896.9,424.1 L897.6,424.5 L898.3,425.0 L898.9,425.4 L899.6,425.8 L900.3,426.3 L901.0,426.7 L901.7,427.2 L902.4,427.6 L903.1,428.1 L903.8,428.5 L904.5,429.0 L905.2,429.4 L905.9,429.9 L906.6,430.3 L907.3,430.8 L907.9,431.2 L908.6,431.6 L909.3,432.1 L910.0,432.5 L910.7,433.0 L911.4,433.4 L912.1,433.8 L912.2,433.9 M955.0,459.6 L955.1,459.7 L955.8,460.1 L956.6,460.5 L957.3,460.9 L958.0,461.3 L958.7,461.7 L959.4,462.1 L960.1,462.5 L960.8,462.9 L961.6,463.3 L962.3,463.7 L963.0,464.1 L963.7,464.5 L964.4,464.9 L965.1,465.3 L965.9,465.7 L966.6,466.1 L967.3,466.5 L968.0,466.9 L968.7,467.3 L969.5,467.7 L970.2,468.1 L970.9,468.5 L971.6,468.9 L972.3,469.3 L973.1,469.7 L973.8,470.1 L974.5,470.5 L975.2,470.9 L975.9,471.3 L976.7,471.7 L977.4,472.1 L978.1,472.4 L978.8,472.8 L979.6,473.2 L980.3,473.6 L981.0,474.0 L981.7,474.4 L982.5,474.8 L983.2,475.2 L983.9,475.5 L984.6,475.9 L985.4,476.3 L986.1,476.7 L986.8,477.1 L987.5,477.5 L988.3,477.8 L989.0,478.2 L989.7,478.6 L990.4,479.0 L991.2,479.4 L991.9,479.7 L992.6,480.1 L993.4,480.5 L994.1,480.9 L994.8,481.3 L995.5,481.6 L996.3,482.0 L997.0,482.4 L997.7,482.8 L998.5,483.1 L999.0,483.4 M1044.1,505.1 L1044.3,505.2 L1045.0,505.5 L1045.8,505.8 L1046.5,506.2 L1047.3,506.5 L1048.0,506.8 L1048.8,507.2 L1049.5,507.5 L1050.3,507.8 L1051.0,508.2 L1051.8,508.5 L1052.5,508.8 L1053.3,509.2 L1054.0,509.5 L1054.8,509.8 L1055.5,510.1 L1056.3,510.5 L1057.0,510.8 L1057.8,511.1 L1058.6,511.5 L1059.3,511.8 L1060.1,512.1 L1060.8,512.4 L1061.6,512.7 L1062.3,513.1 L1063.1,513.4 L1063.8,513.7 L1064.6,514.0 L1065.3,514.3 L1066.1,514.7 L1066.9,515.0 L1067.6,515.3 L1068.4,515.6 L1069.1,515.9 L1069.9,516.2 L1070.6,516.6 L1071.4,516.9 L1072.1,517.2 L1072.9,517.5 L1073.7,517.8 L1074.4,518.1 L1075.2,518.4 L1075.9,518.7 L1076.7,519.1 L1077.5,519.4 L1078.2,519.7 L1079.0,520.0 L1079.7,520.3 L1080.5,520.6 L1081.3,520.9 L1082.0,521.2 L1082.8,521.5 L1083.5,521.8 L1084.3,522.1 L1085.1,522.4 L1085.8,522.7 L1086.6,523.0 L1087.4,523.3 L1088.1,523.6 L1088.9,523.9 L1089.6,524.2 L1090.2,524.4 M1137.1,541.6 L1137.4,541.7 L1138.2,541.9 L1139.0,542.2 L1139.8,542.5 L1140.6,542.7 L1141.3,543.0 L1142.1,543.3 L1142.9,543.5 L1143.7,543.8 L1144.5,544.0 L1145.2,544.3 L1146.0,544.5 L1146.8,544.8 L1147.6,545.1 L1148.4,545.3 L1149.1,545.6 L1149.9,545.8 L1150.7,546.1 L1151.5,546.3 L1152.3,546.6 L1153.0,546.8 L1153.8,547.1 L1154.6,547.4 L1155.4,547.6 L1156.2,547.9 L1157.0,548.1 L1157.7,548.4 L1158.5,548.6 L1159.3,548.9 L1160.1,549.1 L1160.9,549.4 L1161.7,549.6 L1162.4,549.8 L1163.2,550.1 L1164.0,550.3 L1164.8,550.6 L1165.6,550.8 L1166.4,551.1 L1167.2,551.3 L1167.9,551.6 L1168.7,551.8 L1169.5,552.0 L1170.3,552.3 L1171.1,552.5 L1171.9,552.8 L1172.7,553.0 L1173.4,553.3 L1174.2,553.5 L1175.0,553.7 L1175.8,554.0 L1176.6,554.2 L1177.4,554.4 L1178.2,554.7 L1179.0,554.9 L1179.7,555.2 L1180.5,555.4 L1181.3,555.6 L1182.1,555.9 L1182.9,556.1 L1183.7,556.3 L1184.5,556.6 L1184.8,556.7 M1233.0,569.9 L1233.8,570.1 L1234.6,570.3 L1235.4,570.5 L1236.2,570.7 L1237.0,570.9 L1237.8,571.1 L1238.6,571.3 L1239.4,571.5 L1240.2,571.7 L1241.0,571.9 L1241.8,572.1 L1242.6,572.3 L1243.4,572.5 L1244.2,572.7 L1245.0,572.9 L1245.8,573.1 L1246.6,573.3 L1247.4,573.5 L1248.2,573.7 L1249.0,573.9 L1249.8,574.1 L1250.6,574.3 L1251.4,574.5 L1252.2,574.7 L1253.0,574.9 L1253.8,575.1 L1254.6,575.2 L1255.4,575.4 L1256.2,575.6 L1257.0,575.8 L1257.8,576.0 L1258.6,576.2 L1259.4,576.4 L1260.2,576.6 L1261.0,576.8 L1261.8,577.0 L1262.6,577.2 L1263.4,577.3 L1264.2,577.5 L1265.0,577.7 L1265.8,577.9 L1266.6,578.1 L1267.4,578.3 L1268.2,578.5 L1269.1,578.7 L1269.9,578.8 L1270.7,579.0 L1271.5,579.2 L1272.3,579.4 L1273.1,579.6 L1273.9,579.8 L1274.7,579.9 L1275.5,580.1 L1276.3,580.3 L1277.1,580.5 L1277.9,580.7 L1278.7,580.8 L1279.5,581.0 L1280.3,581.2 L1281.1,581.4 L1281.7,581.5 M1330.6,591.7 L1331.3,591.8 L1332.1,592.0 L1333.0,592.1 L1333.8,592.3 L1334.6,592.4 L1335.4,592.6 L1336.2,592.8 L1337.0,592.9 L1337.8,593.1 L1338.6,593.2 L1339.5,593.4 L1340.3,593.5 L1341.1,593.7 L1341.9,593.8 L1342.7,594.0 L1343.5,594.1 L1344.3,594.3 L1345.1,594.4 L1346.0,594.6 L1346.8,594.8 L1347.6,594.9 L1348.4,595.1 L1349.2,595.2 L1350.0,595.4 L1350.8,595.5 L1351.6,595.7 L1352.5,595.8 L1353.3,595.9 L1354.1,596.1 L1354.9,596.2 L1355.7,596.4 L1356.5,596.5 L1357.3,596.7 L1358.2,596.8 L1359.0,597.0 L1359.8,597.1 L1360.6,597.3 L1361.4,597.4 L1362.2,597.6 L1363.0,597.7 L1363.9,597.9 L1364.7,598.0 L1365.5,598.1 L1366.3,598.3 L1367.1,598.4 L1367.9,598.6 L1368.7,598.7 L1369.6,598.9 L1370.4,599.0 L1371.2,599.1 L1372.0,599.3 L1372.8,599.4 L1373.6,599.6 L1374.4,599.7 L1375.3,599.9 L1376.1,600.0 L1376.9,600.1 L1377.7,600.3 L1378.5,600.4 L1379.3,600.6 L1379.8,600.6 M1429.2,608.6 L1429.9,608.7 L1430.7,608.8 L1431.5,608.9 L1432.4,609.0 L1433.2,609.2 L1434.0,609.3 L1434.8,609.4 L1435.6,609.5 L1436.4,609.7 L1437.3,609.8 L1438.1,609.9 L1438.9,610.0 L1439.7,610.1 L1440.5,610.3 L1441.3,610.4 L1442.1,610.5 L1443.0,610.6 L1443.8,610.7 L1444.6,610.9 L1445.4,611.0 L1446.2,611.1 L1447.0,611.2 L1447.9,611.3 L1448.7,611.5 L1449.5,611.6 L1450.3,611.7 L1451.1,611.8 L1451.9,611.9 L1452.8,612.1 L1453.6,612.2 L1454.4,612.3 L1455.2,612.4 L1456.0,612.5 L1456.8,612.6 L1457.6,612.8 L1458.5,612.9 L1459.3,613.0 L1460.1,613.1 L1460.9,613.2 L1461.7,613.3 L1462.5,613.4 L1463.4,613.6 L1464.2,613.7 L1465.0,613.8 L1465.8,613.9 L1466.6,614.0 L1467.4,614.1 L1468.2,614.2 L1469.1,614.4 L1469.9,614.5 L1470.7,614.6 L1471.5,614.7 L1472.3,614.8 L1473.1,614.9 L1474.0,615.0 L1474.8,615.1 L1475.6,615.3 L1476.4,615.4 L1477.2,615.5 L1478.0,615.6 L1478.7,615.7 M1528.2,622.2 L1528.5,622.2 L1529.3,622.3 L1530.1,622.4 L1530.9,622.5 L1531.7,622.6 L1532.5,622.7 L1533.3,622.8 L1534.1,622.9 L1534.9,623.0 L1535.8,623.1 L1536.6,623.2 L1537.4,623.3 L1538.2,623.4 L1539.0,623.5 L1539.8,623.6 L1540.6,623.7 L1541.4,623.8 L1542.2,623.9 L1543.0,624.0 L1543.9,624.1 L1544.7,624.2 L1545.5,624.3 L1546.3,624.4 L1547.1,624.5 L1547.9,624.6 L1548.7,624.7 L1549.5,624.8 L1550.3,624.9 L1551.1,625.0 L1551.9,625.1 L1552.8,625.2 L1553.6,625.3 L1554.4,625.4 L1555.2,625.5 L1556.0,625.6 L1556.8,625.7 L1557.6,625.8 L1558.4,625.9 L1559.2,626.0 L1560.0,626.1 L1560.8,626.2 L1561.7,626.3 L1562.5,626.4 L1563.3,626.5 L1564.1,626.6 L1564.9,626.7 L1565.7,626.8 L1566.5,626.9 L1567.3,627.0 L1568.1,627.1 L1568.9,627.2 L1569.7,627.3 L1570.5,627.4 L1571.3,627.5 L1572.1,627.6 L1573.0,627.7 L1573.8,627.8 L1574.6,627.9 L1575.4,628.0 L1576.2,628.1 L1577.0,628.2 L1577.8,628.3 L1577.9,628.3" stroke="#00ff00"/>
<path d="M225.0,1017.0 L225.0,1016.7 L225.1,1015.9 L225.1,1015.0 L225.2,1014.2 L225.3,1013.4 L225.3,1012.6 L225.4,1011.8 L225.5,1011.0 L225.6,1010.1 L225.6,1009.3 L225.7,1008.5 L225.8,1007.7 L225.8,1006.9 L225.9,1006.1 L226.0,1005.2 L226.0,1004.4 L226.1,1003.6 L226.2,1002.8 L226.2,1002.0 L226.3,1001.2 L226.4,1000.3 L226.5,999.5 L226.5,998.7 L226.6,997.9 L226.7,997.1 L226.7,996.3 L226.8,995.4 L226.9,994.6 L226.9,993.8 L227.0,993.0 L227.1,992.2 L227.1,991.4 L227.2,990.5 L227.3,989.7 L227.4,988.9 L227.4,988.1 L227.5,987.3 L227.6,986.5 L227.6,985.6 L227.7,984.8 L227.8,984.0 L227.8,983.2 L227.9,982.4 L228.0,981.6 L228.1,980.7 L228.1,979.9 L228.2,979.1 L228.3,978.3 L228.3,977.5 L228.4,976.7 L228.5,975.9 L228.6,975.0 L228.6,974.2 L228.7,973.4 L228.8,972.6 L228.8,971.8 L228.9,971.0 L229.0,970.1 L229.1,969.3 L229.1,968.5 L229.2,967.7 L229.2,967.2 M233.7,917.4 L233.7,917.1 L233.8,916.3 L233.9,915.5 L234.0,914.7 L234.0,913.9 L234.1,913.1 L234.2,912.2 L234.3,911.4 L234.3,910.6 L234.4,909.8 L234.5,909.0 L234.6,908.2 L234.6,907.4 L234.7,906.5 L234.8,905.7 L234.9,904.9 L234.9,904.1 L235.0,903.3 L235.1,902.5 L235.2,901.6 L235.2,900.8 L235.3,900.0 L235.4,899.2 L235.5,898.4 L235.6,897.6 L235.6,896.8 L235.7,895.9 L235.8,895.1 L235.9,894.3 L235.9,893.5 L236.0,892.7 L236.1,891.9 L236.2,891.1 L236.2,890.2 L236.3,889.4 L236.4,888.6 L236.5,887.8 L236.6,887.0 L236.6,886.2 L236.7,885.4 L236.8,884.5 L236.9,883.7 L236.9,882.9 L237.0,882.1 L237.1,881.3 L237.2,880.5 L237.3,879.7 L237.3,878.8 L237.4,878.0 L237.5,877.2 L237.6,876.4 L237.6,875.6 L237.7,874.8 L237.8,873.9 L237.9,873.1 L238.0,872.3 L238.0,871.5 L238.1,870.7 L238.2,869.9 L238.3,869.1 L238.3,868.2 L238.4,867.6 M243.3,817.8 L243.4,817.8 L243.4,817.0 L243.5,816.1 L243.6,815.3 L243.7,814.5 L243.8,813.7 L243.8,812.9 L243.9,812.1 L244.0,811.3 L244.1,810.4 L244.2,809.6 L244.3,808.8 L244.3,808.0 L244.4,807.2 L244.5,806.4 L244.6,805.6 L244.7,804.7 L244.8,803.9 L244.9,803.1 L244.9,802.3 L245.0,801.5 L245.1,800.7 L245.2,799.9 L245.3,799.0 L245.4,798.2 L245.4,797.4 L245.5,796.6 L245.6,795.8 L245.7,795.0 L245.8,794.2 L245.9,793.4 L246.0,792.5 L246.0,791.7 L246.1,790.9 L246.2,790.1 L246.3,789.3 L246.4,788.5 L246.5,787.7 L246.5,786.8 L246.6,786.0 L246.7,785.2 L246.8,784.4 L246.9,783.6 L247.0,782.8 L247.1,782.0 L247.1,781.1 L247.2,780.3 L247.3,779.5 L247.4,778.7 L247.5,777.9 L247.6,777.1 L247.7,776.3 L247.7,775.5 L247.8,774.6 L247.9,773.8 L248.0,773.0 L248.1,772.2 L248.2,771.4 L248.3,770.6 L248.4,769.8 L248.4,768.9 L248.5,768.1 L248.5,768.1 M254.0,718.4 L254.1,717.7 L254.2,716.9 L254.3,716.1 L254.3,715.3 L254.4,714.5 L254.5,713.6 L254.6,712.8 L254.7,712.0 L254.8,711.2 L254.9,710.4 L255.0,709.6 L255.1,708.8 L255.2,707.9 L255.3,707.1 L255.4,706.3 L255.5,705.5 L255.5,704.7 L255.6,703.9 L255.7,703.1 L255.8,702.3 L255.9,701.4 L256.0,700.6 L256.1,699.8 L256.2,699.0 L256.3,698.2 L256.4,697.4 L256.5,696.6 L256.6,695.8 L256.7,694.9 L256.8,694.1 L256.9,693.3 L257.0,692.5 L257.0,691.7 L257.1,690.9 L257.2,690.1 L257.3,689.2 L257.4,688.4 L257.5,687.6 L257.6,686.8 L257.7,686.0 L257.8,685.2 L257.9,684.4 L258.0,683.6 L258.1,682.7 L258.2,681.9 L258.3,681.1 L258.4,680.3 L258.5,679.5 L258.6,678.7 L258.7,677.9 L258.8,677.1 L258.8,676.2 L258.9,675.4 L259.0,674.6 L259.1,673.8 L259.2,673.0 L259.3,672.2 L259.4,671.4 L259.5,670.6 L259.6,669.7 L259.7,668.9 L259.7,668.7 M265.8,619.1 L265.9,618.5 L266.0,617.7 L266.1,616.9 L266.2,616.1 L266.3,615.3 L266.4,614.5 L266.5,613.7 L266.6,612.8 L266.7,612.0 L266.8,611.2 L266.9,610.4 L267.0,609.6 L267.1,608.8 L267.2,608.0 L267.3,607.2 L267.4,606.3 L267.5,605.5 L267.6,604.7 L267.7,603.9 L267.8,603.1 L267.9,602.3 L268.0,601.5 L268.1,600.7 L268.2,599.8 L268.3,599.0 L268.4,598.2 L268.5,597.4 L268.6,596.6 L268.7,595.8 L268.8,595.0 L268.9,594.2 L269.0,593.3 L269.1,592.5 L269.3,591.7 L269.4,590.9 L269.5,590.1 L269.6,589.3 L269.7,588.5 L269.8,587.6 L269.9,586.8 L270.0,586.0 L270.1,585.2 L270.2,584.4 L270.3,583.6 L270.4,582.8 L270.5,582.0 L270.6,581.1 L270.7,580.3 L270.8,579.5 L270.9,578.7 L271.0,577.9 L271.1,577.1 L271.3,576.3 L271.4,575.5 L271.5,574.6 L271.6,573.8 L271.7,573.0 L271.8,572.2 L271.9,571.4 L272.0,570.6 L272.1,569.8 L272.1,569.5 M278.8,520.0 L278.9,519.4 L279.0,518.6 L279.1,517.8 L279.2,516.9 L279.4,516.1 L279.5,515.3 L279.6,514.5 L279.7,513.7 L279.8,512.9 L279.9,512.1 L280.0,511.3 L280.2,510.4 L280.3,509.6 L280.4,508.8 L280.5,508.0 L280.6,507.2 L280.7,506.4 L280.8,505.6 L281.0,504.8 L281.1,503.9 L281.2,503.1 L281.3,502.3 L281.4,501.5 L281.5,500.7 L281.6,499.9 L281.8,499.1 L281.9,498.3 L282.0,497.4 L282.1,496.6 L282.2,495.8 L282.3,495.0 L282.5,494.2 L282.6,493.4 L282.7,492.6 L282.8,491.8 L282.9,490.9 L283.0,490.1 L283.2,489.3 L283.3,488.5 L283.4,487.7 L283.5,486.9 L283.6,486.1 L283.7,485.3 L283.9,484.5 L284.0,483.6 L284.1,482.8 L284.2,482.0 L284.3,481.2 L284.4,480.4 L284.6,479.6 L284.7,478.8 L284.8,478.0 L284.9,477.1 L285.0,476.3 L285.2,475.5 L285.3,474.7 L285.4,473.9 L285.5,473.1 L285.6,472.3 L285.8,471.5 L285.9,470.6 L285.9,470.5 M293.5,421.1 L293.6,420.4 L293.7,419.6 L293.8,418.8 L294.0,418.0 L294.1,417.2 L294.2,416.3 L294.4,415.5 L294.5,414.7 L294.6,413.9 L294.8,413.1 L294.9,412.3 L295.0,411.5 L295.1,410.7 L295.3,409.9 L295.4,409.1 L295.5,408.3 L295.7,407.4 L295.8,406.6 L295.9,405.8 L296.1,405.0 L296.2,404.2 L296.3,403.4 L296.5,402.6 L296.6,401.8 L296.7,401.0 L296.9,400.2 L297.0,399.4 L297.1,398.6 L297.3,397.7 L297.4,396.9 L297.5,396.1 L297.7,395.3 L297.8,394.5 L297.9,393.7 L298.1,392.9 L298.2,392.1 L298.3,391.3 L298.5,390.5 L298.6,389.7 L298.7,388.9 L298.9,388.0 L299.0,387.2 L299.2,386.4 L299.3,385.6 L299.4,384.8 L299.6,384.0 L299.7,383.2 L299.8,382.4 L300.0,381.6 L300.1,380.8 L300.3,380.0 L300.4,379.2 L300.5,378.4 L300.7,377.6 L300.8,376.8 L300.9,375.9 L301.1,375.1 L301.2,374.3 L301.4,373.5 L301.5,372.7 L301.6,371.9 L301.7,371.7 M310.6,322.5 L310.7,322.1 L310.9,321.3 L311.0,320.5 L311.2,319.7 L311.3,318.9 L311.5,318.1 L311.6,317.3 L311.8,316.5 L312.0,315.7 L312.1,314.9 L312.3,314.1 L312.4,313.3 L312.6,312.5 L312.7,311.7 L312.9,310.9 L313.0,310.1 L313.2,309.3 L313.4,308.5 L313.5,307.7 L313.7,306.9 L313.8,306.1 L314.0,305.3 L314.1,304.5 L314.3,303.7 L314.5,302.9 L314.6,302.1 L314.8,301.3 L314.9,300.5 L315.1,299.7 L315.3,298.9 L315.4,298.1 L315.6,297.3 L315.7,296.5 L315.9,295.7 L316.1,294.9 L316.2,294.1 L316.4,293.3 L316.5,292.5 L316.7,291.7 L316.9,290.9 L317.0,290.1 L317.2,289.3 L317.4,288.5 L317.5,287.7 L317.7,286.9 L317.8,286.1 L318.0,285.3 L318.2,284.5 L318.3,283.7 L318.5,282.9 L318.7,282.1 L318.8,281.3 L319.0,280.5 L319.2,279.7 L319.3,278.9 L319.5,278.1 L319.7,277.3 L319.8,276.5 L320.0,275.7 L320.2,275.0 L320.3,274.2 L320.5,273.5 M331.4,224.7 L331.5,224.2 L331.7,223.5 L331.9,222.7 L332.1,221.9 L332.3,221.1 L332.4,220.3 L332.6,219.5 L332.8,218.7 L333.0,217.9 L333.2,217.2 L333.4,216.4 L333.6,215.6 L333.8,214.8 L334.0,214.0 L334.2,213.2 L334.4,212.4 L334.6,211.6 L334.8,210.9 L335.0,210.1 L335.2,209.3 L335.4,208.5 L335.6,207.7 L335.8,206.9 L336.0,206.1 L336.2,205.4 L336.4,204.6 L336.7,203.8 L336.9,203.0 L337.1,202.2 L337.3,201.4 L337.5,200.6 L337.7,199.9 L337.9,199.1 L338.1,198.3 L338.3,197.5 L338.6,196.7 L338.8,195.9 L339.0,195.2 L339.2,194.4 L339.4,193.6 L339.6,192.8 L339.9,192.0 L340.1,191.2 L340.3,190.5 L340.5,189.7 L340.8,188.9 L341.0,188.1 L341.2,187.3 L341.4,186.5 L341.7,185.8 L341.9,185.0 L342.1,184.2 L342.4,183.4 L342.6,182.6 L342.8,181.8 L343.1,181.1 L343.3,180.3 L343.5,179.5 L343.8,178.7 L344.0,177.9 L344.3,177.2 L344.5,176.5 M361.5,129.5 L361.8,129.0 L362.1,128.2 L362.4,127.4 L362.8,126.7 L363.1,125.9 L363.4,125.1 L363.8,124.4 L364.1,123.6 L364.4,122.8 L364.8,122.0 L365.1,121.3 L365.5,120.5 L365.8,119.7 L366.2,119.0 L366.5,118.2 L366.9,117.4 L367.2,116.7 L367.6,115.9 L368.0,115.1 L368.3,114.3 L368.7,113.6 L369.1,112.8 L369.4,112.0 L369.8,111.3 L370.2,110.5 L370.5,109.7 L370.9,109.0 L371.3,108.2 L371.7,107.4 L372.1,106.6 L372.4,105.9 L372.8,105.1 L373.2,104.3 L373.6,103.6 L374.0,102.8 L374.4,102.0 L374.8,101.3 L375.2,100.5 L375.6,99.8 L376.0,99.0 L376.4,98.2 L376.8,97.5 L377.2,96.7 L377.6,95.9 L378.0,95.2 L378.4,94.4 L378.9,93.7 L379.3,92.9 L379.7,92.2 L380.1,91.4 L380.5,90.7 L381.0,89.9 L381.4,89.2 L381.8,88.5 L382.3,87.7 L382.7,87.0 L383.2,86.2 L383.6,85.5 L384.0,84.9 M417.1,47.9 L417.2,47.8 L417.8,47.4 L418.5,47.0 L419.1,46.6 L419.8,46.2 L420.4,45.9 L421.1,45.5 L421.7,45.1 L422.4,44.8 L423.0,44.4 L423.7,44.1 L424.4,43.8 L425.1,43.5 L425.7,43.1 L426.4,42.8 L427.1,42.5 L427.8,42.3 L428.5,42.0 L429.2,41.7 L429.9,41.5 L430.6,41.2 L431.3,41.0 L432.0,40.7 L432.7,40.5 L433.5,40.3 L434.2,40.1 L434.9,39.9 L435.7,39.7 L436.4,39.6 L437.1,39.4 L437.9,39.2 L438.6,39.1 L439.4,39.0 L440.1,38.8 L440.9,38.7 L441.6,38.6 L442.4,38.5 L443.2,38.4 L443.9,38.3 L444.7,38.3 L445.5,38.2 L446.3,38.1 L447.0,38.1 L447.8,38.1 L448.6,38.0 L449.4,38.0 L450.1,38.0 L450.9,38.0 L451.7,38.0 L452.5,38.0 L453.3,38.0 L454.1,38.1 L454.8,38.1 L455.6,38.2 L456.4,38.2 L457.2,38.3 L458.0,38.4 L458.8,38.4 L459.6,38.5 L460.3,38.6 L461.1,38.7 L461.9,38.8 L462.7,39.0 L463.5,39.1 L464.3,39.2 L465.0,39.4 M508.7,59.4 L509.2,59.8 L509.9,60.3 L510.6,60.8 L511.3,61.3 L512.0,61.8 L512.7,62.3 L513.4,62.8 L514.1,63.3 L514.7,63.8 L515.4,64.3 L516.1,64.9 L516.8,65.4 L517.4,65.9 L518.1,66.4 L518.8,67.0 L519.5,67.5 L520.1,68.1 L520.8,68.6 L521.5,69.2 L522.1,69.7 L522.8,70.3 L523.5,70.8 L524.1,71.4 L524.8,71.9 L525.4,72.5 L526.1,73.0 L526.7,73.6 L527.4,74.2 L528.1,74.7 L528.7,75.3 L529.4,75.9 L530.0,76.5 L530.6,77.0 L531.3,77.6 L531.9,78.2 L532.6,78.8 L533.2,79.3 L533.9,79.9 L534.5,80.5 L535.1,81.1 L535.8,81.7 L536.4,82.3 L537.0,82.9 L537.7,83.4 L538.3,84.0 L538.9,84.6 L539.5,85.2 L540.2,85.8 L540.8,86.4 L541.4,87.0 L542.0,87.6 L542.7,88.2 L543.3,88.8 L543.9,89.4 L544.5,89.9 L545.1,90.5 L545.7,91.1 L546.3,91.7 L546.6,92.0 M580.8,127.1 L581.0,127.3 L581.5,127.9 L582.1,128.5 L582.7,129.1 L583.2,129.7 L583.8,130.3 L584.3,130.9 L584.9,131.5 L585.4,132.1 L586.0,132.7 L586.5,133.3 L587.1,133.9 L587.6,134.5 L588.2,135.1 L588.7,135.7 L589.3,136.2 L589.8,136.8 L590.4,137.4 L590.9,138.0 L591.5,138.6 L592.0,139.2 L592.6,139.8 L593.1,140.4 L593.7,141.0 L594.2,141.6 L594.8,142.2 L595.3,142.8 L595.9,143.4 L596.4,144.0 L597.0,144.6 L597.5,145.1 L598.1,145.7 L598.6,146.3 L599.2,146.9 L599.7,147.5 L600.3,148.1 L600.8,148.7 L601.4,149.3 L601.9,149.9 L602.5,150.5 L603.1,151.1 L603.6,151.7 L604.2,152.3 L604.7,152.9 L605.3,153.5 L605.8,154.0 L606.4,154.6 L606.9,155.2 L607.5,155.8 L608.0,156.4 L608.6,157.0 L609.1,157.6 L609.7,158.2 L610.2,158.8 L610.8,159.4 L611.3,160.0 L611.9,160.6 L612.5,161.2 L613.0,161.7 L613.6,162.3 L614.1,162.9 L614.7,163.5 L614.9,163.7 M649.3,200.0 L649.5,200.1 L650.0,200.7 L650.6,201.3 L651.2,201.8 L651.7,202.4 L652.3,203.0 L652.9,203.6 L653.4,204.2 L654.0,204.8 L654.6,205.4 L655.1,205.9 L655.7,206.5 L656.3,207.1 L656.8,207.7 L657.4,208.3 L658.0,208.9 L658.5,209.4 L659.1,210.0 L659.7,210.6 L660.3,211.2 L660.8,211.8 L661.4,212.4 L662.0,212.9 L662.5,213.5 L663.1,214.1 L663.7,214.7 L664.3,215.3 L664.8,215.9 L665.4,216.4 L666.0,217.0 L666.6,217.6 L667.1,218.2 L667.7,218.8 L668.3,219.4 L668.8,219.9 L669.4,220.5 L670.0,221.1 L670.6,221.7 L671.1,222.3 L671.7,222.8 L672.3,223.4 L672.9,224.0 L673.5,224.6 L674.0,225.2 L674.6,225.7 L675.2,226.3 L675.8,226.9 L676.3,227.5 L676.9,228.1 L677.5,228.6 L678.1,229.2 L678.6,229.8 L679.2,230.4 L679.8,230.9 L680.4,231.5 L681.0,232.1 L681.5,232.7 L682.1,233.3 L682.7,233.8 L683.3,234.4 L683.9,235.0 L684.4,235.6 M720.3,270.3 L720.9,270.9 L721.5,271.4 L722.1,272.0 L722.7,272.6 L723.3,273.1 L723.9,273.7 L724.5,274.2 L725.1,274.8 L725.7,275.4 L726.3,275.9 L726.9,276.5 L727.5,277.0 L728.1,277.6 L728.7,278.2 L729.3,278.7 L729.9,279.3 L730.5,279.8 L731.1,280.4 L731.7,280.9 L732.3,281.5 L732.9,282.1 L733.5,282.6 L734.1,283.2 L734.7,283.7 L735.3,284.3 L735.9,284.8 L736.5,285.4 L737.1,285.9 L737.7,286.5 L738.3,287.0 L738.9,287.6 L739.5,288.2 L740.1,288.7 L740.7,289.3 L741.3,289.8 L741.9,290.4 L742.6,290.9 L743.2,291.5 L743.8,292.0 L744.4,292.6 L745.0,293.1 L745.6,293.7 L746.2,294.2 L746.8,294.8 L747.4,295.3 L748.0,295.9 L748.6,296.4 L749.2,297.0 L749.9,297.5 L750.5,298.1 L751.1,298.6 L751.7,299.2 L752.3,299.7 L752.9,300.2 L753.5,300.8 L754.1,301.3 L754.7,301.9 L755.4,302.4 L756.0,303.0 L756.6,303.5 L757.2,304.1 L757.2,304.1 M795.2,336.6 L795.8,337.1 L796.5,337.6 L797.1,338.1 L797.7,338.6 L798.4,339.1 L799.0,339.7 L799.7,340.2 L800.3,340.7 L800.9,341.2 L801.6,341.7 L802.2,342.2 L802.8,342.8 L803.5,343.3 L804.1,343.8 L804.7,344.3 L805.4,344.8 L806.0,345.3 L806.7,345.9 L807.3,346.4 L807.9,346.9 L808.6,347.4 L809.2,347.9 L809.9,348.4 L810.5,348.9 L811.2,349.4 L811.8,349.9 L812.4,350.5 L813.1,351.0 L813.7,351.5 L814.4,352.0 L815.0,352.5 L815.7,353.0 L816.3,353.5 L816.9,354.0 L817.6,354.5 L818.2,355.0 L818.9,355.5 L819.5,356.0 L820.2,356.5 L820.8,357.0 L821.5,357.5 L822.1,358.0 L822.8,358.6 L823.4,359.1 L824.1,359.6 L824.7,360.1 L825.4,360.6 L826.0,361.1 L826.7,361.6 L827.3,362.1 L828.0,362.6 L828.6,363.1 L829.3,363.6 L829.9,364.1 L830.6,364.5 L831.2,365.0 L831.9,365.5 L832.5,366.0 L833.2,366.5 L833.8,367.0 L834.5,367.5 L834.5,367.5 M875.0,396.8 L875.7,397.3 L876.4,397.8 L877.0,398.2 L877.7,398.7 L878.4,399.2 L879.1,399.6 L879.7,400.1 L880.4,400.6 L881.1,401.0 L881.8,401.5 L882.4,401.9 L883.1,402.4 L883.8,402.9 L884.5,403.3 L885.2,403.8 L885.8,404.2 L886.5,404.7 L887.2,405.2 L887.9,405.6 L888.6,406.1 L889.2,406.5 L889.9,407.0 L890.6,407.4 L891.3,407.9 L892.0,408.4 L892.6,408.8 L893.3,409.3 L894.0,409.7 L894.7,410.2 L895.4,410.6 L896.1,411.1 L896.7,411.5 L897.4,412.0 L898.1,412.4 L898.8,412.9 L899.5,413.3 L900.2,413.8 L900.9,414.2 L901.5,414.7 L902.2,415.1 L902.9,415.6 L903.6,416.0 L904.3,416.5 L905.0,416.9 L905.7,417.4 L906.4,417.8 L907.0,418.2 L907.7,418.7 L908.4,419.1 L909.1,419.6 L909.8,420.0 L910.5,420.5 L911.2,420.9 L911.9,421.3 L912.6,421.8 L913.3,422.2 L913.9,422.7 L914.6,423.1 L915.3,423.5 L916.0,424.0 L916.7,424.4 M959.6,450.2 L960.2,450.6 L961.0,451.0 L961.7,451.4 L962.4,451.8 L963.1,452.2 L963.8,452.6 L964.5,453.0 L965.2,453.4 L965.9,453.8 L966.7,454.2 L967.4,454.6 L968.1,455.0 L968.8,455.4 L969.5,455.8 L970.2,456.2 L970.9,456.6 L971.7,457.0 L972.4,457.4 L973.1,457.8 L973.8,458.2 L974.5,458.6 L975.2,459.0 L976.0,459.4 L976.7,459.8 L977.4,460.2 L978.1,460.6 L978.8,461.0 L979.5,461.4 L980.3,461.8 L981.0,462.2 L981.7,462.6 L982.4,462.9 L983.1,463.3 L983.9,463.7 L984.6,464.1 L985.3,464.5 L986.0,464.9 L986.7,465.3 L987.5,465.7 L988.2,466.1 L988.9,466.4 L989.6,466.8 L990.4,467.2 L991.1,467.6 L991.8,468.0 L992.5,468.4 L993.2,468.7 L994.0,469.1 L994.7,469.5 L995.4,469.9 L996.1,470.3 L996.9,470.7 L997.6,471.0 L998.3,471.4 L999.0,471.8 L999.8,472.2 L1000.5,472.5 L1001.2,472.9 L1001.9,473.3 L1002.7,473.7 L1003.4,474.1 L1003.5,474.1 M1048.4,496.0 L1049.0,496.3 L1049.7,496.6 L1050.4,497.0 L1051.2,497.3 L1051.9,497.7 L1052.7,498.0 L1053.4,498.3 L1054.2,498.7 L1054.9,499.0 L1055.7,499.4 L1056.4,499.7 L1057.1,500.0 L1057.9,500.4 L1058.6,500.7 L1059.4,501.0 L1060.1,501.4 L1060.9,501.7 L1061.6,502.0 L1062.4,502.4 L1063.1,502.7 L1063.9,503.0 L1064.6,503.4 L1065.4,503.7 L1066.1,504.0 L1066.8,504.3 L1067.6,504.7 L1068.3,505.0 L1069.1,505.3 L1069.8,505.7 L1070.6,506.0 L1071.3,506.3 L1072.1,506.6 L1072.8,507.0 L1073.6,507.3 L1074.3,507.6 L1075.1,507.9 L1075.8,508.3 L1076.6,508.6 L1077.3,508.9 L1078.1,509.2 L1078.8,509.5 L1079.6,509.9 L1080.4,510.2 L1081.1,510.5 L1081.9,510.8 L1082.6,511.1 L1083.4,511.4 L1084.1,511.8 L1084.9,512.1 L1085.6,512.4 L1086.4,512.7 L1087.1,513.0 L1087.9,513.3 L1088.6,513.7 L1089.4,514.0 L1090.2,514.3 L1090.9,514.6 L1091.7,514.9 L1092.4,515.2 L1093.2,515.5 L1093.9,515.8 L1094.2,516.0 M1140.9,533.9 L1141.2,534.0 L1142.0,534.3 L1142.7,534.6 L1143.5,534.8 L1144.3,535.1 L1145.1,535.4 L1145.8,535.7 L1146.6,535.9 L1147.4,536.2 L1148.1,536.5 L1148.9,536.8 L1149.7,537.0 L1150.4,537.3 L1151.2,537.6 L1152.0,537.8 L1152.8,538.1 L1153.5,538.4 L1154.3,538.7 L1155.1,538.9 L1155.8,539.2 L1156.6,539.5 L1157.4,539.7 L1158.2,540.0 L1158.9,540.3 L1159.7,540.5 L1160.5,540.8 L1161.3,541.1 L1162.0,541.3 L1162.8,541.6 L1163.6,541.9 L1164.4,542.1 L1165.1,542.4 L1165.9,542.6 L1166.7,542.9 L1167.5,543.2 L1168.2,543.4 L1169.0,543.7 L1169.8,543.9 L1170.6,544.2 L1171.3,544.5 L1172.1,544.7 L1172.9,545.0 L1173.7,545.2 L1174.4,545.5 L1175.2,545.8 L1176.0,546.0 L1176.8,546.3 L1177.5,546.5 L1178.3,546.8 L1179.1,547.0 L1179.9,547.3 L1180.6,547.5 L1181.4,547.8 L1182.2,548.0 L1183.0,548.3 L1183.8,548.5 L1184.5,548.8 L1185.3,549.0 L1186.1,549.3 L1186.9,549.5 L1187.7,549.8 L1188.3,550.0 M1236.1,564.3 L1236.3,564.4 L1237.1,564.6 L1237.8,564.8 L1238.6,565.0 L1239.4,565.3 L1240.2,565.5 L1241.0,565.7 L1241.8,565.9 L1242.6,566.1 L1243.4,566.4 L1244.2,566.6 L1244.9,566.8 L1245.7,567.0 L1246.5,567.2 L1247.3,567.4 L1248.1,567.7 L1248.9,567.9 L1249.7,568.1 L1250.5,568.3 L1251.3,568.5 L1252.1,568.7 L1252.8,568.9 L1253.6,569.2 L1254.4,569.4 L1255.2,569.6 L1256.0,569.8 L1256.8,570.0 L1257.6,570.2 L1258.4,570.4 L1259.2,570.6 L1260.0,570.8 L1260.8,571.0 L1261.6,571.3 L1262.4,571.5 L1263.1,571.7 L1263.9,571.9 L1264.7,572.1 L1265.5,572.3 L1266.3,572.5 L1267.1,572.7 L1267.9,572.9 L1268.7,573.1 L1269.5,573.3 L1270.3,573.5 L1271.1,573.7 L1271.9,573.9 L1272.7,574.1 L1273.5,574.3 L1274.3,574.5 L1275.1,574.7 L1275.8,574.9 L1276.6,575.1 L1277.4,575.3 L1278.2,575.5 L1279.0,575.7 L1279.8,575.9 L1280.6,576.1 L1281.4,576.3 L1282.2,576.5 L1283.0,576.7 L1283.8,576.9 L1284.5,577.1 M1333.2,588.4 L1333.3,588.5 L1334.1,588.6 L1334.9,588.8 L1335.7,589.0 L1336.5,589.2 L1337.3,589.3 L1338.1,589.5 L1338.9,589.7 L1339.7,589.9 L1340.6,590.0 L1341.4,590.2 L1342.2,590.4 L1343.0,590.5 L1343.8,590.7 L1344.6,590.9 L1345.4,591.1 L1346.2,591.2 L1347.0,591.4 L1347.8,591.6 L1348.6,591.7 L1349.4,591.9 L1350.2,592.1 L1351.0,592.2 L1351.8,592.4 L1352.6,592.6 L1353.4,592.7 L1354.2,592.9 L1355.0,593.1 L1355.8,593.2 L1356.6,593.4 L1357.4,593.6 L1358.2,593.7 L1359.0,593.9 L1359.8,594.1 L1360.6,594.2 L1361.4,594.4 L1362.2,594.5 L1363.0,594.7 L1363.9,594.9 L1364.7,595.0 L1365.5,595.2 L1366.3,595.4 L1367.1,595.5 L1367.9,595.7 L1368.7,595.8 L1369.5,596.0 L1370.3,596.2 L1371.1,596.3 L1371.9,596.5 L1372.7,596.6 L1373.5,596.8 L1374.3,596.9 L1375.1,597.1 L1375.9,597.3 L1376.7,597.4 L1377.5,597.6 L1378.3,597.7 L1379.2,597.9 L1380.0,598.0 L1380.8,598.2 L1381.6,598.4 L1382.2,598.5 M1431.4,607.3 L1431.6,607.4 L1432.4,607.5 L1433.2,607.7 L1434.1,607.8 L1434.9,607.9 L1435.7,608.1 L1436.5,608.2 L1437.3,608.3 L1438.1,608.5 L1438.9,608.6 L1439.7,608.7 L1440.5,608.9 L1441.3,609.0 L1442.1,609.1 L1443.0,609.3 L1443.8,609.4 L1444.6,609.5 L1445.4,609.7 L1446.2,609.8 L1447.0,609.9 L1447.8,610.1 L1448.6,610.2 L1449.4,610.3 L1450.2,610.4 L1451.0,610.6 L1451.9,610.7 L1452.7,610.8 L1453.5,611.0 L1454.3,611.1 L1455.1,611.2 L1455.9,611.4 L1456.7,611.5 L1457.5,611.6 L1458.3,611.7 L1459.1,611.9 L1459.9,612.0 L1460.8,612.1 L1461.6,612.2 L1462.4,612.4 L1463.2,612.5 L1464.0,612.6 L1464.8,612.8 L1465.6,612.9 L1466.4,613.0 L1467.2,613.1 L1468.0,613.3 L1468.9,613.4 L1469.7,613.5 L1470.5,613.6 L1471.3,613.8 L1472.1,613.9 L1472.9,614.0 L1473.7,614.1 L1474.5,614.2 L1475.3,614.4 L1476.1,614.5 L1476.9,614.6 L1477.8,614.7 L1478.6,614.9 L1479.4,615.0 L1480.2,615.1 L1480.7,615.2 M1530.3,622.2 L1530.4,622.2 L1531.2,622.3 L1532.0,622.4 L1532.8,622.5 L1533.6,622.6 L1534.4,622.7 L1535.2,622.8 L1536.0,622.9 L1536.8,623.0 L1537.7,623.1 L1538.5,623.2 L1539.3,623.3 L1540.1,623.4 L1540.9,623.6 L1541.7,623.7 L1542.5,623.8 L1543.3,623.9 L1544.1,624.0 L1544.9,624.1 L1545.7,624.2 L1546.5,624.3 L1547.4,624.4 L1548.2,624.5 L1549.0,624.6 L1549.8,624.7 L1550.6,624.8 L1551.4,624.9 L1552.2,625.0 L1553.0,625.1 L1553.8,625.2 L1554.6,625.3 L1555.4,625.4 L1556.2,625.5 L1557.1,625.6 L1557.9,625.7 L1558.7,625.8 L1559.5,625.9 L1560.3,626.0 L1561.1,626.1 L1561.9,626.2 L1562.7,626.3 L1563.5,626.4 L1564.3,626.5 L1565.1,626.6 L1565.9,626.7 L1566.7,626.8 L1567.6,626.9 L1568.4,627.0 L1569.2,627.1 L1570.0,627.2 L1570.8,627.3 L1571.6,627.4 L1572.4,627.5 L1573.2,627.6 L1574.0,627.7 L1574.8,627.8 L1575.6,627.9 L1576.4,628.0 L1577.2,628.1 L1578.1,628.2 L1578.9,628.3 L1579.7,628.4 L1579.9,628.4" stroke="#00ff00"/>
<path d="M225.1,1030.0 L225.1,1029.3 L225.2,1028.5 L225.3,1027.7 L225.3,1026.9 L225.4,1026.1 L225.5,1025.3 L225.5,1024.4 L225.6,1023.6 L225.7,1022.8 L225.7,1022.0 L225.8,1021.2 L225.9,1020.4 L225.9,1019.6 L226.0,1018.7 L226.1,1017.9 L226.1,1017.1 L226.2,1016.3 L226.3,1015.5 L226.4,1014.7 L226.4,1013.9 L226.5,1013.0 L226.6,1012.2 L226.6,1011.4 L226.7,1010.6 L226.8,1009.8 L226.8,1009.0 L226.9,1008.2 L227.0,1007.4 L227.0,1006.5 L227.1,1005.7 L227.2,1004.9 L227.3,1004.1 L227.3,1003.3 L227.4,1002.5 L227.5,1001.7 L227.5,1000.8 L227.6,1000.0 L227.7,999.2 L227.7,998.4 L227.8,997.6 L227.9,996.8 L228.0,996.0 L228.0,995.2 L228.1,994.3 L228.2,993.5 L228.2,992.7 L228.3,991.9 L228.4,991.1 L228.4,990.3 L228.5,989.5 L228.6,988.7 L228.7,987.8 L228.7,987.0 L228.8,986.2 L228.9,985.4 L228.9,984.6 L229.0,983.8 L229.1,983.0 L229.2,982.2 L229.2,981.3 L229.3,980.5 L229.3,980.2 M233.8,930.4 L233.9,930.2 L233.9,929.4 L234.0,928.5 L234.1,927.7 L234.2,926.9 L234.2,926.1 L234.3,925.3 L234.4,924.5 L234.5,923.7 L234.5,922.9 L234.6,922.0 L234.7,921.2 L234.8,920.4 L234.8,919.6 L234.9,918.8 L235.0,918.0 L235.1,917.2 L235.2,916.4 L235.2,915.6 L235.3,914.7 L235.4,913.9 L235.5,913.1 L235.5,912.3 L235.6,911.5 L235.7,910.7 L235.8,909.9 L235.8,909.1 L235.9,908.3 L236.0,907.4 L236.1,906.6 L236.2,905.8 L236.2,905.0 L236.3,904.2 L236.4,903.4 L236.5,902.6 L236.6,901.8 L236.6,901.0 L236.7,900.1 L236.8,899.3 L236.9,898.5 L236.9,897.7 L237.0,896.9 L237.1,896.1 L237.2,895.3 L237.3,894.5 L237.3,893.7 L237.4,892.8 L237.5,892.0 L237.6,891.2 L237.7,890.4 L237.7,889.6 L237.8,888.8 L237.9,888.0 L238.0,887.2 L238.0,886.4 L238.1,885.5 L238.2,884.7 L238.3,883.9 L238.4,883.1 L238.4,882.3 L238.5,881.5 L238.6,880.7 L238.6,880.6 M243.7,830.9 L243.7,830.4 L243.8,829.6 L243.9,828.8 L244.0,828.0 L244.0,827.2 L244.1,826.4 L244.2,825.6 L244.3,824.8 L244.4,823.9 L244.5,823.1 L244.6,822.3 L244.6,821.5 L244.7,820.7 L244.8,819.9 L244.9,819.1 L245.0,818.3 L245.1,817.5 L245.1,816.6 L245.2,815.8 L245.3,815.0 L245.4,814.2 L245.5,813.4 L245.6,812.6 L245.7,811.8 L245.7,811.0 L245.8,810.2 L245.9,809.4 L246.0,808.5 L246.1,807.7 L246.2,806.9 L246.3,806.1 L246.4,805.3 L246.4,804.5 L246.5,803.7 L246.6,802.9 L246.7,802.1 L246.8,801.3 L246.9,800.4 L247.0,799.6 L247.1,798.8 L247.1,798.0 L247.2,797.2 L247.3,796.4 L247.4,795.6 L247.5,794.8 L247.6,794.0 L247.7,793.2 L247.8,792.4 L247.8,791.5 L247.9,790.7 L248.0,789.9 L248.1,789.1 L248.2,788.3 L248.3,787.5 L248.4,786.7 L248.5,785.9 L248.5,785.1 L248.6,784.3 L248.7,783.4 L248.8,782.6 L248.9,781.8 L249.0,781.2 M254.6,731.5 L254.6,730.8 L254.7,730.0 L254.8,729.2 L254.9,728.4 L255.0,727.6 L255.1,726.8 L255.2,726.0 L255.3,725.2 L255.4,724.3 L255.5,723.5 L255.6,722.7 L255.7,721.9 L255.8,721.1 L255.9,720.3 L256.0,719.5 L256.1,718.7 L256.2,717.9 L256.2,717.1 L256.3,716.3 L256.4,715.4 L256.5,714.6 L256.6,713.8 L256.7,713.0 L256.8,712.2 L256.9,711.4 L257.0,710.6 L257.1,709.8 L257.2,709.0 L257.3,708.2 L257.4,707.4 L257.5,706.5 L257.6,705.7 L257.7,704.9 L257.8,704.1 L257.9,703.3 L258.0,702.5 L258.1,701.7 L258.2,700.9 L258.3,700.1 L258.4,699.3 L258.4,698.5 L258.5,697.6 L258.6,696.8 L258.7,696.0 L258.8,695.2 L258.9,694.4 L259.0,693.6 L259.1,692.8 L259.2,692.0 L259.3,691.2 L259.4,690.4 L259.5,689.6 L259.6,688.7 L259.7,687.9 L259.8,687.1 L259.9,686.3 L260.0,685.5 L260.1,684.7 L260.2,683.9 L260.3,683.1 L260.4,682.3 L260.5,681.8 M266.6,632.2 L266.6,632.1 L266.7,631.3 L266.8,630.5 L266.9,629.7 L267.0,628.9 L267.1,628.1 L267.3,627.2 L267.4,626.4 L267.5,625.6 L267.6,624.8 L267.7,624.0 L267.8,623.2 L267.9,622.4 L268.0,621.6 L268.1,620.8 L268.2,620.0 L268.3,619.2 L268.4,618.3 L268.5,617.5 L268.6,616.7 L268.7,615.9 L268.8,615.1 L268.9,614.3 L269.0,613.5 L269.1,612.7 L269.2,611.9 L269.3,611.1 L269.4,610.3 L269.5,609.4 L269.7,608.6 L269.8,607.8 L269.9,607.0 L270.0,606.2 L270.1,605.4 L270.2,604.6 L270.3,603.8 L270.4,603.0 L270.5,602.2 L270.6,601.4 L270.7,600.5 L270.8,599.7 L270.9,598.9 L271.0,598.1 L271.1,597.3 L271.2,596.5 L271.3,595.7 L271.5,594.9 L271.6,594.1 L271.7,593.3 L271.8,592.5 L271.9,591.6 L272.0,590.8 L272.1,590.0 L272.2,589.2 L272.3,588.4 L272.4,587.6 L272.5,586.8 L272.6,586.0 L272.7,585.2 L272.8,584.4 L273.0,583.6 L273.1,582.7 L273.1,582.6 M279.8,533.1 L279.9,532.6 L280.0,531.7 L280.1,530.9 L280.2,530.1 L280.4,529.3 L280.5,528.5 L280.6,527.7 L280.7,526.9 L280.8,526.1 L280.9,525.3 L281.0,524.5 L281.2,523.7 L281.3,522.8 L281.4,522.0 L281.5,521.2 L281.6,520.4 L281.7,519.6 L281.8,518.8 L282.0,518.0 L282.1,517.2 L282.2,516.4 L282.3,515.6 L282.4,514.7 L282.5,513.9 L282.6,513.1 L282.8,512.3 L282.9,511.5 L283.0,510.7 L283.1,509.9 L283.2,509.1 L283.3,508.3 L283.5,507.5 L283.6,506.6 L283.7,505.8 L283.8,505.0 L283.9,504.2 L284.0,503.4 L284.2,502.6 L284.3,501.8 L284.4,501.0 L284.5,500.2 L284.6,499.4 L284.7,498.6 L284.9,497.7 L285.0,496.9 L285.1,496.1 L285.2,495.3 L285.3,494.5 L285.4,493.7 L285.6,492.9 L285.7,492.1 L285.8,491.3 L285.9,490.5 L286.0,489.7 L286.2,488.8 L286.3,488.0 L286.4,487.2 L286.5,486.4 L286.6,485.6 L286.8,484.8 L286.9,484.0 L286.9,483.6 M294.5,434.2 L294.6,433.9 L294.7,433.1 L294.8,432.3 L294.9,431.5 L295.1,430.7 L295.2,429.9 L295.3,429.1 L295.5,428.2 L295.6,427.4 L295.7,426.6 L295.9,425.8 L296.0,425.0 L296.1,424.2 L296.3,423.4 L296.4,422.6 L296.5,421.8 L296.6,421.0 L296.8,420.2 L296.9,419.4 L297.0,418.6 L297.2,417.8 L297.3,417.0 L297.4,416.2 L297.6,415.3 L297.7,414.5 L297.8,413.7 L298.0,412.9 L298.1,412.1 L298.2,411.3 L298.4,410.5 L298.5,409.7 L298.7,408.9 L298.8,408.1 L298.9,407.3 L299.1,406.5 L299.2,405.7 L299.3,404.9 L299.5,404.1 L299.6,403.3 L299.7,402.5 L299.9,401.7 L300.0,400.9 L300.1,400.1 L300.3,399.3 L300.4,398.4 L300.6,397.6 L300.7,396.8 L300.8,396.0 L301.0,395.2 L301.1,394.4 L301.3,393.6 L301.4,392.8 L301.5,392.0 L301.7,391.2 L301.8,390.4 L301.9,389.6 L302.1,388.8 L302.2,388.0 L302.4,387.2 L302.5,386.4 L302.7,385.6 L302.8,384.8 M311.9,335.7 L312.0,335.2 L312.2,334.4 L312.3,333.6 L312.5,332.8 L312.6,332.0 L312.8,331.2 L313.0,330.4 L313.1,329.6 L313.3,328.8 L313.4,328.0 L313.6,327.2 L313.8,326.4 L313.9,325.6 L314.1,324.8 L314.2,324.0 L314.4,323.2 L314.6,322.4 L314.7,321.6 L314.9,320.8 L315.0,320.0 L315.2,319.2 L315.4,318.5 L315.5,317.7 L315.7,316.9 L315.9,316.1 L316.0,315.3 L316.2,314.5 L316.3,313.7 L316.5,312.9 L316.7,312.1 L316.8,311.3 L317.0,310.5 L317.2,309.7 L317.3,308.9 L317.5,308.1 L317.7,307.3 L317.8,306.5 L318.0,305.7 L318.2,305.0 L318.3,304.2 L318.5,303.4 L318.7,302.6 L318.8,301.8 L319.0,301.0 L319.2,300.2 L319.4,299.4 L319.5,298.6 L319.7,297.8 L319.9,297.0 L320.0,296.2 L320.2,295.4 L320.4,294.7 L320.5,293.9 L320.7,293.1 L320.9,292.3 L321.1,291.5 L321.2,290.7 L321.4,289.9 L321.6,289.1 L321.8,288.3 L321.9,287.5 L322.1,286.8 L322.1,286.7 M333.6,238.1 L333.6,238.0 L333.8,237.3 L334.0,236.5 L334.2,235.7 L334.4,234.9 L334.6,234.1 L334.8,233.3 L335.0,232.6 L335.2,231.8 L335.4,231.0 L335.6,230.2 L335.8,229.4 L336.0,228.7 L336.2,227.9 L336.4,227.1 L336.6,226.3 L336.8,225.5 L337.0,224.8 L337.2,224.0 L337.4,223.2 L337.6,222.4 L337.8,221.6 L338.0,220.9 L338.2,220.1 L338.4,219.3 L338.7,218.5 L338.9,217.8 L339.1,217.0 L339.3,216.2 L339.5,215.4 L339.7,214.6 L339.9,213.9 L340.1,213.1 L340.4,212.3 L340.6,211.5 L340.8,210.7 L341.0,210.0 L341.2,209.2 L341.4,208.4 L341.7,207.6 L341.9,206.9 L342.1,206.1 L342.3,205.3 L342.5,204.5 L342.8,203.7 L343.0,203.0 L343.2,202.2 L343.4,201.4 L343.7,200.6 L343.9,199.9 L344.1,199.1 L344.4,198.3 L344.6,197.5 L344.8,196.8 L345.0,196.0 L345.3,195.2 L345.5,194.4 L345.7,193.6 L346.0,192.9 L346.2,192.1 L346.5,191.3 L346.7,190.5 L346.9,189.9 M363.3,142.7 L363.4,142.4 L363.7,141.6 L364.0,140.8 L364.3,140.1 L364.6,139.3 L364.9,138.5 L365.2,137.7 L365.5,136.9 L365.8,136.2 L366.2,135.4 L366.5,134.6 L366.8,133.8 L367.1,133.1 L367.4,132.3 L367.8,131.5 L368.1,130.7 L368.4,129.9 L368.7,129.2 L369.1,128.4 L369.4,127.6 L369.7,126.8 L370.1,126.0 L370.4,125.3 L370.7,124.5 L371.1,123.7 L371.4,122.9 L371.7,122.1 L372.1,121.4 L372.4,120.6 L372.8,119.8 L373.1,119.0 L373.5,118.2 L373.8,117.5 L374.2,116.7 L374.5,115.9 L374.9,115.1 L375.2,114.4 L375.6,113.6 L375.9,112.8 L376.3,112.0 L376.7,111.2 L377.0,110.5 L377.4,109.7 L377.8,108.9 L378.1,108.1 L378.5,107.4 L378.9,106.6 L379.2,105.8 L379.6,105.0 L380.0,104.3 L380.4,103.5 L380.8,102.7 L381.1,102.0 L381.5,101.2 L381.9,100.5 L382.3,99.7 L382.7,98.9 L383.1,98.2 L383.5,97.4 L383.7,97.0 M413.3,57.1 L413.4,57.0 L413.9,56.5 L414.5,56.0 L415.1,55.5 L415.7,55.1 L416.3,54.6 L416.9,54.1 L417.5,53.7 L418.1,53.2 L418.7,52.7 L419.4,52.3 L420.0,51.9 L420.6,51.4 L421.2,51.0 L421.9,50.6 L422.5,50.2 L423.2,49.8 L423.8,49.4 L424.5,49.0 L425.1,48.6 L425.8,48.3 L426.4,47.9 L427.1,47.5 L427.8,47.2 L428.4,46.9 L429.1,46.5 L429.8,46.2 L430.5,45.9 L431.2,45.6 L431.9,45.3 L432.6,45.0 L433.3,44.7 L434.0,44.4 L434.7,44.1 L435.4,43.9 L436.1,43.6 L436.9,43.4 L437.6,43.1 L438.3,42.9 L439.0,42.7 L439.8,42.5 L440.5,42.3 L441.3,42.1 L442.0,41.9 L442.8,41.7 L443.5,41.5 L444.3,41.4 L445.0,41.2 L445.8,41.0 L446.5,40.9 L447.3,40.8 L448.0,40.6 L448.8,40.5 L449.6,40.4 L450.3,40.3 L451.1,40.2 L451.9,40.1 L452.6,40.0 L453.4,40.0 L454.2,39.9 L455.0,39.8 L455.7,39.8 L456.5,39.8 L457.3,39.7 L458.1,39.7 L458.9,39.7 L459.0,39.7 M505.5,52.3 L505.5,52.4 L506.2,52.8 L507.0,53.2 L507.7,53.6 L508.4,54.0 L509.2,54.4 L509.9,54.8 L510.6,55.2 L511.4,55.7 L512.1,56.1 L512.8,56.5 L513.5,57.0 L514.3,57.4 L515.0,57.8 L515.7,58.3 L516.4,58.7 L517.1,59.2 L517.9,59.7 L518.6,60.1 L519.3,60.6 L520.0,61.0 L520.7,61.5 L521.4,62.0 L522.1,62.5 L522.8,63.0 L523.5,63.4 L524.2,63.9 L524.9,64.4 L525.6,64.9 L526.3,65.4 L527.0,65.9 L527.7,66.4 L528.4,66.9 L529.1,67.4 L529.8,67.9 L530.5,68.4 L531.2,69.0 L531.9,69.5 L532.6,70.0 L533.2,70.5 L533.9,71.0 L534.6,71.6 L535.3,72.1 L536.0,72.6 L536.6,73.1 L537.3,73.7 L538.0,74.2 L538.6,74.7 L539.3,75.3 L540.0,75.8 L540.6,76.3 L541.3,76.9 L542.0,77.4 L542.6,78.0 L543.3,78.5 L543.9,79.0 L544.6,79.6 L545.2,80.1 L545.9,80.7 L546.3,81.0 M582.1,114.2 L582.2,114.4 L582.8,115.0 L583.4,115.6 L584.0,116.1 L584.5,116.7 L585.1,117.3 L585.7,117.9 L586.2,118.4 L586.8,119.0 L587.4,119.6 L587.9,120.2 L588.5,120.8 L589.1,121.3 L589.6,121.9 L590.2,122.5 L590.8,123.1 L591.3,123.6 L591.9,124.2 L592.4,124.8 L593.0,125.4 L593.6,126.0 L594.1,126.5 L594.7,127.1 L595.3,127.7 L595.8,128.3 L596.4,128.9 L596.9,129.5 L597.5,130.0 L598.1,130.6 L598.6,131.2 L599.2,131.8 L599.7,132.4 L600.3,132.9 L600.9,133.5 L601.4,134.1 L602.0,134.7 L602.5,135.3 L603.1,135.9 L603.6,136.4 L604.2,137.0 L604.8,137.6 L605.3,138.2 L605.9,138.8 L606.4,139.4 L607.0,139.9 L607.6,140.5 L608.1,141.1 L608.7,141.7 L609.2,142.3 L609.8,142.9 L610.3,143.4 L610.9,144.0 L611.5,144.6 L612.0,145.2 L612.6,145.8 L613.1,146.4 L613.7,146.9 L614.3,147.5 L614.8,148.1 L615.4,148.7 L615.9,149.3 L616.5,149.9 L616.8,150.2 M651.5,186.2 L652.0,186.6 L652.5,187.2 L653.1,187.8 L653.7,188.4 L654.2,189.0 L654.8,189.6 L655.4,190.1 L656.0,190.7 L656.5,191.3 L657.1,191.9 L657.7,192.5 L658.2,193.1 L658.8,193.6 L659.4,194.2 L659.9,194.8 L660.5,195.4 L661.1,196.0 L661.6,196.5 L662.2,197.1 L662.8,197.7 L663.3,198.3 L663.9,198.9 L664.5,199.5 L665.1,200.0 L665.6,200.6 L666.2,201.2 L666.8,201.8 L667.3,202.4 L667.9,202.9 L668.5,203.5 L669.1,204.1 L669.6,204.7 L670.2,205.3 L670.8,205.8 L671.3,206.4 L671.9,207.0 L672.5,207.6 L673.1,208.2 L673.6,208.7 L674.2,209.3 L674.8,209.9 L675.4,210.5 L675.9,211.1 L676.5,211.6 L677.1,212.2 L677.6,212.8 L678.2,213.4 L678.8,213.9 L679.4,214.5 L679.9,215.1 L680.5,215.7 L681.1,216.3 L681.7,216.8 L682.2,217.4 L682.8,218.0 L683.4,218.6 L684.0,219.1 L684.6,219.7 L685.1,220.3 L685.7,220.9 L686.3,221.5 L686.6,221.8 M722.4,256.8 L722.4,256.8 L723.0,257.4 L723.6,258.0 L724.2,258.5 L724.8,259.1 L725.4,259.7 L726.0,260.2 L726.6,260.8 L727.2,261.3 L727.8,261.9 L728.4,262.5 L729.0,263.0 L729.5,263.6 L730.1,264.2 L730.7,264.7 L731.3,265.3 L731.9,265.8 L732.5,266.4 L733.1,267.0 L733.7,267.5 L734.3,268.1 L734.9,268.6 L735.5,269.2 L736.1,269.8 L736.7,270.3 L737.3,270.9 L737.9,271.4 L738.5,272.0 L739.1,272.5 L739.7,273.1 L740.3,273.7 L740.9,274.2 L741.5,274.8 L742.1,275.3 L742.7,275.9 L743.3,276.4 L743.9,277.0 L744.5,277.5 L745.1,278.1 L745.7,278.7 L746.3,279.2 L746.9,279.8 L747.5,280.3 L748.1,280.9 L748.7,281.4 L749.3,282.0 L749.9,282.5 L750.5,283.1 L751.1,283.6 L751.7,284.2 L752.3,284.7 L752.9,285.3 L753.5,285.8 L754.1,286.4 L754.7,286.9 L755.3,287.5 L755.9,288.0 L756.5,288.6 L757.1,289.1 L757.7,289.7 L758.3,290.2 L758.9,290.8 L759.0,290.8 M796.7,323.6 L797.1,324.0 L797.7,324.5 L798.4,325.0 L799.0,325.6 L799.6,326.1 L800.2,326.6 L800.9,327.1 L801.5,327.6 L802.1,328.2 L802.7,328.7 L803.4,329.2 L804.0,329.7 L804.6,330.2 L805.3,330.8 L805.9,331.3 L806.5,331.8 L807.2,332.3 L807.8,332.8 L808.4,333.3 L809.1,333.9 L809.7,334.4 L810.3,334.9 L811.0,335.4 L811.6,335.9 L812.2,336.4 L812.9,337.0 L813.5,337.5 L814.1,338.0 L814.8,338.5 L815.4,339.0 L816.0,339.5 L816.7,340.0 L817.3,340.5 L817.9,341.0 L818.6,341.5 L819.2,342.1 L819.9,342.6 L820.5,343.1 L821.1,343.6 L821.8,344.1 L822.4,344.6 L823.1,345.1 L823.7,345.6 L824.3,346.1 L825.0,346.6 L825.6,347.1 L826.3,347.6 L826.9,348.1 L827.5,348.6 L828.2,349.1 L828.8,349.6 L829.5,350.1 L830.1,350.6 L830.8,351.1 L831.4,351.6 L832.1,352.1 L832.7,352.6 L833.3,353.1 L834.0,353.6 L834.6,354.1 L835.3,354.6 L835.7,354.9 M876.0,384.5 L876.1,384.5 L876.7,385.0 L877.4,385.5 L878.1,385.9 L878.7,386.4 L879.4,386.9 L880.1,387.3 L880.7,387.8 L881.4,388.3 L882.1,388.7 L882.7,389.2 L883.4,389.7 L884.1,390.1 L884.8,390.6 L885.4,391.1 L886.1,391.5 L886.8,392.0 L887.5,392.4 L888.1,392.9 L888.8,393.4 L889.5,393.8 L890.1,394.3 L890.8,394.7 L891.5,395.2 L892.2,395.6 L892.8,396.1 L893.5,396.6 L894.2,397.0 L894.9,397.5 L895.6,397.9 L896.2,398.4 L896.9,398.8 L897.6,399.3 L898.3,399.7 L898.9,400.2 L899.6,400.6 L900.3,401.1 L901.0,401.5 L901.7,402.0 L902.3,402.4 L903.0,402.9 L903.7,403.3 L904.4,403.8 L905.1,404.2 L905.7,404.7 L906.4,405.1 L907.1,405.6 L907.8,406.0 L908.5,406.5 L909.2,406.9 L909.8,407.4 L910.5,407.8 L911.2,408.3 L911.9,408.7 L912.6,409.1 L913.3,409.6 L914.0,410.0 L914.6,410.5 L915.3,410.9 L916.0,411.4 L916.7,411.8 L917.4,412.2 L917.5,412.3 M960.2,438.4 L960.5,438.6 L961.2,439.0 L961.9,439.4 L962.6,439.8 L963.4,440.2 L964.1,440.6 L964.8,441.0 L965.5,441.4 L966.2,441.8 L966.9,442.3 L967.6,442.7 L968.3,443.1 L969.0,443.5 L969.7,443.9 L970.4,444.3 L971.1,444.7 L971.8,445.1 L972.6,445.5 L973.3,445.9 L974.0,446.3 L974.7,446.7 L975.4,447.1 L976.1,447.5 L976.8,447.9 L977.5,448.3 L978.2,448.7 L978.9,449.1 L979.7,449.5 L980.4,449.9 L981.1,450.3 L981.8,450.7 L982.5,451.1 L983.2,451.5 L983.9,451.9 L984.7,452.3 L985.4,452.6 L986.1,453.0 L986.8,453.4 L987.5,453.8 L988.2,454.2 L988.9,454.6 L989.7,455.0 L990.4,455.4 L991.1,455.8 L991.8,456.2 L992.5,456.6 L993.2,457.0 L994.0,457.3 L994.7,457.7 L995.4,458.1 L996.1,458.5 L996.8,458.9 L997.5,459.3 L998.3,459.7 L999.0,460.0 L999.7,460.4 L1000.4,460.8 L1001.1,461.2 L1001.9,461.6 L1002.6,462.0 L1003.3,462.3 L1003.9,462.7 M1048.6,485.1 L1049.2,485.4 L1049.9,485.8 L1050.6,486.1 L1051.4,486.5 L1052.1,486.8 L1052.8,487.2 L1053.6,487.5 L1054.3,487.9 L1055.1,488.2 L1055.8,488.6 L1056.5,488.9 L1057.3,489.3 L1058.0,489.6 L1058.7,490.0 L1059.5,490.3 L1060.2,490.7 L1061.0,491.0 L1061.7,491.3 L1062.4,491.7 L1063.2,492.0 L1063.9,492.4 L1064.7,492.7 L1065.4,493.0 L1066.1,493.4 L1066.9,493.7 L1067.6,494.1 L1068.4,494.4 L1069.1,494.7 L1069.8,495.1 L1070.6,495.4 L1071.3,495.8 L1072.1,496.1 L1072.8,496.4 L1073.5,496.8 L1074.3,497.1 L1075.0,497.4 L1075.8,497.8 L1076.5,498.1 L1077.3,498.4 L1078.0,498.8 L1078.8,499.1 L1079.5,499.4 L1080.2,499.8 L1081.0,500.1 L1081.7,500.4 L1082.5,500.8 L1083.2,501.1 L1084.0,501.4 L1084.7,501.7 L1085.5,502.1 L1086.2,502.4 L1086.9,502.7 L1087.7,503.1 L1088.4,503.4 L1089.2,503.7 L1089.9,504.0 L1090.7,504.4 L1091.4,504.7 L1092.2,505.0 L1092.9,505.3 L1093.7,505.7 L1094.1,505.8 M1140.4,524.7 L1140.4,524.8 L1141.2,525.1 L1141.9,525.3 L1142.7,525.6 L1143.5,525.9 L1144.2,526.2 L1145.0,526.5 L1145.7,526.8 L1146.5,527.1 L1147.3,527.4 L1148.0,527.7 L1148.8,528.0 L1149.6,528.3 L1150.3,528.5 L1151.1,528.8 L1151.8,529.1 L1152.6,529.4 L1153.4,529.7 L1154.1,530.0 L1154.9,530.3 L1155.7,530.5 L1156.4,530.8 L1157.2,531.1 L1157.9,531.4 L1158.7,531.7 L1159.5,532.0 L1160.2,532.3 L1161.0,532.5 L1161.8,532.8 L1162.5,533.1 L1163.3,533.4 L1164.1,533.7 L1164.8,533.9 L1165.6,534.2 L1166.4,534.5 L1167.1,534.8 L1167.9,535.1 L1168.7,535.3 L1169.4,535.6 L1170.2,535.9 L1171.0,536.2 L1171.7,536.4 L1172.5,536.7 L1173.3,537.0 L1174.0,537.3 L1174.8,537.5 L1175.6,537.8 L1176.3,538.1 L1177.1,538.4 L1177.9,538.6 L1178.6,538.9 L1179.4,539.2 L1180.2,539.4 L1180.9,539.7 L1181.7,540.0 L1182.5,540.3 L1183.2,540.5 L1184.0,540.8 L1184.8,541.1 L1185.6,541.3 L1186.3,541.6 L1187.1,541.9 L1187.3,541.9 M1234.8,557.5 L1235.1,557.6 L1235.9,557.9 L1236.7,558.1 L1237.5,558.3 L1238.2,558.6 L1239.0,558.8 L1239.8,559.1 L1240.6,559.3 L1241.4,559.5 L1242.1,559.8 L1242.9,560.0 L1243.7,560.2 L1244.5,560.5 L1245.3,560.7 L1246.0,561.0 L1246.8,561.2 L1247.6,561.4 L1248.4,561.7 L1249.2,561.9 L1250.0,562.1 L1250.7,562.4 L1251.5,562.6 L1252.3,562.8 L1253.1,563.1 L1253.9,563.3 L1254.6,563.5 L1255.4,563.7 L1256.2,564.0 L1257.0,564.2 L1257.8,564.4 L1258.6,564.7 L1259.3,564.9 L1260.1,565.1 L1260.9,565.4 L1261.7,565.6 L1262.5,565.8 L1263.3,566.0 L1264.0,566.3 L1264.8,566.5 L1265.6,566.7 L1266.4,566.9 L1267.2,567.2 L1268.0,567.4 L1268.8,567.6 L1269.5,567.8 L1270.3,568.1 L1271.1,568.3 L1271.9,568.5 L1272.7,568.7 L1273.5,568.9 L1274.3,569.2 L1275.0,569.4 L1275.8,569.6 L1276.6,569.8 L1277.4,570.1 L1278.2,570.3 L1279.0,570.5 L1279.8,570.7 L1280.5,570.9 L1281.3,571.1 L1282.1,571.4 L1282.8,571.6 M1331.2,584.1 L1331.9,584.3 L1332.7,584.5 L1333.5,584.7 L1334.3,584.9 L1335.1,585.1 L1335.9,585.3 L1336.7,585.5 L1337.4,585.6 L1338.2,585.8 L1339.0,586.0 L1339.8,586.2 L1340.6,586.4 L1341.4,586.6 L1342.2,586.8 L1343.0,587.0 L1343.8,587.2 L1344.6,587.3 L1345.4,587.5 L1346.2,587.7 L1347.0,587.9 L1347.8,588.1 L1348.6,588.3 L1349.4,588.5 L1350.2,588.7 L1351.0,588.8 L1351.8,589.0 L1352.6,589.2 L1353.3,589.4 L1354.1,589.6 L1354.9,589.8 L1355.7,589.9 L1356.5,590.1 L1357.3,590.3 L1358.1,590.5 L1358.9,590.7 L1359.7,590.8 L1360.5,591.0 L1361.3,591.2 L1362.1,591.4 L1362.9,591.6 L1363.7,591.7 L1364.5,591.9 L1365.3,592.1 L1366.1,592.3 L1366.9,592.5 L1367.7,592.6 L1368.5,592.8 L1369.3,593.0 L1370.1,593.2 L1370.9,593.3 L1371.7,593.5 L1372.5,593.7 L1373.3,593.9 L1374.1,594.0 L1374.9,594.2 L1375.7,594.4 L1376.5,594.6 L1377.3,594.7 L1378.1,594.9 L1378.9,595.1 L1379.6,595.3 L1379.9,595.3 M1428.9,605.2 L1429.3,605.3 L1430.1,605.4 L1430.9,605.6 L1431.7,605.7 L1432.5,605.9 L1433.3,606.0 L1434.1,606.2 L1434.9,606.3 L1435.7,606.5 L1436.5,606.6 L1437.3,606.8 L1438.1,606.9 L1438.9,607.1 L1439.7,607.2 L1440.5,607.4 L1441.3,607.5 L1442.1,607.7 L1442.9,607.8 L1443.7,608.0 L1444.5,608.1 L1445.3,608.3 L1446.1,608.4 L1446.9,608.5 L1447.7,608.7 L1448.5,608.8 L1449.3,609.0 L1450.1,609.1 L1450.9,609.3 L1451.7,609.4 L1452.5,609.5 L1453.4,609.7 L1454.2,609.8 L1455.0,610.0 L1455.8,610.1 L1456.6,610.3 L1457.4,610.4 L1458.2,610.5 L1459.0,610.7 L1459.8,610.8 L1460.6,611.0 L1461.4,611.1 L1462.2,611.2 L1463.0,611.4 L1463.8,611.5 L1464.6,611.6 L1465.4,611.8 L1466.2,611.9 L1467.0,612.1 L1467.8,612.2 L1468.6,612.3 L1469.4,612.5 L1470.2,612.6 L1471.0,612.7 L1471.8,612.9 L1472.6,613.0 L1473.5,613.1 L1474.3,613.3 L1475.1,613.4 L1475.9,613.5 L1476.7,613.7 L1477.5,613.8 L1478.2,613.9 M1527.6,621.5 L1528.2,621.6 L1529.0,621.7 L1529.8,621.8 L1530.6,621.9 L1531.4,622.0 L1532.2,622.1 L1533.0,622.3 L1533.8,622.4 L1534.6,622.5 L1535.5,622.6 L1536.3,622.7 L1537.1,622.8 L1537.9,622.9 L1538.7,623.0 L1539.5,623.1 L1540.3,623.3 L1541.1,623.4 L1541.9,623.5 L1542.7,623.6 L1543.5,623.7 L1544.3,623.8 L1545.1,623.9 L1545.9,624.0 L1546.7,624.1 L1547.5,624.2 L1548.3,624.3 L1549.2,624.4 L1550.0,624.6 L1550.8,624.7 L1551.6,624.8 L1552.4,624.9 L1553.2,625.0 L1554.0,625.1 L1554.8,625.2 L1555.6,625.3 L1556.4,625.4 L1557.2,625.5 L1558.0,625.6 L1558.8,625.7 L1559.6,625.8 L1560.4,625.9 L1561.2,626.0 L1562.0,626.1 L1562.8,626.2 L1563.7,626.3 L1564.5,626.4 L1565.3,626.5 L1566.1,626.6 L1566.9,626.7 L1567.7,626.8 L1568.5,626.9 L1569.3,627.0 L1570.1,627.1 L1570.9,627.2 L1571.7,627.3 L1572.5,627.4 L1573.3,627.5 L1574.1,627.6 L1574.9,627.7 L1575.7,627.8 L1576.5,627.9 L1577.2,628.0" stroke="#00ff00"/>
</g></g>
<g fill="#000" stroke="#000" stroke-width="2" stroke-linejoin="miter" stroke-miterlimit="2" shape-rendering="crispEdges">
<polygon points="342.4,253.8 278.7,115.3 290.9,117.8 258.3,85.5 261.5,131.4 267.5,120.5 331.1,259.0"/>
<polygon points="388.3,136.7 475.3,203.5 463.3,206.9 507.3,220.2 483.1,181.2 482.9,193.6 395.9,126.9"/>
<polygon points="727.1,224.5 560.5,400.7 558.3,388.5 540.5,430.9 581.8,410.7 569.5,409.3 736.1,233.0"/>
<polygon points="872.7,332.2 1009.1,155.2 1012.5,167.1 1025.9,123.2 986.9,147.4 999.3,147.6 862.9,324.6"/>
</g><g fill="#000" shape-rendering="crispEdges">
<path fill-rule="evenodd" d="M430,873H1393V1078.5H430Z M439,882V1070H1383V882Z"/>
</g>
<g fill="none" stroke-width="14" shape-rendering="crispEdges">
<path d="M481,624L732,625.3" stroke="#0000ff" stroke-dasharray="50.8 49.2"/>
<path d="M487,696L738,697.2" stroke="#ff0000"/>
<path d="M468,762L720,765.8" stroke="#00ff00" stroke-dasharray="51.5 48.5"/>
</g>
<g font-family="'Liberation Sans', sans-serif" fill="#000">
<text x="1112.3" y="185.5" font-weight="bold" font-size="50" id="pc">Passive control</text>
<text transform="translate(756,640.7) scale(1.1,1)" font-family="'DejaVu Sans', 'Liberation Sans', sans-serif" font-style="italic" font-weight="bold" font-size="49" id="lam0">λ</text>
<text x="802.2" y="640.2" font-weight="bold" font-size="50" id="leg0" xml:space="preserve">= -0.2, -0.5, -0.7</text>
<text transform="translate(756,706.0) scale(1.1,1)" font-family="'DejaVu Sans', 'Liberation Sans', sans-serif" font-style="italic" font-weight="bold" font-size="49" id="lam1">λ</text>
<text x="802.2" y="705.5" font-weight="bold" font-size="50" id="leg1" xml:space="preserve">= 0.0</text>
<text transform="translate(756,771.5) scale(1.1,1)" font-family="'DejaVu Sans', 'Liberation Sans', sans-serif" font-style="italic" font-weight="bold" font-size="49" id="lam2">λ</text>
<text x="802.2" y="771.0" font-weight="bold" font-size="50" id="leg2" xml:space="preserve">= 0.2, 0.5, 0.7</text>
<text x="456.0" y="939.8" font-size="46.5" xml:space="preserve" stroke="#000" stroke-width="1.3" stroke-linejoin="round">Pr = 0.773, B</text>
<text x="737.0" y="962.0" font-size="40.3" xml:space="preserve" stroke="#000" stroke-width="1.3" stroke-linejoin="round">m</text>
<text x="771.5" y="939.8" font-size="46.5" xml:space="preserve" stroke="#000" stroke-width="1.3" stroke-linejoin="round">= T</text>
<text x="843.5" y="962.0" font-size="40.3" xml:space="preserve" stroke="#000" stroke-width="1.3" stroke-linejoin="round">p</text>
<text x="868.3" y="939.8" font-size="46.5" xml:space="preserve" stroke="#000" stroke-width="1.3" stroke-linejoin="round">= 0.1, Sc = 5, Kc = D</text>
<text x="1311.5" y="962.0" font-size="40.3" xml:space="preserve" stroke="#000" stroke-width="1.3" stroke-linejoin="round">f</text>
<text x="454.5" y="1032.8" font-size="46.5" xml:space="preserve" stroke="#000" stroke-width="1.3" stroke-linejoin="round">=Sr</text>
<text x="543.5" y="1032.8" font-size="46.5" xml:space="preserve" stroke="#000" stroke-width="1.3" stroke-linejoin="round">= 0.1,</text>
<text x="694.0" y="1032.8" font-size="50.0" xml:space="preserve" font-family="'Liberation Sans', 'DejaVu Sans', sans-serif" font-style="italic" font-weight="bold" stroke="#000" stroke-width="0.8">β</text>
<text x="723.5" y="1014.8" font-size="40.3" xml:space="preserve" >*</text>
<text x="739.5" y="1032.8" font-size="46.5" xml:space="preserve" stroke="#000" stroke-width="1.3" stroke-linejoin="round">=1,Le=3, M=2,</text>
<text x="1062.5" y="1032.8" font-size="42.0" xml:space="preserve" font-family="'Liberation Sans', 'DejaVu Sans', sans-serif" font-style="italic" font-weight="bold" stroke="#000" stroke-width="1.6">σ</text>
<text x="1093.5" y="1055.3" font-size="40.3" xml:space="preserve" stroke="#000" stroke-width="1.3" stroke-linejoin="round">f</text>
<text x="1106.0" y="1032.8" font-size="46.5" xml:space="preserve" stroke="#000" stroke-width="1.3" stroke-linejoin="round">=0.2</text>
</g>
</svg>
</body></html>
